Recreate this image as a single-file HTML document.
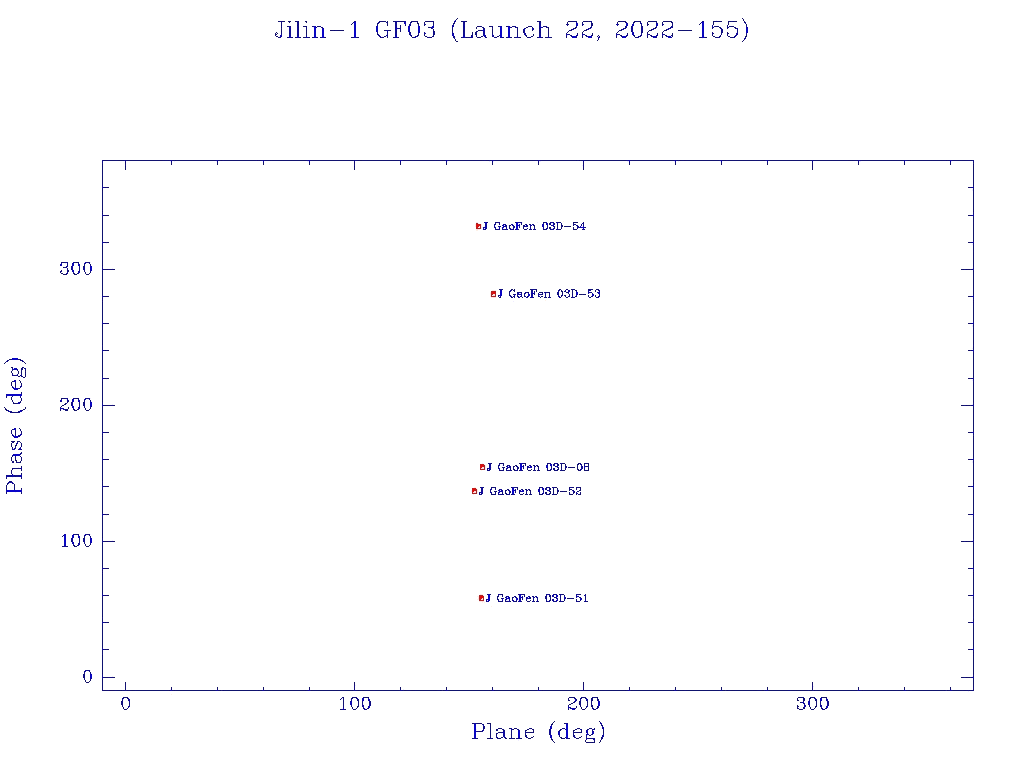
<!DOCTYPE html>
<html><head><meta charset="utf-8"><title>Jilin-1 GF03 (Launch 22, 2022-155)</title>
<style>html,body{margin:0;padding:0;background:#fff;}body{width:1024px;height:768px;overflow:hidden;}svg{display:block;}</style>
</head><body>
<svg width="1024" height="768" viewBox="0 0 1024 768" shape-rendering="crispEdges" role="img" aria-label="Jilin-1 GF03 (Launch 22, 2022-155): Phase (deg) versus Plane (deg) for J GaoFen 03D-54, 03D-53, 03D-08, 03D-52, 03D-51">
<desc>Jilin-1 GF03 (Launch 22, 2022-155). X axis: Plane (deg), ticks 0, 100, 200, 300. Y axis: Phase (deg), ticks 0, 100, 200, 300. Points: J GaoFen 03D-54, J GaoFen 03D-53, J GaoFen 03D-08, J GaoFen 03D-52, J GaoFen 03D-51.</desc>
<rect width="1024" height="768" fill="#fff"/>
<path fill="#eeebff" d="M454 20h1v1h-1zM716 20h1v1h-1zM541 22h1v1h-1zM577 22h1v1h-1zM657 22h1v1h-1zM675 22h1v1h-1zM353 23h1v1h-1zM701 23h1v1h-1zM408 25h1v1h-1zM508 25h1v1h-1zM428 26h1v1h-1zM431 26h1v1h-1zM510 26h1v1h-1zM541 26h1v1h-1zM547 26h1v1h-1zM713 26h1v1h-1zM313 27h1v1h-1zM397 27h1v1h-1zM591 28h1v1h-1zM630 28h1v1h-1zM667 28h1v1h-1zM397 29h1v1h-1zM589 29h1v1h-1zM669 29h1v1h-1zM425 32h1v1h-1zM453 32h1v1h-1zM736 32h1v1h-1zM386 34h1v1h-1zM474 34h1v1h-1zM493 34h1v1h-1zM590 34h1v1h-1zM567 35h1v1h-1zM583 35h1v1h-1zM617 35h1v1h-1zM646 35h1v1h-1zM663 35h1v1h-1zM669 35h1v1h-1zM279 36h1v1h-1zM316 36h1v1h-1zM324 36h1v1h-1zM382 36h1v1h-1zM386 36h1v1h-1zM414 36h1v1h-1zM427 36h1v1h-1zM429 36h1v1h-1zM462 36h1v1h-1zM465 36h1v1h-1zM470 36h1v1h-1zM475 36h1v1h-1zM495 36h1v1h-1zM507 36h1v1h-1zM516 36h1v1h-1zM598 36h1v1h-1zM671 36h1v1h-1zM704 36h1v1h-1zM455 37h1v1h-1zM652 37h1v1h-1zM484 38h1v1h-1zM702 38h1v1h-1zM170 161h1v1h-1zM174 161h1v1h-1zM216 161h1v1h-1zM307 161h2v1h-2zM447 161h1v1h-1zM489 161h1v1h-1zM493 161h1v1h-1zM539 161h2v1h-2zM627 161h2v1h-2zM674 161h1v1h-1zM678 161h1v1h-1zM720 161h1v1h-1zM859 161h2v1h-2zM951 161h1v1h-1zM582 165h1v1h-1zM972 189h1v1h-1zM972 190h1v1h-1zM477 222h1v1h-1zM522 222h1v1h-1zM537 222h1v1h-1zM498 223h1v1h-1zM518 223h1v1h-1zM520 223h1v1h-1zM551 223h2v1h-2zM556 223h1v1h-1zM514 224h1v1h-1zM518 224h1v1h-1zM552 224h1v1h-1zM504 225h1v1h-1zM508 225h1v1h-1zM525 225h1v1h-1zM484 226h1v1h-1zM495 226h1v1h-1zM518 226h1v1h-1zM555 226h1v1h-1zM581 226h2v1h-2zM482 227h1v1h-1zM498 227h1v1h-1zM501 227h1v1h-1zM505 227h1v1h-1zM526 227h1v1h-1zM481 228h1v1h-1zM484 228h1v1h-1zM498 228h1v1h-1zM503 228h1v1h-1zM511 228h2v1h-2zM526 228h1v1h-1zM531 228h1v1h-1zM542 228h1v1h-1zM551 228h2v1h-2zM582 228h1v1h-1zM482 229h1v1h-1zM106 243h1v1h-1zM972 244h1v1h-1zM84 262h1v1h-1zM90 262h1v1h-1zM65 263h1v1h-1zM88 263h1v1h-1zM112 268h1v1h-1zM972 268h1v1h-1zM559 291h1v1h-1zM589 291h1v1h-1zM598 291h1v1h-1zM519 293h2v1h-2zM530 293h1v1h-1zM543 293h2v1h-2zM546 293h1v1h-1zM589 293h1v1h-1zM515 295h1v1h-1zM539 295h2v1h-2zM519 296h1v1h-1zM573 296h1v1h-1zM513 301h1v1h-1zM972 325h1v1h-1zM972 326h1v1h-1zM972 348h1v1h-1zM13 368h1v1h-1zM20 372h1v1h-1zM13 374h1v1h-1zM16 374h1v1h-1zM106 379h1v1h-1zM972 380h1v1h-1zM14 387h1v1h-1zM7 396h1v1h-1zM11 396h1v1h-1zM90 398h1v1h-1zM66 399h1v1h-1zM88 399h1v1h-1zM91 401h1v1h-1zM78 403h1v1h-1zM112 404h1v1h-1zM972 404h1v1h-1zM61 407h1v1h-1zM61 409h2v1h-2zM27 410h1v1h-1zM20 431h1v1h-1zM20 433h1v1h-1zM14 435h1v1h-1zM18 437h1v1h-1zM13 448h1v1h-1zM14 457h1v1h-1zM13 460h1v1h-1zM972 461h1v1h-1zM972 462h1v1h-1zM482 463h1v1h-1zM498 464h1v1h-1zM552 464h1v1h-1zM502 465h1v1h-1zM508 466h1v1h-1zM529 466h1v1h-1zM550 466h1v1h-1zM580 466h1v1h-1zM18 467h1v1h-1zM491 467h1v1h-1zM522 467h1v1h-1zM535 467h1v1h-1zM556 467h1v1h-1zM583 467h1v1h-1zM585 467h1v1h-1zM485 468h1v1h-1zM537 468h1v1h-1zM564 468h1v1h-1zM485 469h1v1h-1zM488 469h1v1h-1zM546 469h1v1h-1zM13 474h1v1h-1zM12 477h1v1h-1zM9 483h1v1h-1zM490 488h1v1h-1zM544 488h1v1h-1zM514 489h1v1h-1zM558 489h1v1h-1zM471 490h1v1h-1zM500 490h1v1h-1zM521 490h1v1h-1zM542 490h1v1h-1zM471 491h1v1h-1zM498 491h1v1h-1zM514 491h1v1h-1zM548 491h1v1h-1zM571 491h2v1h-2zM15 492h1v1h-1zM477 492h1v1h-1zM514 492h1v1h-1zM477 493h1v1h-1zM570 493h1v1h-1zM106 515h1v1h-1zM972 516h1v1h-1zM84 534h1v1h-1zM90 534h1v1h-1zM88 535h1v1h-1zM112 540h1v1h-1zM972 540h1v1h-1zM500 595h1v1h-1zM518 595h1v1h-1zM521 595h1v1h-1zM547 595h1v1h-1zM561 595h1v1h-1zM577 595h2v1h-2zM490 596h1v1h-1zM505 596h1v1h-1zM521 596h1v1h-1zM507 597h1v1h-1zM523 597h1v1h-1zM528 597h1v1h-1zM532 597h1v1h-1zM557 597h1v1h-1zM577 597h1v1h-1zM972 597h1v1h-1zM505 598h1v1h-1zM553 598h1v1h-1zM972 598h1v1h-1zM507 599h2v1h-2zM518 599h1v1h-1zM527 599h1v1h-1zM556 599h1v1h-1zM565 599h1v1h-1zM487 600h1v1h-1zM499 600h1v1h-1zM503 600h1v1h-1zM506 600h3v1h-3zM517 600h2v1h-2zM972 620h1v1h-1zM90 670h1v1h-1zM88 671h1v1h-1zM91 673h1v1h-1zM112 676h1v1h-1zM972 676h1v1h-1zM355 685h1v1h-1zM813 686h1v1h-1zM170 689h1v1h-1zM403 689h1v1h-1zM493 689h1v1h-1zM674 689h1v1h-1zM951 689h1v1h-1zM968 691h1v1h-1zM342 698h1v1h-1zM827 698h1v1h-1zM123 699h1v1h-1zM341 699h1v1h-1zM350 699h1v1h-1zM574 699h1v1h-1zM581 700h1v1h-1zM808 700h1v1h-1zM128 701h1v1h-1zM363 701h1v1h-1zM826 701h1v1h-1zM578 703h1v1h-1zM363 704h1v1h-1zM826 705h1v1h-1zM126 708h1v1h-1zM342 708h1v1h-1zM355 708h1v1h-1zM365 708h1v1h-1zM569 708h1v1h-1zM482 725h1v1h-1zM476 729h1v1h-1zM504 729h1v1h-1zM530 729h1v1h-1zM563 729h1v1h-1zM578 729h1v1h-1zM501 733h1v1h-1zM586 733h1v1h-1zM588 733h1v1h-1zM510 734h1v1h-1zM580 734h1v1h-1zM558 735h1v1h-1zM587 735h1v1h-1zM575 736h1v1h-1zM518 740h1v1h-1zM593 740h1v1h-1z"/>
<path fill="#222376" d="M588 21h1v1h-1zM281 28h1v1h-1zM492 28h1v1h-1zM586 30h1v1h-1zM418 35h1v1h-1zM480 37h1v1h-1zM973 163h1v1h-1zM549 228h1v1h-1zM518 229h1v1h-1zM106 242h1v1h-1zM75 262h1v1h-1zM64 267h1v1h-1zM970 269h1v1h-1zM85 273h1v1h-1zM582 294h1v1h-1zM970 350h1v1h-1zM12 370h1v1h-1zM25 371h1v1h-1zM106 378h1v1h-1zM970 378h1v1h-1zM970 405h1v1h-1zM973 435h1v1h-1zM20 442h1v1h-1zM577 469h1v1h-1zM970 486h1v1h-1zM106 514h1v1h-1zM970 541h1v1h-1zM85 545h1v1h-1zM970 622h1v1h-1zM970 649h1v1h-1zM970 677h1v1h-1zM221 690h1v1h-1zM442 690h1v1h-1zM725 690h1v1h-1zM946 690h1v1h-1zM585 697h1v1h-1zM587 703h1v1h-1zM126 709h1v1h-1zM355 709h1v1h-1zM802 709h1v1h-1zM498 732h1v1h-1zM560 737h1v1h-1z"/>
<path fill="#16167f" d="M279 21h1v1h-1zM411 21h1v1h-1zM622 21h1v1h-1zM637 21h1v1h-1zM731 21h1v1h-1zM281 26h1v1h-1zM320 26h1v1h-1zM481 26h1v1h-1zM491 26h1v1h-1zM730 26h1v1h-1zM483 27h1v1h-1zM517 27h1v1h-1zM672 27h1v1h-1zM484 28h1v1h-1zM590 28h1v1h-1zM306 29h1v1h-1zM722 29h1v1h-1zM385 30h1v1h-1zM648 34h1v1h-1zM385 36h1v1h-1zM586 36h1v1h-1zM666 36h1v1h-1zM279 37h1v1h-1zM494 37h1v1h-1zM530 37h1v1h-1zM550 37h1v1h-1zM636 37h1v1h-1zM174 160h1v1h-1zM489 160h1v1h-1zM678 160h1v1h-1zM102 163h1v1h-1zM125 165h1v1h-1zM354 165h1v1h-1zM102 210h1v1h-1zM102 212h1v1h-1zM973 212h1v1h-1zM561 224h1v1h-1zM573 224h1v1h-1zM554 226h1v1h-1zM509 228h1v1h-1zM495 229h1v1h-1zM504 229h1v1h-1zM526 229h1v1h-1zM970 242h1v1h-1zM973 244h1v1h-1zM973 267h1v1h-1zM964 269h1v1h-1zM598 289h1v1h-1zM526 292h1v1h-1zM510 295h1v1h-1zM102 299h1v1h-1zM973 299h1v1h-1zM102 301h1v1h-1zM102 345h1v1h-1zM106 350h1v1h-1zM23 361h1v1h-1zM23 367h1v1h-1zM25 368h1v1h-1zM25 373h1v1h-1zM21 398h1v1h-1zM75 398h1v1h-1zM12 401h1v1h-1zM66 403h1v1h-1zM973 403h1v1h-1zM964 405h1v1h-1zM11 411h1v1h-1zM18 411h1v1h-1zM21 431h1v1h-1zM21 433h1v1h-1zM102 435h1v1h-1zM21 459h1v1h-1zM13 461h1v1h-1zM553 464h1v1h-1zM565 465h1v1h-1zM566 466h1v1h-1zM561 468h1v1h-1zM503 469h1v1h-1zM102 481h1v1h-1zM106 486h1v1h-1zM6 487h1v1h-1zM541 487h1v1h-1zM545 488h1v1h-1zM495 489h1v1h-1zM508 489h1v1h-1zM557 489h1v1h-1zM578 491h1v1h-1zM495 493h1v1h-1zM542 494h1v1h-1zM970 514h1v1h-1zM973 516h1v1h-1zM75 534h1v1h-1zM973 539h1v1h-1zM964 541h1v1h-1zM63 546h1v1h-1zM102 571h1v1h-1zM973 571h1v1h-1zM102 573h1v1h-1zM500 594h1v1h-1zM522 594h1v1h-1zM578 594h1v1h-1zM535 596h1v1h-1zM533 598h1v1h-1zM537 598h1v1h-1zM570 598h1v1h-1zM498 601h1v1h-1zM554 601h1v1h-1zM584 601h1v1h-1zM102 617h1v1h-1zM106 622h1v1h-1zM106 649h1v1h-1zM102 654h1v1h-1zM973 675h1v1h-1zM964 677h1v1h-1zM126 690h1v1h-1zM310 690h1v1h-1zM353 690h1v1h-1zM403 690h1v1h-1zM537 690h1v1h-1zM580 690h1v1h-1zM630 690h1v1h-1zM764 690h1v1h-1zM808 690h1v1h-1zM857 690h1v1h-1zM968 690h1v1h-1zM354 697h1v1h-1zM358 700h1v1h-1zM828 701h1v1h-1zM129 702h1v1h-1zM129 705h1v1h-1zM587 705h1v1h-1zM828 705h1v1h-1zM352 708h1v1h-1zM476 723h1v1h-1zM484 728h1v1h-1zM529 728h1v1h-1zM561 729h1v1h-1zM588 729h1v1h-1zM594 729h1v1h-1zM497 730h1v1h-1zM586 736h1v1h-1zM497 738h1v1h-1zM591 738h1v1h-1zM593 742h1v1h-1z"/>
<path fill="#161665" d="M457 18h1v1h-1zM742 18h1v1h-1zM456 19h1v1h-1zM278 21h1v1h-1zM305 21h1v1h-1zM387 21h1v1h-1zM618 21h1v1h-1zM721 21h1v1h-1zM735 21h1v1h-1zM744 21h1v1h-1zM306 22h1v1h-1zM567 22h1v1h-1zM617 22h1v1h-1zM647 22h1v1h-1zM352 23h1v1h-1zM417 23h1v1h-1zM713 23h1v1h-1zM618 24h1v1h-1zM400 26h1v1h-1zM428 27h1v1h-1zM476 28h1v1h-1zM281 30h1v1h-1zM384 30h1v1h-1zM389 30h1v1h-1zM480 30h1v1h-1zM306 31h1v1h-1zM400 31h1v1h-1zM583 31h1v1h-1zM648 31h1v1h-1zM472 32h1v1h-1zM567 32h1v1h-1zM582 32h1v1h-1zM672 33h1v1h-1zM306 34h1v1h-1zM598 35h1v1h-1zM746 35h1v1h-1zM532 36h1v1h-1zM745 36h1v1h-1zM412 37h1v1h-1zM461 37h1v1h-1zM486 37h1v1h-1zM503 37h1v1h-1zM545 37h1v1h-1zM582 37h1v1h-1zM616 37h1v1h-1zM456 41h2v1h-2zM580 160h1v1h-1zM171 163h1v1h-1zM263 163h1v1h-1zM309 163h1v1h-1zM400 163h1v1h-1zM446 163h1v1h-1zM492 163h1v1h-1zM538 163h1v1h-1zM629 163h1v1h-1zM675 163h1v1h-1zM721 163h1v1h-1zM767 163h1v1h-1zM858 163h1v1h-1zM904 163h1v1h-1zM108 215h1v1h-1zM515 222h1v1h-1zM549 224h1v1h-1zM509 225h1v1h-1zM534 225h1v1h-1zM562 225h1v1h-1zM500 226h1v1h-1zM557 226h1v1h-1zM564 226h1v1h-1zM570 226h1v1h-1zM573 227h1v1h-1zM515 229h1v1h-1zM968 242h1v1h-1zM61 273h1v1h-1zM74 273h1v1h-1zM86 274h1v1h-1zM530 289h1v1h-1zM596 289h1v1h-1zM514 291h1v1h-1zM566 292h1v1h-1zM580 294h1v1h-1zM108 296h1v1h-1zM565 296h1v1h-1zM522 297h1v1h-1zM550 297h1v1h-1zM968 323h1v1h-1zM968 350h1v1h-1zM10 359h1v1h-1zM5 362h1v1h-1zM25 363h1v1h-1zM11 372h1v1h-1zM18 373h1v1h-1zM11 382h1v1h-1zM11 398h1v1h-1zM61 398h1v1h-1zM61 406h1v1h-1zM25 408h1v1h-1zM85 409h1v1h-1zM60 410h1v1h-1zM86 410h1v1h-1zM20 429h1v1h-1zM11 441h1v1h-1zM19 441h1v1h-1zM11 443h1v1h-1zM11 446h1v1h-1zM12 447h1v1h-1zM16 460h1v1h-1zM588 463h1v1h-1zM525 465h1v1h-1zM21 466h1v1h-1zM514 466h1v1h-1zM518 468h1v1h-1zM527 469h1v1h-1zM21 470h1v1h-1zM537 470h1v1h-1zM584 470h1v1h-1zM6 478h1v1h-1zM968 486h1v1h-1zM556 487h1v1h-1zM517 489h1v1h-1zM506 490h1v1h-1zM565 491h1v1h-1zM519 493h1v1h-1zM522 494h1v1h-1zM571 494h1v1h-1zM968 514h1v1h-1zM62 546h1v1h-1zM86 546h1v1h-1zM108 568h1v1h-1zM563 594h1v1h-1zM968 595h1v1h-1zM502 596h1v1h-1zM501 598h1v1h-1zM505 599h1v1h-1zM530 600h1v1h-1zM529 601h1v1h-1zM538 601h1v1h-1zM559 601h1v1h-1zM968 622h1v1h-1zM968 649h1v1h-1zM85 681h1v1h-1zM86 682h1v1h-1zM168 690h1v1h-1zM798 697h1v1h-1zM824 697h1v1h-1zM826 697h1v1h-1zM810 698h1v1h-1zM804 700h1v1h-1zM571 703h1v1h-1zM121 704h1v1h-1zM569 704h1v1h-1zM798 706h1v1h-1zM576 707h1v1h-1zM810 708h1v1h-1zM814 708h1v1h-1zM340 709h1v1h-1zM472 723h1v1h-1zM488 723h1v1h-1zM552 723h1v1h-1zM509 728h1v1h-1zM560 730h1v1h-1zM573 730h1v1h-1zM530 732h1v1h-1zM533 736h1v1h-1zM581 736h1v1h-1zM477 738h1v1h-1zM492 738h1v1h-1zM516 738h1v1h-1zM521 738h1v1h-1zM528 738h1v1h-1zM530 738h1v1h-1zM569 738h1v1h-1zM578 738h1v1h-1zM553 741h1v1h-1z"/>
<path fill="#13147d" d="M403 21h1v1h-1zM636 21h1v1h-1zM387 22h1v1h-1zM410 22h1v1h-1zM656 22h1v1h-1zM591 24h1v1h-1zM672 24h1v1h-1zM718 26h1v1h-1zM399 28h1v1h-1zM737 30h1v1h-1zM387 33h1v1h-1zM721 33h1v1h-1zM409 34h1v1h-1zM306 35h1v1h-1zM472 35h1v1h-1zM476 35h1v1h-1zM499 35h1v1h-1zM548 35h1v1h-1zM570 35h2v1h-2zM305 37h1v1h-1zM453 37h1v1h-1zM733 37h1v1h-1zM126 160h1v1h-1zM353 160h1v1h-1zM356 160h1v1h-1zM399 160h1v1h-1zM448 160h1v1h-1zM719 160h1v1h-1zM768 160h1v1h-1zM973 188h1v1h-1zM561 223h1v1h-1zM525 224h1v1h-1zM583 224h1v1h-1zM102 244h1v1h-1zM67 262h1v1h-1zM102 266h1v1h-1zM102 270h1v1h-1zM546 292h2v1h-2zM569 295h1v1h-1zM517 296h1v1h-1zM544 297h1v1h-1zM973 324h1v1h-1zM973 327h1v1h-1zM973 345h1v1h-1zM21 370h1v1h-1zM102 380h1v1h-1zM973 381h1v1h-1zM12 396h1v1h-1zM89 398h1v1h-1zM84 401h1v1h-1zM102 402h1v1h-1zM84 406h1v1h-1zM102 406h1v1h-1zM18 435h1v1h-1zM102 437h1v1h-1zM18 449h1v1h-1zM15 457h1v1h-1zM973 460h1v1h-1zM503 465h1v1h-1zM577 465h1v1h-1zM588 465h1v1h-1zM585 470h1v1h-1zM14 486h1v1h-1zM522 489h1v1h-1zM570 489h1v1h-1zM481 494h1v1h-1zM578 494h1v1h-1zM102 516h1v1h-1zM102 538h1v1h-1zM102 542h1v1h-1zM973 596h1v1h-1zM497 597h1v1h-1zM550 597h1v1h-1zM973 599h1v1h-1zM973 617h1v1h-1zM89 670h1v1h-1zM84 673h1v1h-1zM102 674h1v1h-1zM84 678h1v1h-1zM102 678h1v1h-1zM122 690h1v1h-1zM594 697h1v1h-1zM803 697h1v1h-1zM351 698h1v1h-1zM597 700h1v1h-1zM370 701h1v1h-1zM121 703h1v1h-1zM570 707h1v1h-1zM483 724h1v1h-1zM517 729h1v1h-1zM504 730h1v1h-1zM580 732h1v1h-1zM603 733h1v1h-1zM496 735h1v1h-1zM525 735h1v1h-1z"/>
<path fill="#0e146c" d="M715 26h1v1h-1zM634 35h1v1h-1zM586 160h2v1h-2zM973 168h1v1h-1zM973 170h1v1h-1zM973 171h1v1h-1zM973 172h1v1h-1zM973 173h1v1h-1zM973 174h1v1h-1zM973 175h1v1h-1zM102 178h1v1h-1zM973 184h1v1h-1zM973 193h1v1h-1zM973 194h1v1h-1zM973 195h1v1h-1zM973 196h1v1h-1zM973 197h1v1h-1zM973 198h1v1h-1zM973 199h1v1h-1zM973 200h1v1h-1zM973 201h1v1h-1zM973 202h1v1h-1zM973 203h1v1h-1zM973 204h1v1h-1zM973 205h1v1h-1zM973 206h1v1h-1zM973 207h1v1h-1zM973 217h1v1h-1zM973 218h1v1h-1zM973 219h1v1h-1zM549 223h1v1h-1zM973 225h1v1h-1zM973 226h1v1h-1zM973 227h1v1h-1zM973 228h1v1h-1zM973 229h1v1h-1zM973 230h1v1h-1zM973 231h1v1h-1zM973 232h1v1h-1zM973 233h1v1h-1zM973 234h1v1h-1zM973 235h1v1h-1zM973 236h1v1h-1zM973 237h1v1h-1zM973 238h1v1h-1zM973 239h1v1h-1zM973 248h1v1h-1zM973 249h1v1h-1zM102 250h1v1h-1zM102 251h1v1h-1zM973 253h1v1h-1zM973 258h1v1h-1zM973 259h1v1h-1zM973 261h1v1h-1zM973 273h1v1h-1zM973 274h1v1h-1zM973 275h1v1h-1zM973 276h1v1h-1zM973 277h1v1h-1zM973 278h1v1h-1zM973 279h1v1h-1zM973 280h1v1h-1zM973 281h1v1h-1zM973 282h1v1h-1zM973 283h1v1h-1zM973 284h1v1h-1zM973 285h1v1h-1zM973 286h1v1h-1zM973 292h1v1h-1zM973 293h1v1h-1zM973 294h1v1h-1zM500 297h1v1h-1zM973 304h1v1h-1zM973 305h1v1h-1zM973 306h1v1h-1zM973 307h1v1h-1zM973 308h1v1h-1zM973 309h1v1h-1zM973 310h1v1h-1zM973 311h1v1h-1zM973 312h1v1h-1zM973 313h1v1h-1zM973 314h1v1h-1zM973 315h1v1h-1zM973 316h1v1h-1zM973 317h1v1h-1zM973 318h1v1h-1zM973 319h1v1h-1zM973 320h1v1h-1zM102 325h1v1h-1zM973 325h1v1h-1zM973 328h1v1h-1zM973 329h1v1h-1zM102 330h1v1h-1zM102 331h1v1h-1zM973 333h1v1h-1zM973 341h1v1h-1zM102 343h1v1h-1zM973 348h1v1h-1zM973 353h1v1h-1zM973 354h1v1h-1zM973 355h1v1h-1zM973 356h1v1h-1zM973 357h1v1h-1zM973 358h1v1h-1zM973 359h1v1h-1zM973 360h1v1h-1zM973 361h1v1h-1zM973 362h1v1h-1zM973 363h1v1h-1zM973 364h1v1h-1zM973 365h1v1h-1zM973 366h1v1h-1zM102 370h1v1h-1zM15 385h1v1h-1zM973 385h1v1h-1zM973 386h1v1h-1zM973 387h1v1h-1zM973 388h1v1h-1zM973 389h1v1h-1zM973 390h1v1h-1zM973 391h1v1h-1zM973 392h1v1h-1zM973 393h1v1h-1zM973 394h1v1h-1zM973 395h1v1h-1zM973 396h1v1h-1zM973 397h1v1h-1zM973 398h1v1h-1zM90 400h1v1h-1zM79 403h1v1h-1zM79 404h1v1h-1zM73 409h1v1h-1zM973 409h1v1h-1zM973 410h1v1h-1zM973 411h1v1h-1zM973 417h1v1h-1zM973 418h1v1h-1zM973 419h1v1h-1zM973 420h1v1h-1zM973 421h1v1h-1zM973 422h1v1h-1zM973 423h1v1h-1zM973 424h1v1h-1zM973 425h1v1h-1zM973 426h1v1h-1zM973 427h1v1h-1zM973 428h1v1h-1zM973 429h1v1h-1zM973 430h1v1h-1zM102 440h1v1h-1zM973 442h1v1h-1zM102 450h1v1h-1zM973 456h1v1h-1zM973 465h1v1h-1zM561 466h1v1h-1zM973 466h1v1h-1zM973 467h1v1h-1zM973 468h1v1h-1zM973 469h1v1h-1zM547 470h1v1h-1zM973 470h1v1h-1zM973 471h1v1h-1zM973 472h1v1h-1zM973 473h1v1h-1zM973 474h1v1h-1zM973 475h1v1h-1zM973 476h1v1h-1zM973 477h1v1h-1zM973 478h1v1h-1zM973 479h1v1h-1zM7 483h1v1h-1zM553 489h1v1h-1zM973 489h1v1h-1zM973 490h1v1h-1zM973 491h1v1h-1zM973 497h1v1h-1zM973 498h1v1h-1zM973 499h1v1h-1zM973 500h1v1h-1zM973 501h1v1h-1zM973 502h1v1h-1zM973 503h1v1h-1zM973 504h1v1h-1zM973 505h1v1h-1zM973 506h1v1h-1zM973 507h1v1h-1zM973 508h1v1h-1zM973 509h1v1h-1zM973 510h1v1h-1zM973 511h1v1h-1zM973 520h1v1h-1zM973 521h1v1h-1zM102 522h1v1h-1zM102 523h1v1h-1zM973 525h1v1h-1zM973 530h1v1h-1zM973 531h1v1h-1zM973 533h1v1h-1zM77 545h1v1h-1zM973 545h1v1h-1zM973 546h1v1h-1zM973 547h1v1h-1zM973 548h1v1h-1zM973 549h1v1h-1zM973 550h1v1h-1zM973 551h1v1h-1zM973 552h1v1h-1zM973 553h1v1h-1zM973 554h1v1h-1zM973 555h1v1h-1zM973 556h1v1h-1zM973 557h1v1h-1zM973 558h1v1h-1zM973 564h1v1h-1zM973 565h1v1h-1zM973 566h1v1h-1zM973 576h1v1h-1zM973 577h1v1h-1zM973 578h1v1h-1zM973 579h1v1h-1zM973 580h1v1h-1zM973 581h1v1h-1zM973 582h1v1h-1zM973 583h1v1h-1zM973 584h1v1h-1zM973 585h1v1h-1zM973 586h1v1h-1zM973 587h1v1h-1zM973 588h1v1h-1zM973 589h1v1h-1zM973 590h1v1h-1zM973 591h1v1h-1zM973 592h1v1h-1zM550 595h1v1h-1zM102 597h1v1h-1zM505 597h1v1h-1zM512 597h1v1h-1zM579 597h1v1h-1zM973 597h1v1h-1zM550 600h1v1h-1zM973 600h1v1h-1zM973 601h1v1h-1zM102 602h1v1h-1zM102 603h1v1h-1zM973 605h1v1h-1zM973 613h1v1h-1zM102 615h1v1h-1zM973 620h1v1h-1zM973 625h1v1h-1zM973 626h1v1h-1zM973 627h1v1h-1zM973 628h1v1h-1zM973 629h1v1h-1zM973 630h1v1h-1zM973 631h1v1h-1zM973 632h1v1h-1zM973 633h1v1h-1zM973 634h1v1h-1zM973 635h1v1h-1zM973 636h1v1h-1zM973 637h1v1h-1zM973 638h1v1h-1zM973 644h1v1h-1zM973 645h1v1h-1zM973 646h1v1h-1zM973 656h1v1h-1zM973 657h1v1h-1zM973 658h1v1h-1zM973 659h1v1h-1zM973 660h1v1h-1zM973 661h1v1h-1zM973 662h1v1h-1zM973 663h1v1h-1zM973 664h1v1h-1zM973 665h1v1h-1zM973 666h1v1h-1zM973 667h1v1h-1zM973 668h1v1h-1zM973 669h1v1h-1zM973 670h1v1h-1zM90 672h1v1h-1zM973 681h1v1h-1zM973 682h1v1h-1zM973 683h1v1h-1zM133 690h1v1h-1zM141 690h1v1h-1zM145 690h1v1h-1zM147 690h1v1h-1zM149 690h1v1h-1zM151 690h1v1h-1zM153 690h1v1h-1zM155 690h1v1h-1zM157 690h1v1h-1zM159 690h5v1h-5zM167 690h1v1h-1zM177 690h1v1h-1zM179 690h1v1h-1zM181 690h1v1h-1zM183 690h1v1h-1zM185 690h1v1h-1zM187 690h1v1h-1zM189 690h1v1h-1zM191 690h1v1h-1zM193 690h1v1h-1zM195 690h1v1h-1zM197 690h1v1h-1zM199 690h1v1h-1zM201 690h1v1h-1zM203 690h1v1h-1zM205 690h1v1h-1zM211 690h4v1h-4zM225 690h1v1h-1zM227 690h1v1h-1zM229 690h1v1h-1zM231 690h1v1h-1zM233 690h1v1h-1zM235 690h1v1h-1zM237 690h1v1h-1zM239 690h1v1h-1zM241 690h1v1h-1zM243 690h1v1h-1zM245 690h1v1h-1zM247 690h1v1h-1zM249 690h1v1h-1zM251 690h1v1h-1zM253 690h1v1h-1zM259 690h1v1h-1zM265 690h5v1h-5zM273 690h1v1h-1zM275 690h1v1h-1zM277 690h1v1h-1zM279 690h1v1h-1zM281 690h1v1h-1zM283 690h1v1h-1zM285 690h1v1h-1zM287 690h1v1h-1zM289 690h1v1h-1zM291 690h1v1h-1zM293 690h1v1h-1zM295 690h1v1h-1zM297 690h1v1h-1zM299 690h1v1h-1zM301 690h1v1h-1zM312 690h1v1h-1zM316 690h6v1h-6zM323 690h1v1h-1zM325 690h1v1h-1zM327 690h1v1h-1zM329 690h1v1h-1zM331 690h1v1h-1zM333 690h1v1h-1zM335 690h1v1h-1zM359 690h1v1h-1zM377 690h2v1h-2zM385 690h1v1h-1zM387 690h1v1h-1zM389 690h1v1h-1zM391 690h1v1h-1zM393 690h1v1h-1zM395 690h1v1h-1zM397 690h1v1h-1zM404 690h1v1h-1zM417 690h1v1h-1zM419 690h1v1h-1zM421 690h1v1h-1zM423 690h1v1h-1zM425 690h1v1h-1zM427 690h1v1h-1zM429 690h1v1h-1zM449 690h1v1h-1zM451 690h1v1h-1zM453 690h1v1h-1zM455 690h1v1h-1zM457 690h1v1h-1zM459 690h1v1h-1zM461 690h1v1h-1zM463 690h1v1h-1zM465 690h1v1h-1zM467 690h1v1h-1zM469 690h1v1h-1zM471 690h1v1h-1zM473 690h1v1h-1zM475 690h1v1h-1zM477 690h1v1h-1zM479 690h1v1h-1zM484 690h2v1h-2zM496 690h2v1h-2zM499 690h1v1h-1zM501 690h1v1h-1zM503 690h1v1h-1zM505 690h1v1h-1zM507 690h1v1h-1zM509 690h1v1h-1zM511 690h1v1h-1zM513 690h1v1h-1zM515 690h1v1h-1zM517 690h1v1h-1zM519 690h1v1h-1zM521 690h1v1h-1zM523 690h1v1h-1zM525 690h1v1h-1zM527 690h5v1h-5zM535 690h1v1h-1zM545 690h1v1h-1zM547 690h1v1h-1zM549 690h1v1h-1zM551 690h1v1h-1zM553 690h1v1h-1zM555 690h1v1h-1zM557 690h1v1h-1zM569 690h2v1h-2zM585 690h1v1h-1zM597 690h1v1h-1zM600 690h1v1h-1zM609 690h1v1h-1zM611 690h1v1h-1zM613 690h1v1h-1zM615 690h1v1h-1zM617 690h1v1h-1zM619 690h1v1h-1zM621 690h1v1h-1zM632 690h1v1h-1zM636 690h6v1h-6zM643 690h1v1h-1zM645 690h1v1h-1zM647 690h1v1h-1zM649 690h1v1h-1zM651 690h1v1h-1zM653 690h1v1h-1zM655 690h1v1h-1zM657 690h1v1h-1zM659 690h1v1h-1zM661 690h1v1h-1zM663 690h1v1h-1zM665 690h1v1h-1zM667 690h1v1h-1zM669 690h1v1h-1zM671 690h1v1h-1zM688 690h2v1h-2zM691 690h1v1h-1zM693 690h1v1h-1zM695 690h1v1h-1zM697 690h1v1h-1zM699 690h1v1h-1zM701 690h1v1h-1zM703 690h1v1h-1zM705 690h1v1h-1zM707 690h1v1h-1zM709 690h1v1h-1zM711 690h1v1h-1zM713 690h1v1h-1zM715 690h1v1h-1zM717 690h1v1h-1zM737 690h1v1h-1zM739 690h1v1h-1zM741 690h1v1h-1zM743 690h1v1h-1zM745 690h1v1h-1zM747 690h1v1h-1zM749 690h1v1h-1zM769 690h1v1h-1zM771 690h1v1h-1zM773 690h1v1h-1zM775 690h1v1h-1zM777 690h1v1h-1zM779 690h1v1h-1zM781 690h1v1h-1zM786 690h1v1h-1zM795 690h1v1h-1zM798 690h1v1h-1zM833 690h1v1h-1zM835 690h1v1h-1zM837 690h1v1h-1zM839 690h1v1h-1zM841 690h1v1h-1zM843 690h1v1h-1zM845 690h1v1h-1zM847 690h5v1h-5zM855 690h1v1h-1zM865 690h1v1h-1zM867 690h1v1h-1zM869 690h1v1h-1zM871 690h1v1h-1zM873 690h1v1h-1zM875 690h1v1h-1zM877 690h1v1h-1zM879 690h1v1h-1zM881 690h1v1h-1zM883 690h1v1h-1zM885 690h1v1h-1zM887 690h1v1h-1zM889 690h1v1h-1zM891 690h1v1h-1zM893 690h1v1h-1zM899 690h4v1h-4zM908 690h1v1h-1zM913 690h1v1h-1zM915 690h1v1h-1zM917 690h1v1h-1zM919 690h1v1h-1zM921 690h1v1h-1zM923 690h1v1h-1zM925 690h1v1h-1zM927 690h1v1h-1zM929 690h1v1h-1zM931 690h1v1h-1zM933 690h1v1h-1zM935 690h1v1h-1zM937 690h1v1h-1zM939 690h1v1h-1zM941 690h1v1h-1zM953 690h5v1h-5zM810 697h1v1h-1zM814 697h1v1h-1zM581 731h1v1h-1z"/>
<path fill="#131463" d="M743 20h1v1h-1zM284 21h1v1h-1zM290 21h1v1h-1zM295 21h1v1h-1zM306 21h1v1h-1zM393 21h1v1h-1zM461 21h1v1h-1zM466 21h1v1h-1zM537 21h1v1h-1zM648 21h1v1h-1zM736 21h1v1h-1zM289 22h1v1h-1zM713 22h1v1h-1zM418 23h1v1h-1zM700 23h1v1h-1zM351 24h1v1h-1zM568 24h1v1h-1zM648 24h1v1h-1zM699 24h1v1h-1zM728 24h1v1h-1zM746 24h1v1h-1zM387 25h1v1h-1zM400 25h1v1h-1zM405 25h1v1h-1zM287 26h1v1h-1zM303 26h1v1h-1zM489 26h1v1h-1zM498 26h1v1h-1zM506 26h1v1h-1zM727 28h1v1h-1zM330 30h1v1h-1zM343 30h1v1h-1zM390 30h1v1h-1zM678 30h1v1h-1zM691 30h1v1h-1zM647 32h1v1h-1zM577 33h1v1h-1zM592 33h1v1h-1zM627 33h1v1h-1zM657 33h1v1h-1zM728 33h1v1h-1zM533 34h1v1h-1zM424 35h1v1h-1zM533 35h1v1h-1zM712 35h1v1h-1zM425 36h1v1h-1zM498 36h1v1h-1zM292 37h1v1h-1zM295 37h1v1h-1zM303 37h1v1h-1zM309 37h1v1h-1zM312 37h1v1h-1zM325 37h1v1h-1zM351 37h1v1h-1zM358 37h1v1h-1zM387 37h1v1h-1zM393 37h1v1h-1zM506 37h1v1h-1zM511 37h1v1h-1zM520 37h1v1h-1zM537 37h1v1h-1zM542 37h1v1h-1zM551 37h1v1h-1zM662 37h1v1h-1zM699 37h2v1h-2zM706 37h1v1h-1zM455 40h1v1h-1zM597 40h1v1h-1zM217 163h1v1h-1zM950 163h1v1h-1zM171 164h1v1h-1zM217 164h1v1h-1zM263 164h1v1h-1zM309 164h1v1h-1zM400 164h1v1h-1zM446 164h1v1h-1zM492 164h1v1h-1zM538 164h1v1h-1zM629 164h1v1h-1zM675 164h1v1h-1zM721 164h1v1h-1zM767 164h1v1h-1zM858 164h1v1h-1zM904 164h1v1h-1zM950 164h1v1h-1zM125 168h1v1h-1zM354 168h1v1h-1zM812 168h1v1h-1zM125 169h1v1h-1zM354 169h1v1h-1zM583 169h1v1h-1zM812 169h1v1h-1zM108 187h1v1h-1zM968 215h1v1h-1zM577 222h1v1h-1zM499 224h1v1h-1zM529 224h1v1h-1zM585 227h1v1h-1zM529 229h1v1h-1zM533 229h1v1h-1zM108 242h1v1h-1zM63 267h1v1h-1zM105 269h1v1h-1zM114 269h1v1h-1zM961 269h1v1h-1zM90 272h1v1h-1zM62 273h1v1h-1zM89 273h1v1h-1zM63 274h1v1h-1zM76 274h1v1h-1zM88 274h1v1h-1zM499 289h1v1h-1zM502 289h1v1h-1zM511 289h2v1h-2zM514 289h1v1h-1zM560 289h1v1h-1zM571 289h1v1h-1zM574 289h1v1h-1zM592 289h1v1h-1zM575 290h1v1h-1zM595 291h1v1h-1zM513 294h1v1h-1zM579 294h1v1h-1zM585 294h1v1h-1zM588 295h1v1h-1zM595 295h1v1h-1zM542 296h1v1h-1zM595 296h1v1h-1zM968 296h1v1h-1zM546 297h1v1h-1zM571 297h1v1h-1zM108 323h1v1h-1zM108 350h1v1h-1zM9 359h1v1h-1zM4 363h1v1h-1zM11 367h1v1h-1zM11 371h1v1h-1zM18 371h1v1h-1zM108 378h1v1h-1zM19 380h1v1h-1zM12 381h1v1h-1zM20 381h1v1h-1zM20 382h1v1h-1zM11 385h1v1h-1zM21 392h1v1h-1zM6 397h1v1h-1zM11 397h1v1h-1zM62 405h2v1h-2zM105 405h2v1h-2zM114 405h1v1h-1zM961 405h1v1h-1zM4 407h1v1h-1zM25 407h1v1h-1zM68 407h1v1h-1zM90 408h1v1h-1zM23 409h1v1h-1zM74 409h1v1h-1zM89 409h1v1h-1zM76 410h1v1h-1zM88 410h1v1h-1zM19 428h1v1h-1zM12 429h1v1h-1zM108 432h1v1h-1zM968 432h1v1h-1zM14 441h1v1h-1zM11 457h1v1h-1zM108 459h1v1h-1zM15 460h1v1h-1zM519 463h1v1h-1zM525 463h1v1h-1zM515 465h1v1h-1zM533 465h1v1h-1zM504 467h1v1h-1zM574 467h1v1h-1zM523 468h1v1h-1zM531 469h1v1h-1zM578 469h1v1h-1zM528 470h1v1h-1zM530 470h1v1h-1zM533 470h1v1h-1zM21 473h1v1h-1zM21 478h1v1h-1zM108 486h1v1h-1zM511 487h1v1h-1zM573 487h1v1h-1zM507 489h1v1h-1zM525 489h1v1h-1zM569 490h1v1h-1zM496 491h1v1h-1zM566 491h1v1h-1zM515 492h1v1h-1zM6 493h1v1h-1zM21 493h1v1h-1zM523 493h1v1h-1zM549 493h1v1h-1zM520 494h1v1h-1zM525 494h1v1h-1zM529 494h1v1h-1zM572 494h1v1h-1zM576 494h1v1h-1zM108 514h1v1h-1zM62 536h1v1h-1zM105 541h1v1h-1zM114 541h1v1h-1zM961 541h1v1h-1zM90 544h1v1h-1zM89 545h1v1h-1zM67 546h1v1h-1zM76 546h1v1h-1zM88 546h1v1h-1zM968 568h1v1h-1zM487 594h1v1h-1zM559 594h1v1h-1zM580 594h1v1h-1zM108 595h1v1h-1zM567 598h1v1h-1zM573 598h1v1h-1zM576 599h1v1h-1zM510 601h1v1h-1zM534 601h1v1h-1zM587 601h1v1h-1zM108 622h1v1h-1zM108 649h1v1h-1zM105 677h2v1h-2zM114 677h1v1h-1zM961 677h1v1h-1zM90 680h1v1h-1zM89 681h1v1h-1zM88 682h1v1h-1zM125 682h1v1h-1zM354 682h1v1h-1zM583 682h1v1h-1zM812 682h1v1h-1zM171 687h1v1h-1zM217 687h1v1h-1zM263 687h1v1h-1zM309 687h1v1h-1zM400 687h1v1h-1zM446 687h1v1h-1zM492 687h1v1h-1zM538 687h1v1h-1zM629 687h1v1h-1zM675 687h1v1h-1zM721 687h1v1h-1zM767 687h1v1h-1zM858 687h1v1h-1zM904 687h1v1h-1zM950 687h1v1h-1zM217 688h1v1h-1zM263 688h1v1h-1zM400 688h1v1h-1zM446 688h1v1h-1zM492 688h1v1h-1zM675 688h1v1h-1zM721 688h1v1h-1zM767 688h1v1h-1zM904 688h1v1h-1zM950 688h1v1h-1zM797 700h2v1h-2zM800 702h1v1h-1zM570 704h1v1h-1zM797 705h1v1h-1zM351 706h1v1h-1zM576 706h1v1h-1zM810 707h1v1h-1zM356 708h1v1h-1zM585 708h1v1h-1zM345 709h1v1h-1zM568 709h1v1h-1zM554 721h1v1h-1zM599 721h1v1h-1zM553 722h1v1h-1zM487 723h1v1h-1zM490 723h1v1h-1zM527 729h1v1h-1zM575 729h1v1h-1zM526 730h1v1h-1zM574 730h1v1h-1zM501 737h1v1h-1zM472 738h1v1h-1zM487 738h2v1h-2zM506 738h1v1h-1zM509 738h1v1h-1zM514 738h1v1h-1zM561 738h1v1h-1zM564 738h1v1h-1zM576 738h1v1h-1zM600 741h1v1h-1zM554 742h1v1h-1zM599 742h1v1h-1z"/>
<path fill="#141383" d="M280 21h1v1h-1zM355 21h1v1h-1zM394 21h1v1h-1zM353 22h1v1h-1zM386 22h1v1h-1zM540 22h1v1h-1zM591 22h1v1h-1zM745 22h1v1h-1zM297 23h1v1h-1zM387 23h1v1h-1zM582 23h1v1h-1zM745 23h1v1h-1zM297 24h1v1h-1zM424 24h1v1h-1zM641 24h1v1h-1zM298 25h1v1h-1zM288 26h1v1h-1zM714 26h1v1h-1zM306 27h1v1h-1zM430 27h1v1h-1zM482 27h1v1h-1zM547 27h1v1h-1zM737 28h1v1h-1zM433 30h1v1h-1zM620 30h1v1h-1zM424 32h1v1h-1zM434 32h1v1h-1zM476 32h1v1h-1zM475 33h1v1h-1zM616 33h1v1h-1zM618 34h1v1h-1zM657 34h1v1h-1zM735 35h1v1h-1zM387 36h1v1h-1zM492 36h1v1h-1zM356 37h1v1h-1zM427 37h1v1h-1zM472 37h1v1h-1zM576 37h1v1h-1zM656 37h1v1h-1zM719 37h1v1h-1zM454 38h1v1h-1zM102 160h1v1h-1zM172 160h1v1h-1zM261 160h1v1h-1zM402 160h1v1h-1zM491 160h1v1h-1zM494 160h1v1h-1zM540 160h1v1h-1zM676 160h1v1h-1zM765 160h1v1h-1zM860 160h1v1h-1zM906 160h1v1h-1zM545 222h1v1h-1zM550 222h1v1h-1zM556 222h1v1h-1zM521 223h1v1h-1zM573 223h1v1h-1zM530 224h1v1h-1zM533 224h1v1h-1zM577 225h1v1h-1zM523 226h1v1h-1zM527 226h1v1h-1zM530 226h1v1h-1zM561 226h1v1h-1zM514 227h1v1h-1zM486 228h1v1h-1zM527 228h1v1h-1zM483 229h1v1h-1zM485 229h1v1h-1zM556 229h1v1h-1zM102 241h1v1h-1zM65 262h1v1h-1zM86 262h1v1h-1zM89 263h1v1h-1zM102 267h1v1h-1zM67 269h1v1h-1zM83 269h1v1h-1zM572 289h1v1h-1zM558 290h1v1h-1zM590 290h1v1h-1zM599 290h1v1h-1zM568 293h1v1h-1zM592 293h1v1h-1zM514 294h1v1h-1zM558 295h1v1h-1zM564 295h1v1h-1zM572 295h1v1h-1zM538 296h1v1h-1zM592 296h1v1h-1zM530 297h1v1h-1zM545 297h1v1h-1zM572 297h1v1h-1zM574 297h1v1h-1zM104 350h1v1h-1zM22 368h1v1h-1zM15 375h1v1h-1zM102 377h1v1h-1zM973 380h1v1h-1zM21 393h1v1h-1zM65 398h1v1h-1zM67 398h1v1h-1zM86 398h2v1h-2zM89 399h1v1h-1zM68 400h1v1h-1zM79 402h1v1h-1zM17 403h1v1h-1zM71 403h1v1h-1zM83 403h1v1h-1zM102 403h1v1h-1zM83 404h1v1h-1zM71 405h1v1h-1zM66 409h1v1h-1zM19 412h1v1h-1zM15 430h1v1h-1zM16 444h1v1h-1zM21 453h1v1h-1zM20 454h1v1h-1zM18 462h1v1h-1zM523 463h1v1h-1zM557 463h1v1h-1zM581 464h1v1h-1zM509 465h1v1h-1zM558 465h1v1h-1zM582 466h1v1h-1zM588 466h1v1h-1zM503 467h1v1h-1zM523 467h1v1h-1zM588 467h1v1h-1zM15 468h1v1h-1zM19 468h1v1h-1zM487 468h1v1h-1zM558 468h1v1h-1zM565 468h1v1h-1zM582 468h1v1h-1zM490 469h1v1h-1zM534 469h1v1h-1zM538 469h1v1h-1zM580 470h1v1h-1zM16 475h2v1h-2zM9 481h1v1h-1zM104 486h1v1h-1zM494 487h1v1h-1zM514 487h2v1h-2zM549 487h1v1h-1zM6 489h1v1h-1zM546 489h1v1h-1zM550 489h1v1h-1zM558 490h1v1h-1zM490 491h1v1h-1zM495 491h1v1h-1zM515 491h1v1h-1zM543 491h1v1h-1zM557 491h1v1h-1zM21 492h1v1h-1zM479 492h1v1h-1zM482 493h1v1h-1zM546 493h1v1h-1zM509 494h1v1h-1zM526 494h1v1h-1zM102 513h1v1h-1zM86 534h1v1h-1zM89 535h1v1h-1zM79 538h1v1h-1zM102 539h1v1h-1zM83 541h1v1h-1zM75 546h1v1h-1zM576 594h1v1h-1zM524 595h1v1h-1zM560 596h1v1h-1zM534 597h1v1h-1zM537 599h1v1h-1zM505 600h1v1h-1zM526 600h1v1h-1zM104 622h1v1h-1zM104 649h1v1h-1zM86 670h2v1h-2zM89 671h1v1h-1zM83 675h1v1h-1zM102 675h1v1h-1zM83 676h1v1h-1zM125 690h1v1h-1zM812 690h2v1h-2zM353 697h1v1h-1zM593 697h1v1h-1zM595 697h1v1h-1zM341 698h1v1h-1zM592 699h1v1h-1zM580 700h1v1h-1zM803 700h1v1h-1zM587 701h1v1h-1zM591 701h1v1h-1zM121 702h1v1h-1zM579 702h1v1h-1zM801 702h1v1h-1zM122 703h1v1h-1zM362 703h1v1h-1zM369 703h1v1h-1zM580 703h1v1h-1zM591 704h1v1h-1zM370 705h1v1h-1zM592 707h1v1h-1zM568 708h1v1h-1zM510 728h1v1h-1zM502 729h1v1h-1zM503 730h1v1h-1zM559 730h1v1h-1zM501 732h1v1h-1zM532 732h1v1h-1zM525 733h1v1h-1zM573 733h1v1h-1zM573 735h1v1h-1zM496 737h1v1h-1zM527 737h1v1h-1zM565 737h1v1h-1zM476 738h1v1h-1zM511 738h1v1h-1zM594 738h1v1h-1zM601 738h1v1h-1z"/>
<path fill="#0e1371" d="M656 21h1v1h-1zM715 21h1v1h-1zM718 21h1v1h-1zM730 21h1v1h-1zM633 22h1v1h-1zM377 24h1v1h-1zM746 25h1v1h-1zM290 26h1v1h-1zM532 27h1v1h-1zM720 27h1v1h-1zM452 29h1v1h-1zM400 30h1v1h-1zM481 30h1v1h-1zM621 30h1v1h-1zM682 30h1v1h-1zM684 30h1v1h-1zM475 32h1v1h-1zM475 34h1v1h-1zM526 35h1v1h-1zM621 36h1v1h-1zM122 160h1v1h-1zM490 160h1v1h-1zM585 160h1v1h-1zM677 160h1v1h-1zM815 160h1v1h-1zM971 160h1v1h-1zM973 162h1v1h-1zM102 170h1v1h-1zM102 171h1v1h-1zM102 172h1v1h-1zM102 173h1v1h-1zM102 176h1v1h-1zM973 177h1v1h-1zM102 182h1v1h-1zM973 182h1v1h-1zM102 183h1v1h-1zM973 185h1v1h-1zM102 189h1v1h-1zM973 189h1v1h-1zM973 190h1v1h-1zM102 193h1v1h-1zM102 194h1v1h-1zM102 195h1v1h-1zM102 196h1v1h-1zM102 197h1v1h-1zM102 198h1v1h-1zM102 199h1v1h-1zM102 200h1v1h-1zM102 201h1v1h-1zM102 202h1v1h-1zM102 203h1v1h-1zM102 204h1v1h-1zM102 205h1v1h-1zM102 206h1v1h-1zM102 217h1v1h-1zM102 218h1v1h-1zM973 221h1v1h-1zM554 223h1v1h-1zM102 225h1v1h-1zM557 225h1v1h-1zM102 226h1v1h-1zM102 227h1v1h-1zM102 228h1v1h-1zM102 229h1v1h-1zM102 230h1v1h-1zM102 231h1v1h-1zM102 232h1v1h-1zM102 233h1v1h-1zM102 234h1v1h-1zM102 235h1v1h-1zM102 236h1v1h-1zM102 237h1v1h-1zM102 238h1v1h-1zM102 239h1v1h-1zM973 246h1v1h-1zM973 247h1v1h-1zM973 250h1v1h-1zM102 254h1v1h-1zM102 256h1v1h-1zM973 256h1v1h-1zM102 257h1v1h-1zM973 257h1v1h-1zM102 261h1v1h-1zM64 262h1v1h-1zM973 262h1v1h-1zM973 263h1v1h-1zM973 264h1v1h-1zM84 265h1v1h-1zM102 272h1v1h-1zM102 273h1v1h-1zM102 274h1v1h-1zM102 275h1v1h-1zM102 276h1v1h-1zM102 277h1v1h-1zM102 278h1v1h-1zM102 279h1v1h-1zM102 280h1v1h-1zM102 281h1v1h-1zM102 282h1v1h-1zM102 283h1v1h-1zM102 284h1v1h-1zM102 285h1v1h-1zM102 286h1v1h-1zM588 289h1v1h-1zM973 290h1v1h-1zM534 291h1v1h-1zM539 292h1v1h-1zM102 293h1v1h-1zM102 294h1v1h-1zM589 297h1v1h-1zM102 305h1v1h-1zM102 306h1v1h-1zM102 307h1v1h-1zM102 308h1v1h-1zM102 309h1v1h-1zM102 310h1v1h-1zM102 311h1v1h-1zM102 312h1v1h-1zM102 313h1v1h-1zM102 314h1v1h-1zM102 315h1v1h-1zM102 316h1v1h-1zM102 317h1v1h-1zM102 318h1v1h-1zM102 319h1v1h-1zM102 320h1v1h-1zM973 321h1v1h-1zM973 330h1v1h-1zM102 334h1v1h-1zM102 336h1v1h-1zM102 337h1v1h-1zM102 338h1v1h-1zM973 338h1v1h-1zM102 339h1v1h-1zM973 339h1v1h-1zM102 340h1v1h-1zM102 341h1v1h-1zM973 344h1v1h-1zM973 346h1v1h-1zM102 347h1v1h-1zM973 349h1v1h-1zM102 353h1v1h-1zM102 354h1v1h-1zM102 355h1v1h-1zM102 356h1v1h-1zM102 357h1v1h-1zM102 358h1v1h-1zM102 359h1v1h-1zM102 360h1v1h-1zM102 361h1v1h-1zM102 362h1v1h-1zM102 363h1v1h-1zM102 364h1v1h-1zM102 365h1v1h-1zM102 366h1v1h-1zM102 367h1v1h-1zM102 368h1v1h-1zM973 369h1v1h-1zM21 371h1v1h-1zM21 373h1v1h-1zM102 374h1v1h-1zM973 374h1v1h-1zM102 375h1v1h-1zM21 376h1v1h-1zM102 376h1v1h-1zM973 377h1v1h-1zM973 382h1v1h-1zM102 383h1v1h-1zM102 385h1v1h-1zM102 386h1v1h-1zM102 387h1v1h-1zM102 388h1v1h-1zM102 389h1v1h-1zM102 390h1v1h-1zM102 391h1v1h-1zM102 392h1v1h-1zM102 393h1v1h-1zM102 394h1v1h-1zM102 395h1v1h-1zM102 396h1v1h-1zM102 397h1v1h-1zM102 398h1v1h-1zM102 399h1v1h-1zM973 400h1v1h-1zM79 405h1v1h-1zM963 405h1v1h-1zM973 407h1v1h-1zM102 408h1v1h-1zM102 409h1v1h-1zM102 410h1v1h-1zM102 411h1v1h-1zM102 412h1v1h-1zM973 414h1v1h-1zM973 415h1v1h-1zM102 417h1v1h-1zM102 418h1v1h-1zM102 419h1v1h-1zM102 420h1v1h-1zM102 421h1v1h-1zM102 422h1v1h-1zM102 423h1v1h-1zM102 424h1v1h-1zM102 425h1v1h-1zM102 426h1v1h-1zM102 427h1v1h-1zM102 428h1v1h-1zM102 429h1v1h-1zM102 430h1v1h-1zM15 432h1v1h-1zM973 434h1v1h-1zM973 438h1v1h-1zM973 439h1v1h-1zM102 442h1v1h-1zM102 443h1v1h-1zM102 444h1v1h-1zM973 444h1v1h-1zM102 445h1v1h-1zM973 445h1v1h-1zM102 446h1v1h-1zM102 447h1v1h-1zM102 448h1v1h-1zM973 449h1v1h-1zM102 454h1v1h-1zM973 454h1v1h-1zM102 455h1v1h-1zM973 457h1v1h-1zM102 461h1v1h-1zM973 461h1v1h-1zM973 462h1v1h-1zM558 464h1v1h-1zM561 464h1v1h-1zM584 464h1v1h-1zM102 465h1v1h-1zM102 466h1v1h-1zM102 467h1v1h-1zM551 467h1v1h-1zM102 468h1v1h-1zM553 468h1v1h-1zM102 469h1v1h-1zM102 470h1v1h-1zM506 470h1v1h-1zM102 471h1v1h-1zM102 472h1v1h-1zM102 473h1v1h-1zM102 474h1v1h-1zM102 475h1v1h-1zM102 476h1v1h-1zM102 477h1v1h-1zM102 478h1v1h-1zM102 484h1v1h-1zM14 487h1v1h-1zM553 488h1v1h-1zM102 489h1v1h-1zM515 489h1v1h-1zM102 490h1v1h-1zM553 490h1v1h-1zM577 491h1v1h-1zM526 492h1v1h-1zM553 493h1v1h-1zM973 493h1v1h-1zM503 494h1v1h-1zM102 497h1v1h-1zM102 498h1v1h-1zM102 499h1v1h-1zM102 500h1v1h-1zM102 501h1v1h-1zM102 502h1v1h-1zM102 503h1v1h-1zM102 504h1v1h-1zM102 505h1v1h-1zM102 506h1v1h-1zM102 507h1v1h-1zM102 508h1v1h-1zM102 509h1v1h-1zM102 510h1v1h-1zM102 511h1v1h-1zM973 518h1v1h-1zM973 519h1v1h-1zM973 522h1v1h-1zM102 526h1v1h-1zM102 528h1v1h-1zM973 528h1v1h-1zM102 529h1v1h-1zM973 529h1v1h-1zM102 533h1v1h-1zM973 534h1v1h-1zM973 535h1v1h-1zM973 536h1v1h-1zM84 537h1v1h-1zM102 544h1v1h-1zM102 545h1v1h-1zM102 546h1v1h-1zM102 547h1v1h-1zM102 548h1v1h-1zM102 549h1v1h-1zM102 550h1v1h-1zM102 551h1v1h-1zM102 552h1v1h-1zM102 553h1v1h-1zM102 554h1v1h-1zM102 555h1v1h-1zM102 556h1v1h-1zM102 557h1v1h-1zM102 558h1v1h-1zM973 562h1v1h-1zM102 565h1v1h-1zM102 566h1v1h-1zM102 577h1v1h-1zM102 578h1v1h-1zM102 579h1v1h-1zM102 580h1v1h-1zM102 581h1v1h-1zM102 582h1v1h-1zM102 583h1v1h-1zM102 584h1v1h-1zM102 585h1v1h-1zM102 586h1v1h-1zM102 587h1v1h-1zM102 588h1v1h-1zM102 589h1v1h-1zM102 590h1v1h-1zM102 591h1v1h-1zM102 592h1v1h-1zM973 593h1v1h-1zM512 598h1v1h-1zM973 602h1v1h-1zM102 606h1v1h-1zM102 608h1v1h-1zM102 609h1v1h-1zM102 610h1v1h-1zM973 610h1v1h-1zM102 611h1v1h-1zM973 611h1v1h-1zM102 612h1v1h-1zM102 613h1v1h-1zM973 616h1v1h-1zM973 618h1v1h-1zM102 619h1v1h-1zM973 621h1v1h-1zM102 625h1v1h-1zM102 626h1v1h-1zM102 627h1v1h-1zM102 628h1v1h-1zM102 629h1v1h-1zM102 630h1v1h-1zM102 631h1v1h-1zM102 632h1v1h-1zM102 633h1v1h-1zM102 634h1v1h-1zM102 635h1v1h-1zM102 636h1v1h-1zM102 637h1v1h-1zM102 638h1v1h-1zM973 642h1v1h-1zM102 645h1v1h-1zM102 646h1v1h-1zM102 651h1v1h-1zM102 657h1v1h-1zM102 658h1v1h-1zM102 659h1v1h-1zM102 660h1v1h-1zM102 661h1v1h-1zM102 662h1v1h-1zM102 663h1v1h-1zM102 664h1v1h-1zM102 665h1v1h-1zM102 666h1v1h-1zM102 667h1v1h-1zM102 668h1v1h-1zM102 669h1v1h-1zM102 670h1v1h-1zM102 671h1v1h-1zM973 672h1v1h-1zM963 677h1v1h-1zM973 679h1v1h-1zM102 680h1v1h-1zM102 681h1v1h-1zM102 682h1v1h-1zM102 683h1v1h-1zM102 684h1v1h-1zM973 686h1v1h-1zM118 690h1v1h-1zM127 690h1v1h-1zM134 690h1v1h-1zM136 690h1v1h-1zM138 690h2v1h-2zM164 690h3v1h-3zM261 690h1v1h-1zM271 690h1v1h-1zM313 690h3v1h-3zM339 690h3v1h-3zM346 690h4v1h-4zM360 690h2v1h-2zM364 690h2v1h-2zM370 690h1v1h-1zM375 690h1v1h-1zM380 690h2v1h-2zM482 690h2v1h-2zM486 690h2v1h-2zM532 690h3v1h-3zM584 690h1v1h-1zM587 690h1v1h-1zM595 690h1v1h-1zM606 690h1v1h-1zM633 690h3v1h-3zM680 690h2v1h-2zM723 690h1v1h-1zM817 690h1v1h-1zM822 690h3v1h-3zM852 690h3v1h-3zM906 690h1v1h-1zM959 690h1v1h-1zM971 690h1v1h-1zM125 697h1v1h-1zM821 697h1v1h-1zM357 700h1v1h-1zM816 701h1v1h-1zM573 702h2v1h-2zM503 729h1v1h-1zM587 729h1v1h-1zM581 730h1v1h-1zM511 732h1v1h-1zM549 734h1v1h-1z"/>
<path fill="#121370" d="M383 21h1v1h-1zM385 21h1v1h-1zM402 21h1v1h-1zM426 21h1v1h-1zM572 21h1v1h-1zM584 21h2v1h-2zM620 21h1v1h-1zM638 21h1v1h-1zM649 21h3v1h-3zM654 21h1v1h-1zM671 21h1v1h-1zM714 21h1v1h-1zM728 21h1v1h-1zM734 21h1v1h-1zM728 22h1v1h-1zM433 23h1v1h-1zM304 26h1v1h-1zM318 26h1v1h-1zM477 26h1v1h-1zM531 26h1v1h-1zM733 26h1v1h-1zM575 28h1v1h-1zM655 28h1v1h-1zM621 29h1v1h-1zM666 29h1v1h-1zM332 30h1v1h-1zM340 30h2v1h-2zM492 30h1v1h-1zM690 30h1v1h-1zM568 31h1v1h-1zM722 32h1v1h-1zM377 33h1v1h-1zM434 34h1v1h-1zM548 34h1v1h-1zM569 34h1v1h-1zM592 34h1v1h-1zM620 35h1v1h-1zM672 35h1v1h-1zM727 35h1v1h-1zM433 36h1v1h-1zM482 36h1v1h-1zM526 36h1v1h-1zM582 36h1v1h-1zM634 36h1v1h-1zM662 36h1v1h-1zM714 36h1v1h-1zM468 37h1v1h-1zM477 37h1v1h-1zM455 39h1v1h-1zM104 160h1v1h-1zM107 160h1v1h-1zM111 160h1v1h-1zM114 160h2v1h-2zM117 160h1v1h-1zM120 160h1v1h-1zM130 160h1v1h-1zM132 160h1v1h-1zM134 160h1v1h-1zM136 160h1v1h-1zM138 160h1v1h-1zM140 160h1v1h-1zM142 160h1v1h-1zM144 160h1v1h-1zM146 160h1v1h-1zM148 160h1v1h-1zM150 160h1v1h-1zM152 160h1v1h-1zM154 160h1v1h-1zM156 160h1v1h-1zM158 160h2v1h-2zM162 160h1v1h-1zM164 160h1v1h-1zM168 160h1v1h-1zM176 160h1v1h-1zM178 160h1v1h-1zM180 160h1v1h-1zM182 160h1v1h-1zM184 160h1v1h-1zM186 160h1v1h-1zM188 160h1v1h-1zM190 160h1v1h-1zM192 160h1v1h-1zM194 160h1v1h-1zM196 160h1v1h-1zM198 160h1v1h-1zM200 160h1v1h-1zM202 160h1v1h-1zM204 160h1v1h-1zM206 160h8v1h-8zM220 160h1v1h-1zM224 160h1v1h-1zM226 160h1v1h-1zM228 160h1v1h-1zM230 160h1v1h-1zM232 160h1v1h-1zM234 160h1v1h-1zM236 160h1v1h-1zM238 160h1v1h-1zM240 160h1v1h-1zM242 160h1v1h-1zM244 160h1v1h-1zM246 160h1v1h-1zM248 160h1v1h-1zM250 160h1v1h-1zM252 160h1v1h-1zM254 160h2v1h-2zM265 160h1v1h-1zM268 160h3v1h-3zM272 160h1v1h-1zM274 160h1v1h-1zM276 160h1v1h-1zM278 160h1v1h-1zM280 160h1v1h-1zM282 160h1v1h-1zM284 160h1v1h-1zM286 160h1v1h-1zM288 160h1v1h-1zM290 160h1v1h-1zM292 160h1v1h-1zM294 160h1v1h-1zM296 160h1v1h-1zM298 160h1v1h-1zM300 160h1v1h-1zM302 160h1v1h-1zM313 160h2v1h-2zM316 160h5v1h-5zM322 160h1v1h-1zM324 160h1v1h-1zM326 160h1v1h-1zM328 160h1v1h-1zM330 160h1v1h-1zM332 160h1v1h-1zM334 160h1v1h-1zM336 160h1v1h-1zM338 160h1v1h-1zM340 160h1v1h-1zM342 160h1v1h-1zM344 160h1v1h-1zM346 160h1v1h-1zM348 160h1v1h-1zM350 160h1v1h-1zM362 160h3v1h-3zM370 160h1v1h-1zM372 160h1v1h-1zM374 160h1v1h-1zM376 160h1v1h-1zM378 160h1v1h-1zM380 160h1v1h-1zM382 160h1v1h-1zM384 160h1v1h-1zM386 160h1v1h-1zM388 160h1v1h-1zM390 160h1v1h-1zM392 160h1v1h-1zM394 160h1v1h-1zM396 160h1v1h-1zM398 160h1v1h-1zM405 160h1v1h-1zM409 160h3v1h-3zM414 160h2v1h-2zM418 160h1v1h-1zM420 160h1v1h-1zM422 160h1v1h-1zM424 160h1v1h-1zM426 160h1v1h-1zM428 160h1v1h-1zM430 160h1v1h-1zM432 160h2v1h-2zM436 160h3v1h-3zM443 160h2v1h-2zM450 160h1v1h-1zM452 160h1v1h-1zM454 160h1v1h-1zM456 160h1v1h-1zM458 160h1v1h-1zM460 160h1v1h-1zM462 160h1v1h-1zM464 160h1v1h-1zM466 160h1v1h-1zM468 160h1v1h-1zM470 160h1v1h-1zM472 160h1v1h-1zM474 160h1v1h-1zM476 160h1v1h-1zM478 160h2v1h-2zM482 160h2v1h-2zM496 160h1v1h-1zM498 160h1v1h-1zM500 160h1v1h-1zM502 160h1v1h-1zM504 160h1v1h-1zM506 160h1v1h-1zM508 160h1v1h-1zM510 160h1v1h-1zM512 160h1v1h-1zM514 160h1v1h-1zM516 160h1v1h-1zM518 160h1v1h-1zM520 160h1v1h-1zM522 160h1v1h-1zM524 160h1v1h-1zM526 160h2v1h-2zM530 160h1v1h-1zM532 160h1v1h-1zM542 160h3v1h-3zM546 160h1v1h-1zM548 160h1v1h-1zM550 160h1v1h-1zM552 160h1v1h-1zM554 160h1v1h-1zM556 160h1v1h-1zM558 160h1v1h-1zM560 160h1v1h-1zM562 160h1v1h-1zM564 160h1v1h-1zM566 160h1v1h-1zM568 160h1v1h-1zM570 160h1v1h-1zM572 160h1v1h-1zM574 160h1v1h-1zM581 160h1v1h-1zM589 160h4v1h-4zM594 160h1v1h-1zM596 160h1v1h-1zM598 160h1v1h-1zM600 160h1v1h-1zM602 160h1v1h-1zM604 160h1v1h-1zM606 160h1v1h-1zM608 160h1v1h-1zM610 160h1v1h-1zM612 160h1v1h-1zM614 160h1v1h-1zM616 160h1v1h-1zM618 160h1v1h-1zM620 160h1v1h-1zM622 160h1v1h-1zM633 160h2v1h-2zM636 160h5v1h-5zM642 160h1v1h-1zM644 160h1v1h-1zM646 160h1v1h-1zM648 160h1v1h-1zM650 160h1v1h-1zM652 160h1v1h-1zM654 160h1v1h-1zM656 160h1v1h-1zM658 160h1v1h-1zM660 160h1v1h-1zM662 160h1v1h-1zM664 160h1v1h-1zM666 160h1v1h-1zM668 160h1v1h-1zM670 160h2v1h-2zM681 160h1v1h-1zM686 160h3v1h-3zM690 160h1v1h-1zM692 160h1v1h-1zM694 160h1v1h-1zM696 160h1v1h-1zM698 160h1v1h-1zM700 160h1v1h-1zM702 160h1v1h-1zM704 160h1v1h-1zM706 160h1v1h-1zM708 160h1v1h-1zM710 160h1v1h-1zM712 160h1v1h-1zM714 160h1v1h-1zM716 160h1v1h-1zM718 160h1v1h-1zM723 160h2v1h-2zM729 160h3v1h-3zM734 160h2v1h-2zM738 160h1v1h-1zM740 160h1v1h-1zM742 160h1v1h-1zM744 160h1v1h-1zM746 160h1v1h-1zM748 160h1v1h-1zM750 160h1v1h-1zM752 160h2v1h-2zM756 160h3v1h-3zM762 160h1v1h-1zM770 160h1v1h-1zM772 160h1v1h-1zM774 160h1v1h-1zM776 160h1v1h-1zM778 160h1v1h-1zM780 160h1v1h-1zM782 160h1v1h-1zM784 160h1v1h-1zM786 160h1v1h-1zM788 160h1v1h-1zM790 160h1v1h-1zM792 160h1v1h-1zM794 160h1v1h-1zM796 160h1v1h-1zM798 160h1v1h-1zM802 160h2v1h-2zM805 160h1v1h-1zM809 160h1v1h-1zM818 160h1v1h-1zM820 160h1v1h-1zM822 160h1v1h-1zM824 160h1v1h-1zM826 160h1v1h-1zM828 160h1v1h-1zM830 160h1v1h-1zM832 160h1v1h-1zM834 160h1v1h-1zM836 160h1v1h-1zM838 160h1v1h-1zM840 160h1v1h-1zM842 160h1v1h-1zM844 160h1v1h-1zM846 160h2v1h-2zM850 160h1v1h-1zM852 160h1v1h-1zM862 160h3v1h-3zM866 160h1v1h-1zM868 160h1v1h-1zM870 160h1v1h-1zM872 160h1v1h-1zM874 160h1v1h-1zM876 160h1v1h-1zM878 160h1v1h-1zM880 160h1v1h-1zM882 160h1v1h-1zM884 160h1v1h-1zM886 160h1v1h-1zM888 160h1v1h-1zM890 160h1v1h-1zM892 160h1v1h-1zM894 160h8v1h-8zM907 160h1v1h-1zM909 160h1v1h-1zM912 160h1v1h-1zM914 160h1v1h-1zM916 160h1v1h-1zM918 160h1v1h-1zM920 160h1v1h-1zM922 160h1v1h-1zM924 160h1v1h-1zM926 160h1v1h-1zM928 160h1v1h-1zM930 160h1v1h-1zM932 160h1v1h-1zM934 160h1v1h-1zM936 160h1v1h-1zM938 160h1v1h-1zM940 160h1v1h-1zM942 160h2v1h-2zM947 160h2v1h-2zM953 160h1v1h-1zM956 160h3v1h-3zM962 160h4v1h-4zM970 160h1v1h-1zM217 162h1v1h-1zM263 162h1v1h-1zM583 163h1v1h-1zM102 165h1v1h-1zM973 165h1v1h-1zM125 167h1v1h-1zM812 167h1v1h-1zM102 180h1v1h-1zM973 180h1v1h-1zM973 181h1v1h-1zM102 191h1v1h-1zM973 191h1v1h-1zM973 210h1v1h-1zM495 222h1v1h-1zM543 222h1v1h-1zM560 222h1v1h-1zM576 222h1v1h-1zM973 223h1v1h-1zM523 225h1v1h-1zM566 226h1v1h-1zM496 229h1v1h-1zM543 229h1v1h-1zM559 229h1v1h-1zM573 229h1v1h-1zM576 229h1v1h-1zM102 245h1v1h-1zM973 245h1v1h-1zM102 247h1v1h-1zM63 262h1v1h-1zM102 264h1v1h-1zM83 266h1v1h-1zM973 266h1v1h-1zM104 269h1v1h-1zM110 269h2v1h-2zM68 270h1v1h-1zM75 274h1v1h-1zM973 288h1v1h-1zM559 289h1v1h-1zM514 290h1v1h-1zM536 290h1v1h-1zM561 290h1v1h-1zM561 291h1v1h-1zM540 292h1v1h-1zM572 292h1v1h-1zM498 295h1v1h-1zM565 295h1v1h-1zM588 296h1v1h-1zM540 297h1v1h-1zM566 297h1v1h-1zM973 301h1v1h-1zM102 327h1v1h-1zM20 360h1v1h-1zM21 372h1v1h-1zM102 372h1v1h-1zM973 372h1v1h-1zM973 373h1v1h-1zM25 375h1v1h-1zM19 388h1v1h-1zM102 400h1v1h-1zM20 401h1v1h-1zM83 402h1v1h-1zM973 402h1v1h-1zM16 403h1v1h-1zM65 403h1v1h-1zM104 405h1v1h-1zM85 408h1v1h-1zM65 410h1v1h-1zM75 410h1v1h-1zM973 413h1v1h-1zM11 430h1v1h-1zM105 432h2v1h-2zM970 432h1v1h-1zM11 433h1v1h-1zM21 443h1v1h-1zM21 444h1v1h-1zM11 445h1v1h-1zM21 445h1v1h-1zM15 446h1v1h-1zM21 452h1v1h-1zM102 452h1v1h-1zM973 452h1v1h-1zM973 453h1v1h-1zM11 458h1v1h-1zM20 461h1v1h-1zM102 463h1v1h-1zM503 463h1v1h-1zM547 463h1v1h-1zM562 463h1v1h-1zM578 463h1v1h-1zM973 463h1v1h-1zM578 464h1v1h-1zM516 465h1v1h-1zM587 466h1v1h-1zM571 467h1v1h-1zM573 467h1v1h-1zM18 468h1v1h-1zM547 469h1v1h-1zM557 469h1v1h-1zM522 470h1v1h-1zM539 470h1v1h-1zM550 470h1v1h-1zM563 470h1v1h-1zM588 470h1v1h-1zM973 481h1v1h-1zM483 487h1v1h-1zM491 487h1v1h-1zM493 487h1v1h-1zM517 487h1v1h-1zM579 487h1v1h-1zM14 488h1v1h-1zM576 488h1v1h-1zM580 489h1v1h-1zM561 491h1v1h-1zM510 492h1v1h-1zM526 493h1v1h-1zM530 493h1v1h-1zM539 493h1v1h-1zM569 493h1v1h-1zM573 493h1v1h-1zM493 494h1v1h-1zM531 494h1v1h-1zM540 494h1v1h-1zM569 494h1v1h-1zM579 494h1v1h-1zM973 495h1v1h-1zM102 517h1v1h-1zM973 517h1v1h-1zM102 519h1v1h-1zM76 534h1v1h-1zM102 536h1v1h-1zM83 538h1v1h-1zM973 538h1v1h-1zM79 539h1v1h-1zM79 540h1v1h-1zM104 541h1v1h-1zM110 541h2v1h-2zM74 545h1v1h-1zM973 560h1v1h-1zM973 573h1v1h-1zM562 594h1v1h-1zM497 596h1v1h-1zM545 598h1v1h-1zM585 598h1v1h-1zM102 599h1v1h-1zM515 601h1v1h-1zM528 601h1v1h-1zM973 640h1v1h-1zM973 654h1v1h-1zM102 672h1v1h-1zM83 674h1v1h-1zM973 674h1v1h-1zM104 677h1v1h-1zM85 680h1v1h-1zM973 685h1v1h-1zM125 688h1v1h-1zM102 689h1v1h-1zM125 689h1v1h-1zM102 690h1v1h-1zM106 690h1v1h-1zM114 690h1v1h-1zM116 690h1v1h-1zM120 690h1v1h-1zM173 690h1v1h-1zM208 690h1v1h-1zM260 690h1v1h-1zM304 690h1v1h-1zM306 690h1v1h-1zM350 690h2v1h-2zM357 690h1v1h-1zM373 690h1v1h-1zM382 690h1v1h-1zM406 690h1v1h-1zM410 690h1v1h-1zM437 690h1v1h-1zM444 690h1v1h-1zM488 690h1v1h-1zM541 690h1v1h-1zM543 690h1v1h-1zM574 690h1v1h-1zM577 690h1v1h-1zM592 690h1v1h-1zM594 690h1v1h-1zM624 690h1v1h-1zM626 690h1v1h-1zM679 690h1v1h-1zM730 690h1v1h-1zM757 690h1v1h-1zM761 690h1v1h-1zM801 690h3v1h-3zM806 690h1v1h-1zM809 690h1v1h-1zM819 690h1v1h-1zM827 690h2v1h-2zM861 690h1v1h-1zM863 690h1v1h-1zM896 690h1v1h-1zM907 690h1v1h-1zM961 690h1v1h-1zM963 690h1v1h-1zM970 690h1v1h-1zM127 697h1v1h-1zM574 697h1v1h-1zM592 697h1v1h-1zM813 697h1v1h-1zM822 697h1v1h-1zM598 699h1v1h-1zM816 699h1v1h-1zM568 700h1v1h-1zM343 702h1v1h-1zM358 702h1v1h-1zM343 703h1v1h-1zM129 704h1v1h-1zM357 706h1v1h-1zM591 706h1v1h-1zM797 706h1v1h-1zM815 707h1v1h-1zM798 708h1v1h-1zM825 708h1v1h-1zM354 709h1v1h-1zM595 709h1v1h-1zM490 724h1v1h-1zM490 725h1v1h-1zM601 725h1v1h-1zM490 726h1v1h-1zM500 728h2v1h-2zM578 728h1v1h-1zM591 728h1v1h-1zM490 732h1v1h-1zM577 732h1v1h-1zM490 733h1v1h-1zM490 734h1v1h-1zM490 735h1v1h-1zM490 736h1v1h-1zM573 736h1v1h-1zM502 737h1v1h-1zM563 738h1v1h-1zM589 738h2v1h-2zM594 741h1v1h-1zM588 742h2v1h-2zM591 742h1v1h-1z"/>
<path fill="#11136f" d="M634 22h1v1h-1zM337 30h1v1h-1zM685 30h3v1h-3zM492 31h1v1h-1zM281 32h1v1h-1zM471 35h1v1h-1zM112 160h2v1h-2zM128 160h2v1h-2zM131 160h1v1h-1zM133 160h1v1h-1zM135 160h1v1h-1zM137 160h1v1h-1zM139 160h1v1h-1zM141 160h1v1h-1zM143 160h1v1h-1zM145 160h1v1h-1zM147 160h1v1h-1zM149 160h1v1h-1zM151 160h1v1h-1zM153 160h1v1h-1zM155 160h1v1h-1zM157 160h1v1h-1zM177 160h1v1h-1zM179 160h1v1h-1zM181 160h1v1h-1zM183 160h1v1h-1zM185 160h1v1h-1zM187 160h1v1h-1zM189 160h1v1h-1zM191 160h1v1h-1zM193 160h1v1h-1zM195 160h1v1h-1zM197 160h1v1h-1zM199 160h1v1h-1zM201 160h1v1h-1zM203 160h1v1h-1zM205 160h1v1h-1zM225 160h1v1h-1zM227 160h1v1h-1zM229 160h1v1h-1zM231 160h1v1h-1zM233 160h1v1h-1zM235 160h1v1h-1zM237 160h1v1h-1zM239 160h1v1h-1zM241 160h1v1h-1zM243 160h1v1h-1zM245 160h1v1h-1zM247 160h1v1h-1zM249 160h1v1h-1zM251 160h1v1h-1zM253 160h1v1h-1zM273 160h1v1h-1zM275 160h1v1h-1zM277 160h1v1h-1zM279 160h1v1h-1zM281 160h1v1h-1zM283 160h1v1h-1zM285 160h1v1h-1zM287 160h1v1h-1zM289 160h1v1h-1zM291 160h1v1h-1zM293 160h1v1h-1zM295 160h1v1h-1zM297 160h1v1h-1zM299 160h1v1h-1zM301 160h1v1h-1zM303 160h1v1h-1zM321 160h1v1h-1zM323 160h1v1h-1zM325 160h1v1h-1zM327 160h1v1h-1zM329 160h1v1h-1zM331 160h1v1h-1zM333 160h1v1h-1zM335 160h1v1h-1zM337 160h1v1h-1zM339 160h1v1h-1zM341 160h1v1h-1zM343 160h1v1h-1zM345 160h1v1h-1zM347 160h1v1h-1zM349 160h1v1h-1zM351 160h1v1h-1zM359 160h1v1h-1zM365 160h2v1h-2zM368 160h2v1h-2zM371 160h1v1h-1zM373 160h1v1h-1zM375 160h1v1h-1zM377 160h1v1h-1zM379 160h1v1h-1zM381 160h1v1h-1zM383 160h1v1h-1zM385 160h1v1h-1zM387 160h1v1h-1zM389 160h1v1h-1zM391 160h1v1h-1zM393 160h1v1h-1zM395 160h1v1h-1zM397 160h1v1h-1zM416 160h2v1h-2zM419 160h1v1h-1zM421 160h1v1h-1zM423 160h1v1h-1zM425 160h1v1h-1zM427 160h1v1h-1zM429 160h1v1h-1zM431 160h1v1h-1zM449 160h1v1h-1zM451 160h1v1h-1zM453 160h1v1h-1zM455 160h1v1h-1zM457 160h1v1h-1zM459 160h1v1h-1zM461 160h1v1h-1zM463 160h1v1h-1zM465 160h1v1h-1zM467 160h1v1h-1zM469 160h1v1h-1zM471 160h1v1h-1zM473 160h1v1h-1zM475 160h1v1h-1zM477 160h1v1h-1zM497 160h1v1h-1zM499 160h1v1h-1zM501 160h1v1h-1zM503 160h1v1h-1zM505 160h1v1h-1zM507 160h1v1h-1zM509 160h1v1h-1zM511 160h1v1h-1zM513 160h1v1h-1zM515 160h1v1h-1zM517 160h1v1h-1zM519 160h1v1h-1zM521 160h1v1h-1zM523 160h1v1h-1zM525 160h1v1h-1zM545 160h1v1h-1zM547 160h1v1h-1zM549 160h1v1h-1zM551 160h1v1h-1zM553 160h1v1h-1zM555 160h1v1h-1zM557 160h1v1h-1zM559 160h1v1h-1zM561 160h1v1h-1zM563 160h1v1h-1zM565 160h1v1h-1zM567 160h1v1h-1zM569 160h1v1h-1zM571 160h1v1h-1zM573 160h1v1h-1zM575 160h1v1h-1zM593 160h1v1h-1zM595 160h1v1h-1zM597 160h1v1h-1zM599 160h1v1h-1zM601 160h1v1h-1zM603 160h1v1h-1zM605 160h1v1h-1zM607 160h1v1h-1zM609 160h1v1h-1zM611 160h1v1h-1zM613 160h1v1h-1zM615 160h1v1h-1zM617 160h1v1h-1zM619 160h1v1h-1zM621 160h1v1h-1zM623 160h1v1h-1zM641 160h1v1h-1zM643 160h1v1h-1zM645 160h1v1h-1zM647 160h1v1h-1zM649 160h1v1h-1zM651 160h1v1h-1zM653 160h1v1h-1zM655 160h1v1h-1zM657 160h1v1h-1zM659 160h1v1h-1zM661 160h1v1h-1zM663 160h1v1h-1zM665 160h1v1h-1zM667 160h1v1h-1zM669 160h1v1h-1zM689 160h1v1h-1zM691 160h1v1h-1zM693 160h1v1h-1zM695 160h1v1h-1zM697 160h1v1h-1zM699 160h1v1h-1zM701 160h1v1h-1zM703 160h1v1h-1zM705 160h1v1h-1zM707 160h1v1h-1zM709 160h1v1h-1zM711 160h1v1h-1zM713 160h1v1h-1zM715 160h1v1h-1zM717 160h1v1h-1zM736 160h2v1h-2zM739 160h1v1h-1zM741 160h1v1h-1zM743 160h1v1h-1zM745 160h1v1h-1zM747 160h1v1h-1zM749 160h1v1h-1zM751 160h1v1h-1zM769 160h1v1h-1zM771 160h1v1h-1zM773 160h1v1h-1zM775 160h1v1h-1zM777 160h1v1h-1zM779 160h1v1h-1zM781 160h1v1h-1zM783 160h1v1h-1zM785 160h1v1h-1zM787 160h1v1h-1zM789 160h1v1h-1zM791 160h1v1h-1zM793 160h1v1h-1zM795 160h1v1h-1zM797 160h1v1h-1zM799 160h1v1h-1zM801 160h1v1h-1zM816 160h2v1h-2zM819 160h1v1h-1zM821 160h1v1h-1zM823 160h1v1h-1zM825 160h1v1h-1zM827 160h1v1h-1zM829 160h1v1h-1zM831 160h1v1h-1zM833 160h1v1h-1zM835 160h1v1h-1zM837 160h1v1h-1zM839 160h1v1h-1zM841 160h1v1h-1zM843 160h1v1h-1zM845 160h1v1h-1zM865 160h1v1h-1zM867 160h1v1h-1zM869 160h1v1h-1zM871 160h1v1h-1zM873 160h1v1h-1zM875 160h1v1h-1zM877 160h1v1h-1zM879 160h1v1h-1zM881 160h1v1h-1zM883 160h1v1h-1zM885 160h1v1h-1zM887 160h1v1h-1zM889 160h1v1h-1zM891 160h1v1h-1zM893 160h1v1h-1zM913 160h1v1h-1zM915 160h1v1h-1zM917 160h1v1h-1zM919 160h1v1h-1zM921 160h1v1h-1zM923 160h1v1h-1zM925 160h1v1h-1zM927 160h1v1h-1zM929 160h1v1h-1zM931 160h1v1h-1zM933 160h1v1h-1zM935 160h1v1h-1zM937 160h1v1h-1zM939 160h1v1h-1zM941 160h1v1h-1zM904 162h1v1h-1zM573 225h1v1h-1zM68 271h1v1h-1zM597 289h1v1h-1zM596 297h1v1h-1zM15 433h1v1h-1zM503 464h1v1h-1zM973 482h1v1h-1zM7 484h1v1h-1zM6 488h1v1h-1zM494 491h1v1h-1zM530 598h1v1h-1zM497 599h1v1h-1zM550 599h1v1h-1zM973 653h1v1h-1zM812 689h1v1h-1zM209 690h1v1h-1zM219 690h1v1h-1zM344 690h1v1h-1zM372 690h1v1h-1zM383 690h1v1h-1zM415 690h1v1h-1zM432 690h1v1h-1zM441 690h1v1h-1zM490 690h1v1h-1zM495 690h1v1h-1zM575 690h2v1h-2zM593 690h1v1h-1zM604 690h2v1h-2zM672 690h1v1h-1zM677 690h1v1h-1zM726 690h1v1h-1zM735 690h1v1h-1zM752 690h1v1h-1zM791 690h1v1h-1zM897 690h1v1h-1zM948 690h1v1h-1zM960 690h1v1h-1zM490 728h1v1h-1zM490 729h1v1h-1zM490 730h1v1h-1zM490 731h1v1h-1z"/>
<path fill="#0f136e" d="M576 21h1v1h-1zM716 26h1v1h-1zM731 26h1v1h-1zM683 30h1v1h-1zM476 36h1v1h-1zM127 160h1v1h-1zM352 160h1v1h-1zM102 167h1v1h-1zM102 168h1v1h-1zM102 169h1v1h-1zM973 169h1v1h-1zM973 176h1v1h-1zM102 177h1v1h-1zM973 178h1v1h-1zM973 179h1v1h-1zM973 183h1v1h-1zM102 192h1v1h-1zM973 192h1v1h-1zM102 207h1v1h-1zM102 208h1v1h-1zM102 219h1v1h-1zM102 220h1v1h-1zM973 220h1v1h-1zM102 221h1v1h-1zM102 222h1v1h-1zM102 223h1v1h-1zM102 224h1v1h-1zM973 224h1v1h-1zM509 226h1v1h-1zM102 248h1v1h-1zM102 249h1v1h-1zM102 252h1v1h-1zM973 252h1v1h-1zM102 253h1v1h-1zM973 254h1v1h-1zM973 255h1v1h-1zM102 262h1v1h-1zM102 263h1v1h-1zM967 269h1v1h-1zM973 272h1v1h-1zM102 287h1v1h-1zM973 287h1v1h-1zM102 288h1v1h-1zM102 289h1v1h-1zM102 290h1v1h-1zM102 291h1v1h-1zM973 291h1v1h-1zM102 292h1v1h-1zM591 292h1v1h-1zM597 292h1v1h-1zM102 303h1v1h-1zM102 304h1v1h-1zM102 328h1v1h-1zM102 329h1v1h-1zM102 332h1v1h-1zM973 332h1v1h-1zM102 333h1v1h-1zM973 334h1v1h-1zM973 335h1v1h-1zM973 336h1v1h-1zM973 337h1v1h-1zM973 340h1v1h-1zM102 342h1v1h-1zM102 348h1v1h-1zM973 367h1v1h-1zM973 368h1v1h-1zM102 369h1v1h-1zM973 370h1v1h-1zM973 371h1v1h-1zM973 375h1v1h-1zM973 383h1v1h-1zM15 384h1v1h-1zM102 384h1v1h-1zM973 384h1v1h-1zM973 399h1v1h-1zM973 408h1v1h-1zM102 413h1v1h-1zM102 414h1v1h-1zM102 415h1v1h-1zM102 416h1v1h-1zM973 416h1v1h-1zM15 434h1v1h-1zM102 439h1v1h-1zM102 441h1v1h-1zM973 443h1v1h-1zM973 446h1v1h-1zM973 447h1v1h-1zM973 448h1v1h-1zM102 449h1v1h-1zM973 450h1v1h-1zM973 451h1v1h-1zM973 455h1v1h-1zM102 464h1v1h-1zM973 464h1v1h-1zM102 479h1v1h-1zM102 491h1v1h-1zM102 492h1v1h-1zM973 492h1v1h-1zM102 493h1v1h-1zM102 494h1v1h-1zM102 495h1v1h-1zM102 496h1v1h-1zM973 496h1v1h-1zM102 520h1v1h-1zM102 521h1v1h-1zM102 524h1v1h-1zM973 524h1v1h-1zM102 525h1v1h-1zM973 526h1v1h-1zM973 527h1v1h-1zM102 534h1v1h-1zM102 535h1v1h-1zM967 541h1v1h-1zM973 544h1v1h-1zM102 559h1v1h-1zM973 559h1v1h-1zM102 560h1v1h-1zM102 561h1v1h-1zM102 562h1v1h-1zM102 563h1v1h-1zM973 563h1v1h-1zM102 564h1v1h-1zM102 575h1v1h-1zM102 576h1v1h-1zM550 598h1v1h-1zM102 600h1v1h-1zM102 601h1v1h-1zM102 604h1v1h-1zM973 604h1v1h-1zM102 605h1v1h-1zM973 606h1v1h-1zM973 607h1v1h-1zM973 608h1v1h-1zM973 609h1v1h-1zM973 612h1v1h-1zM102 614h1v1h-1zM102 620h1v1h-1zM102 639h1v1h-1zM973 639h1v1h-1zM102 640h1v1h-1zM102 641h1v1h-1zM102 642h1v1h-1zM102 643h1v1h-1zM973 643h1v1h-1zM102 644h1v1h-1zM102 656h1v1h-1zM973 671h1v1h-1zM973 680h1v1h-1zM102 685h1v1h-1zM102 686h1v1h-1zM102 687h1v1h-1zM117 690h1v1h-1zM119 690h1v1h-1zM131 690h1v1h-1zM137 690h1v1h-1zM142 690h3v1h-3zM146 690h1v1h-1zM148 690h1v1h-1zM150 690h1v1h-1zM152 690h1v1h-1zM154 690h1v1h-1zM156 690h1v1h-1zM158 690h1v1h-1zM176 690h1v1h-1zM178 690h1v1h-1zM180 690h1v1h-1zM182 690h1v1h-1zM184 690h1v1h-1zM186 690h1v1h-1zM188 690h1v1h-1zM190 690h1v1h-1zM192 690h1v1h-1zM194 690h1v1h-1zM196 690h1v1h-1zM198 690h1v1h-1zM200 690h1v1h-1zM202 690h1v1h-1zM204 690h1v1h-1zM206 690h2v1h-2zM224 690h1v1h-1zM226 690h1v1h-1zM228 690h1v1h-1zM230 690h1v1h-1zM232 690h1v1h-1zM234 690h1v1h-1zM236 690h1v1h-1zM238 690h1v1h-1zM240 690h1v1h-1zM242 690h1v1h-1zM244 690h1v1h-1zM246 690h1v1h-1zM248 690h1v1h-1zM250 690h1v1h-1zM252 690h1v1h-1zM254 690h2v1h-2zM270 690h1v1h-1zM272 690h1v1h-1zM274 690h1v1h-1zM276 690h1v1h-1zM278 690h1v1h-1zM280 690h1v1h-1zM282 690h1v1h-1zM284 690h1v1h-1zM286 690h1v1h-1zM288 690h1v1h-1zM290 690h1v1h-1zM292 690h1v1h-1zM294 690h1v1h-1zM296 690h1v1h-1zM298 690h1v1h-1zM300 690h1v1h-1zM302 690h2v1h-2zM322 690h1v1h-1zM324 690h1v1h-1zM326 690h1v1h-1zM328 690h1v1h-1zM330 690h1v1h-1zM332 690h1v1h-1zM334 690h1v1h-1zM338 690h1v1h-1zM345 690h1v1h-1zM376 690h1v1h-1zM379 690h1v1h-1zM384 690h1v1h-1zM386 690h1v1h-1zM388 690h1v1h-1zM390 690h1v1h-1zM392 690h1v1h-1zM394 690h1v1h-1zM396 690h1v1h-1zM398 690h1v1h-1zM416 690h1v1h-1zM418 690h1v1h-1zM420 690h1v1h-1zM422 690h1v1h-1zM424 690h1v1h-1zM426 690h1v1h-1zM428 690h1v1h-1zM430 690h2v1h-2zM450 690h1v1h-1zM452 690h1v1h-1zM454 690h1v1h-1zM456 690h1v1h-1zM458 690h1v1h-1zM460 690h1v1h-1zM462 690h1v1h-1zM464 690h1v1h-1zM466 690h1v1h-1zM468 690h1v1h-1zM470 690h1v1h-1zM472 690h1v1h-1zM474 690h1v1h-1zM476 690h1v1h-1zM478 690h1v1h-1zM498 690h1v1h-1zM500 690h1v1h-1zM502 690h1v1h-1zM504 690h1v1h-1zM506 690h1v1h-1zM508 690h1v1h-1zM510 690h1v1h-1zM512 690h1v1h-1zM514 690h1v1h-1zM516 690h1v1h-1zM518 690h1v1h-1zM520 690h1v1h-1zM522 690h1v1h-1zM524 690h1v1h-1zM526 690h1v1h-1zM544 690h1v1h-1zM546 690h1v1h-1zM548 690h1v1h-1zM550 690h1v1h-1zM552 690h1v1h-1zM554 690h1v1h-1zM556 690h1v1h-1zM558 690h11v1h-11zM586 690h1v1h-1zM596 690h1v1h-1zM601 690h1v1h-1zM607 690h2v1h-2zM610 690h1v1h-1zM612 690h1v1h-1zM614 690h1v1h-1zM616 690h1v1h-1zM618 690h1v1h-1zM620 690h1v1h-1zM622 690h2v1h-2zM642 690h1v1h-1zM644 690h1v1h-1zM646 690h1v1h-1zM648 690h1v1h-1zM650 690h1v1h-1zM652 690h1v1h-1zM654 690h1v1h-1zM656 690h1v1h-1zM658 690h1v1h-1zM660 690h1v1h-1zM662 690h1v1h-1zM664 690h1v1h-1zM666 690h1v1h-1zM668 690h1v1h-1zM670 690h1v1h-1zM690 690h1v1h-1zM692 690h1v1h-1zM694 690h1v1h-1zM696 690h1v1h-1zM698 690h1v1h-1zM700 690h1v1h-1zM702 690h1v1h-1zM704 690h1v1h-1zM706 690h1v1h-1zM708 690h1v1h-1zM710 690h1v1h-1zM712 690h1v1h-1zM714 690h1v1h-1zM716 690h1v1h-1zM718 690h1v1h-1zM736 690h1v1h-1zM738 690h1v1h-1zM740 690h1v1h-1zM742 690h1v1h-1zM744 690h1v1h-1zM746 690h1v1h-1zM748 690h1v1h-1zM750 690h2v1h-2zM770 690h1v1h-1zM772 690h1v1h-1zM774 690h1v1h-1zM776 690h1v1h-1zM778 690h1v1h-1zM780 690h1v1h-1zM782 690h4v1h-4zM787 690h1v1h-1zM825 690h1v1h-1zM830 690h3v1h-3zM834 690h1v1h-1zM836 690h1v1h-1zM838 690h1v1h-1zM840 690h1v1h-1zM842 690h1v1h-1zM844 690h1v1h-1zM846 690h1v1h-1zM864 690h1v1h-1zM866 690h1v1h-1zM868 690h1v1h-1zM870 690h1v1h-1zM872 690h1v1h-1zM874 690h1v1h-1zM876 690h1v1h-1zM878 690h1v1h-1zM880 690h1v1h-1zM882 690h1v1h-1zM884 690h1v1h-1zM886 690h1v1h-1zM888 690h1v1h-1zM890 690h1v1h-1zM892 690h1v1h-1zM894 690h2v1h-2zM912 690h1v1h-1zM914 690h1v1h-1zM916 690h1v1h-1zM918 690h1v1h-1zM920 690h1v1h-1zM922 690h1v1h-1zM924 690h1v1h-1zM926 690h1v1h-1zM928 690h1v1h-1zM930 690h1v1h-1zM932 690h1v1h-1zM934 690h1v1h-1zM936 690h1v1h-1zM938 690h1v1h-1zM940 690h1v1h-1zM942 690h2v1h-2zM958 690h1v1h-1z"/>
<path fill="#121364" d="M583 21h1v1h-1zM713 21h1v1h-1zM662 22h1v1h-1zM312 26h1v1h-1zM712 28h1v1h-1zM532 30h1v1h-1zM306 32h1v1h-1zM492 32h1v1h-1zM277 33h1v1h-1zM306 33h1v1h-1zM276 34h1v1h-1zM672 34h1v1h-1zM417 35h1v1h-1zM746 36h1v1h-1zM300 37h1v1h-1zM317 37h1v1h-1zM320 37h1v1h-1zM352 37h1v1h-1zM566 37h1v1h-1zM647 37h1v1h-1zM705 37h1v1h-1zM119 160h1v1h-1zM360 160h2v1h-2zM807 160h1v1h-1zM973 166h1v1h-1zM973 167h1v1h-1zM521 224h1v1h-1zM534 226h1v1h-1zM569 226h1v1h-1zM574 229h1v1h-1zM584 229h1v1h-1zM962 269h1v1h-1zM969 269h1v1h-1zM77 273h1v1h-1zM74 274h1v1h-1zM536 291h1v1h-1zM562 291h1v1h-1zM581 294h1v1h-1zM973 342h1v1h-1zM107 350h1v1h-1zM19 359h1v1h-1zM8 360h1v1h-1zM15 386h1v1h-1zM11 399h1v1h-1zM65 404h1v1h-1zM962 405h1v1h-1zM969 405h1v1h-1zM68 408h1v1h-1zM6 410h1v1h-1zM74 410h1v1h-1zM973 441h1v1h-1zM15 445h2v1h-2zM12 456h1v1h-1zM20 462h1v1h-1zM563 463h1v1h-1zM525 464h1v1h-1zM534 465h1v1h-1zM537 466h1v1h-1zM514 469h1v1h-1zM564 470h1v1h-1zM587 470h1v1h-1zM492 487h1v1h-1zM557 488h1v1h-1zM571 489h1v1h-1zM580 490h1v1h-1zM569 492h1v1h-1zM557 493h1v1h-1zM492 494h1v1h-1zM521 494h1v1h-1zM962 541h1v1h-1zM969 541h1v1h-1zM490 594h1v1h-1zM524 596h1v1h-1zM973 614h1v1h-1zM107 622h1v1h-1zM962 677h1v1h-1zM969 677h1v1h-1zM132 690h1v1h-1zM311 690h1v1h-1zM336 690h2v1h-2zM363 690h1v1h-1zM405 690h1v1h-1zM412 690h1v1h-1zM435 690h1v1h-1zM443 690h1v1h-1zM489 690h1v1h-1zM536 690h1v1h-1zM571 690h1v1h-1zM598 690h2v1h-2zM631 690h1v1h-1zM678 690h1v1h-1zM724 690h1v1h-1zM732 690h1v1h-1zM755 690h1v1h-1zM762 690h2v1h-2zM796 690h2v1h-2zM856 690h1v1h-1zM365 697h1v1h-1zM825 697h1v1h-1zM340 699h1v1h-1zM572 703h1v1h-1zM816 706h1v1h-1zM352 707h1v1h-1zM552 724h1v1h-1zM603 731h1v1h-1zM561 737h1v1h-1zM529 738h1v1h-1zM577 738h1v1h-1zM551 739h1v1h-1zM594 742h1v1h-1z"/>
<path fill="#13118f" d="M455 20h1v1h-1zM297 21h1v1h-1zM397 21h1v1h-1zM405 21h1v1h-1zM463 21h2v1h-2zM298 22h1v1h-1zM379 22h1v1h-1zM463 22h1v1h-1zM539 22h1v1h-1zM378 23h1v1h-1zM396 23h1v1h-1zM463 23h1v1h-1zM540 23h1v1h-1zM640 23h1v1h-1zM396 24h1v1h-1zM405 24h1v1h-1zM410 24h1v1h-1zM425 24h1v1h-1zM453 24h1v1h-1zM464 24h1v1h-1zM583 24h1v1h-1zM663 24h1v1h-1zM418 25h1v1h-1zM433 25h1v1h-1zM712 25h1v1h-1zM289 26h1v1h-1zM396 26h1v1h-1zM499 26h1v1h-1zM514 26h1v1h-1zM641 26h1v1h-1zM672 26h1v1h-1zM727 26h1v1h-1zM542 27h1v1h-1zM591 27h1v1h-1zM625 27h1v1h-1zM632 27h1v1h-1zM641 27h1v1h-1zM670 27h1v1h-1zM712 27h1v1h-1zM463 28h2v1h-2zM524 28h1v1h-1zM624 28h1v1h-1zM641 28h1v1h-1zM721 28h1v1h-1zM400 29h1v1h-1zM463 29h2v1h-2zM539 29h1v1h-1zM573 29h1v1h-1zM587 29h1v1h-1zM622 29h1v1h-1zM641 29h1v1h-1zM653 29h1v1h-1zM667 29h1v1h-1zM289 30h2v1h-2zM464 30h1v1h-1zM523 30h1v1h-1zM632 30h1v1h-1zM641 30h2v1h-2zM289 31h2v1h-2zM395 31h1v1h-1zM464 31h1v1h-1zM477 31h1v1h-1zM641 31h1v1h-1zM721 31h2v1h-2zM289 32h2v1h-2zM452 32h1v1h-1zM464 32h1v1h-1zM737 32h1v1h-1zM290 33h1v1h-1zM298 33h1v1h-1zM396 33h1v1h-1zM409 33h2v1h-2zM464 33h1v1h-1zM539 33h2v1h-2zM641 33h1v1h-1zM289 34h2v1h-2zM297 34h1v1h-1zM378 34h1v1h-1zM387 34h1v1h-1zM464 34h1v1h-1zM539 34h2v1h-2zM577 34h1v1h-1zM627 34h1v1h-1zM641 34h1v1h-1zM664 34h1v1h-1zM410 35h1v1h-1zM640 35h1v1h-1zM647 35h1v1h-1zM662 35h1v1h-1zM736 35h1v1h-1zM416 36h1v1h-1zM639 36h1v1h-1zM719 36h1v1h-1zM280 37h1v1h-1zM397 37h1v1h-1zM454 37h1v1h-1zM462 37h1v1h-1zM465 37h1v1h-1zM517 37h1v1h-1zM548 37h2v1h-2zM671 37h1v1h-1zM704 37h1v1h-1zM718 37h1v1h-1zM744 38h1v1h-1zM124 160h1v1h-1zM307 160h1v1h-1zM355 160h1v1h-1zM583 160h1v1h-1zM627 160h1v1h-1zM812 160h1v1h-1zM972 160h1v1h-1zM973 186h1v1h-1zM102 187h1v1h-1zM102 214h1v1h-1zM102 215h1v1h-1zM519 222h2v1h-2zM495 223h1v1h-1zM543 223h1v1h-1zM583 223h1v1h-1zM505 224h1v1h-1zM511 224h1v1h-1zM575 224h1v1h-1zM486 225h1v1h-1zM551 225h1v1h-1zM498 226h2v1h-2zM506 226h1v1h-1zM513 226h1v1h-1zM519 226h1v1h-1zM486 227h1v1h-1zM494 227h1v1h-1zM547 227h1v1h-1zM578 227h1v1h-1zM510 228h1v1h-1zM484 229h1v1h-1zM503 229h1v1h-1zM530 229h1v1h-1zM534 229h1v1h-1zM546 229h1v1h-1zM553 229h1v1h-1zM557 229h1v1h-1zM90 265h1v1h-1zM67 266h1v1h-1zM79 266h1v1h-1zM83 267h1v1h-1zM102 269h1v1h-1zM973 269h1v1h-1zM61 271h1v1h-1zM67 271h1v1h-1zM90 271h1v1h-1zM73 272h1v1h-1zM500 289h2v1h-2zM534 289h1v1h-1zM590 289h1v1h-1zM510 290h2v1h-2zM531 290h1v1h-1zM588 290h1v1h-1zM510 291h1v1h-1zM564 291h1v1h-1zM518 292h1v1h-1zM544 292h1v1h-1zM534 293h1v1h-1zM542 293h1v1h-1zM557 293h1v1h-1zM588 293h1v1h-1zM562 294h1v1h-1zM599 294h1v1h-1zM576 295h1v1h-1zM102 296h1v1h-1zM510 296h1v1h-1zM568 296h1v1h-1zM599 296h1v1h-1zM102 297h1v1h-1zM519 297h1v1h-1zM527 297h1v1h-1zM549 297h1v1h-1zM102 351h1v1h-1zM22 360h1v1h-1zM6 361h1v1h-1zM12 368h1v1h-1zM12 369h1v1h-1zM17 369h1v1h-1zM12 374h1v1h-1zM17 374h1v1h-1zM21 375h1v1h-1zM973 378h1v1h-1zM13 381h1v1h-1zM15 382h1v1h-1zM12 386h1v1h-1zM21 386h1v1h-1zM15 387h1v1h-1zM18 388h1v1h-1zM85 398h1v1h-1zM61 399h1v1h-1zM84 399h1v1h-1zM67 401h1v1h-1zM72 404h1v1h-1zM60 408h1v1h-1zM64 409h1v1h-1zM78 409h1v1h-1zM8 411h1v1h-1zM13 429h1v1h-1zM102 432h1v1h-1zM102 433h1v1h-1zM12 434h1v1h-1zM15 435h1v1h-1zM13 436h1v1h-1zM20 447h1v1h-1zM15 448h1v1h-1zM12 455h1v1h-1zM973 458h1v1h-1zM102 459h1v1h-1zM17 462h1v1h-1zM490 463h1v1h-1zM555 463h1v1h-1zM561 463h1v1h-1zM585 463h1v1h-1zM547 464h1v1h-1zM554 464h1v1h-1zM498 465h2v1h-2zM508 465h1v1h-1zM554 465h1v1h-1zM557 465h1v1h-1zM489 466h1v1h-1zM506 466h1v1h-1zM510 466h1v1h-1zM517 466h1v1h-1zM534 466h1v1h-1zM565 467h1v1h-1zM582 467h1v1h-1zM517 468h1v1h-1zM506 469h1v1h-1zM550 469h1v1h-1zM554 469h1v1h-1zM489 470h1v1h-1zM507 470h1v1h-1zM510 470h1v1h-1zM516 470h2v1h-2zM534 470h1v1h-1zM561 470h1v1h-1zM21 474h1v1h-1zM15 475h1v1h-1zM14 476h1v1h-1zM16 476h2v1h-2zM6 477h1v1h-1zM21 477h1v1h-1zM8 483h1v1h-1zM13 483h1v1h-1zM102 486h1v1h-1zM102 487h1v1h-1zM482 487h1v1h-1zM512 487h1v1h-1zM516 487h1v1h-1zM547 487h2v1h-2zM553 487h1v1h-1zM570 487h2v1h-2zM577 487h1v1h-1zM481 488h1v1h-1zM539 488h1v1h-1zM546 488h1v1h-1zM21 489h1v1h-1zM501 489h1v1h-1zM502 490h1v1h-1zM526 490h1v1h-1zM572 490h1v1h-1zM509 492h1v1h-1zM542 493h1v1h-1zM502 494h1v1h-1zM508 494h1v1h-1zM547 494h1v1h-1zM553 494h1v1h-1zM90 537h1v1h-1zM71 539h1v1h-1zM83 539h1v1h-1zM71 540h2v1h-2zM102 541h1v1h-1zM973 541h1v1h-1zM90 543h1v1h-1zM73 544h1v1h-1zM78 545h1v1h-1zM102 568h1v1h-1zM102 569h1v1h-1zM561 594h1v1h-1zM506 596h1v1h-1zM533 596h1v1h-1zM513 597h1v1h-1zM515 597h1v1h-1zM537 597h1v1h-1zM545 597h2v1h-2zM576 597h1v1h-1zM503 598h1v1h-1zM522 598h1v1h-1zM546 599h1v1h-1zM553 599h1v1h-1zM564 599h1v1h-1zM509 601h1v1h-1zM532 601h2v1h-2zM536 601h1v1h-1zM102 623h1v1h-1zM102 648h1v1h-1zM102 649h1v1h-1zM85 670h1v1h-1zM84 671h1v1h-1zM354 690h1v1h-1zM400 690h1v1h-1zM447 690h1v1h-1zM767 690h1v1h-1zM123 698h1v1h-1zM128 698h1v1h-1zM574 698h1v1h-1zM580 698h1v1h-1zM814 698h1v1h-1zM351 699h1v1h-1zM591 699h1v1h-1zM809 699h1v1h-1zM122 701h1v1h-1zM574 701h1v1h-1zM827 703h1v1h-1zM369 704h1v1h-1zM827 704h2v1h-2zM351 705h1v1h-1zM586 706h2v1h-2zM128 707h1v1h-1zM597 707h1v1h-1zM821 707h1v1h-1zM570 708h1v1h-1zM596 708h1v1h-1zM593 709h1v1h-1zM822 709h1v1h-1zM565 723h1v1h-1zM482 724h1v1h-1zM601 724h1v1h-1zM483 726h1v1h-1zM484 727h1v1h-1zM511 728h1v1h-1zM518 729h1v1h-1zM549 730h1v1h-1zM482 731h1v1h-1zM504 731h1v1h-1zM525 731h1v1h-1zM497 733h1v1h-1zM549 733h1v1h-1zM588 734h1v1h-1zM559 735h1v1h-1zM496 736h1v1h-1zM505 737h1v1h-1zM574 737h2v1h-2zM491 738h1v1h-1zM592 738h2v1h-2z"/>
<path fill="#121276" d="M282 21h1v1h-1zM289 21h1v1h-1zM296 21h1v1h-1zM379 21h1v1h-1zM381 21h1v1h-1zM384 21h1v1h-1zM399 21h1v1h-1zM412 21h2v1h-2zM462 21h1v1h-1zM573 21h1v1h-1zM575 21h1v1h-1zM621 21h1v1h-1zM640 21h1v1h-1zM652 21h2v1h-2zM664 21h2v1h-2zM670 21h1v1h-1zM720 21h1v1h-1zM732 21h1v1h-1zM672 22h1v1h-1zM454 23h1v1h-1zM567 23h1v1h-1zM592 23h1v1h-1zM281 24h1v1h-1zM387 24h1v1h-1zM409 24h1v1h-1zM433 24h1v1h-1zM592 24h1v1h-1zM582 25h1v1h-1zM672 25h1v1h-1zM319 26h1v1h-1zM513 26h1v1h-1zM529 26h2v1h-2zM544 26h1v1h-1zM642 26h1v1h-1zM400 27h1v1h-1zM626 27h1v1h-1zM719 27h1v1h-1zM735 27h1v1h-1zM517 28h1v1h-1zM625 28h1v1h-1zM333 30h1v1h-1zM335 30h2v1h-2zM388 30h1v1h-1zM517 30h1v1h-1zM585 30h1v1h-1zM619 30h1v1h-1zM651 30h1v1h-1zM665 30h1v1h-1zM680 30h2v1h-2zM689 30h1v1h-1zM452 31h1v1h-1zM476 31h1v1h-1zM517 31h1v1h-1zM737 31h1v1h-1zM410 32h1v1h-1zM517 32h1v1h-1zM523 32h1v1h-1zM642 32h1v1h-1zM472 33h1v1h-1zM492 33h1v1h-1zM517 33h1v1h-1zM582 33h1v1h-1zM472 34h1v1h-1zM517 34h1v1h-1zM746 34h1v1h-1zM585 35h1v1h-1zM591 35h1v1h-1zM720 35h1v1h-1zM672 36h1v1h-1zM729 36h1v1h-1zM467 37h1v1h-1zM547 37h1v1h-1zM715 37h2v1h-2zM730 37h1v1h-1zM109 160h2v1h-2zM116 160h1v1h-1zM163 160h1v1h-1zM165 160h3v1h-3zM173 160h1v1h-1zM214 160h1v1h-1zM219 160h1v1h-1zM222 160h1v1h-1zM258 160h1v1h-1zM266 160h2v1h-2zM271 160h1v1h-1zM311 160h2v1h-2zM357 160h1v1h-1zM406 160h1v1h-1zM408 160h1v1h-1zM412 160h2v1h-2zM434 160h2v1h-2zM439 160h1v1h-1zM485 160h1v1h-1zM495 160h1v1h-1zM531 160h1v1h-1zM533 160h5v1h-5zM577 160h2v1h-2zM631 160h2v1h-2zM672 160h1v1h-1zM682 160h2v1h-2zM728 160h1v1h-1zM732 160h2v1h-2zM754 160h2v1h-2zM759 160h1v1h-1zM761 160h1v1h-1zM804 160h1v1h-1zM810 160h1v1h-1zM814 160h1v1h-1zM851 160h1v1h-1zM853 160h5v1h-5zM902 160h1v1h-1zM944 160h2v1h-2zM954 160h2v1h-2zM959 160h3v1h-3zM966 160h2v1h-2zM973 160h1v1h-1zM171 162h1v1h-1zM400 162h1v1h-1zM446 162h1v1h-1zM492 162h1v1h-1zM675 162h1v1h-1zM721 162h1v1h-1zM767 162h1v1h-1zM812 162h1v1h-1zM950 162h1v1h-1zM354 167h1v1h-1zM583 167h1v1h-1zM102 174h1v1h-1zM102 175h1v1h-1zM102 181h1v1h-1zM102 184h1v1h-1zM102 216h1v1h-1zM487 222h1v1h-1zM521 222h1v1h-1zM544 222h1v1h-1zM559 222h1v1h-1zM973 222h1v1h-1zM554 224h1v1h-1zM581 224h1v1h-1zM506 225h1v1h-1zM514 226h1v1h-1zM567 226h2v1h-2zM519 227h1v1h-1zM534 227h1v1h-1zM557 227h1v1h-1zM554 228h1v1h-1zM497 229h1v1h-1zM544 229h1v1h-1zM973 241h1v1h-1zM973 251h1v1h-1zM102 255h1v1h-1zM102 258h1v1h-1zM102 259h1v1h-1zM102 260h1v1h-1zM74 262h1v1h-1zM67 264h1v1h-1zM84 264h1v1h-1zM79 267h1v1h-1zM79 268h1v1h-1zM965 269h1v1h-1zM971 269h1v1h-1zM973 270h1v1h-1zM84 271h1v1h-1zM535 289h1v1h-1zM591 289h1v1h-1zM973 289h1v1h-1zM572 290h1v1h-1zM509 291h1v1h-1zM572 291h1v1h-1zM509 293h1v1h-1zM572 293h1v1h-1zM509 294h1v1h-1zM524 294h1v1h-1zM557 294h1v1h-1zM569 294h1v1h-1zM584 294h1v1h-1zM102 295h1v1h-1zM524 295h1v1h-1zM498 296h1v1h-1zM524 296h1v1h-1zM541 296h1v1h-1zM575 296h1v1h-1zM591 296h1v1h-1zM499 297h1v1h-1zM514 297h1v1h-1zM533 297h1v1h-1zM567 297h1v1h-1zM970 323h1v1h-1zM102 324h1v1h-1zM973 326h1v1h-1zM973 331h1v1h-1zM102 335h1v1h-1zM102 346h1v1h-1zM102 349h1v1h-1zM102 352h1v1h-1zM973 352h1v1h-1zM21 368h1v1h-1zM22 369h1v1h-1zM102 373h1v1h-1zM102 381h1v1h-1zM15 383h1v1h-1zM21 383h1v1h-1zM20 397h1v1h-1zM68 401h1v1h-1zM71 402h1v1h-1zM64 404h1v1h-1zM111 405h1v1h-1zM84 407h1v1h-1zM13 412h1v1h-1zM15 412h3v1h-3zM15 431h1v1h-1zM102 431h1v1h-1zM973 431h1v1h-1zM973 437h1v1h-1zM17 441h2v1h-2zM13 442h1v1h-1zM102 453h1v1h-1zM20 456h1v1h-1zM102 456h1v1h-1zM16 462h1v1h-1zM488 463h1v1h-1zM499 463h1v1h-1zM501 463h1v1h-1zM580 463h1v1h-1zM587 463h1v1h-1zM577 464h1v1h-1zM537 465h1v1h-1zM21 467h1v1h-1zM498 467h1v1h-1zM502 467h1v1h-1zM558 467h1v1h-1zM568 467h2v1h-2zM16 468h2v1h-2zM510 468h1v1h-1zM577 468h1v1h-1zM584 469h1v1h-1zM487 470h1v1h-1zM503 470h1v1h-1zM511 470h1v1h-1zM557 470h1v1h-1zM560 470h1v1h-1zM562 470h1v1h-1zM102 482h1v1h-1zM102 483h1v1h-1zM973 484h1v1h-1zM6 485h1v1h-1zM102 485h1v1h-1zM6 486h1v1h-1zM480 487h1v1h-1zM495 487h1v1h-1zM540 487h1v1h-1zM576 487h1v1h-1zM102 488h1v1h-1zM550 488h1v1h-1zM521 489h1v1h-1zM545 489h1v1h-1zM547 490h1v1h-1zM510 491h1v1h-1zM530 491h1v1h-1zM550 491h1v1h-1zM574 491h1v1h-1zM502 492h1v1h-1zM505 492h1v1h-1zM550 492h1v1h-1zM553 492h1v1h-1zM557 492h1v1h-1zM580 492h1v1h-1zM545 493h1v1h-1zM479 494h1v1h-1zM495 494h1v1h-1zM530 494h1v1h-1zM549 494h1v1h-1zM554 494h1v1h-1zM973 494h1v1h-1zM973 513h1v1h-1zM973 523h1v1h-1zM102 527h1v1h-1zM102 530h1v1h-1zM102 531h1v1h-1zM102 532h1v1h-1zM63 535h1v1h-1zM84 536h1v1h-1zM965 541h1v1h-1zM971 541h1v1h-1zM973 542h1v1h-1zM84 543h1v1h-1zM973 561h1v1h-1zM102 567h1v1h-1zM523 594h1v1h-1zM585 594h1v1h-1zM564 595h1v1h-1zM970 595h1v1h-1zM102 596h1v1h-1zM550 596h1v1h-1zM530 597h1v1h-1zM555 597h1v1h-1zM560 597h1v1h-1zM569 598h1v1h-1zM572 598h1v1h-1zM973 598h1v1h-1zM498 599h1v1h-1zM560 599h1v1h-1zM500 601h3v1h-3zM514 601h1v1h-1zM516 601h1v1h-1zM521 601h1v1h-1zM546 601h1v1h-1zM973 603h1v1h-1zM102 607h1v1h-1zM102 618h1v1h-1zM102 621h1v1h-1zM102 624h1v1h-1zM973 624h1v1h-1zM973 641h1v1h-1zM102 647h1v1h-1zM102 650h1v1h-1zM973 651h1v1h-1zM102 652h1v1h-1zM102 653h1v1h-1zM111 677h1v1h-1zM84 679h1v1h-1zM125 684h1v1h-1zM125 686h1v1h-1zM125 687h1v1h-1zM973 687h1v1h-1zM102 688h1v1h-1zM400 689h1v1h-1zM721 689h1v1h-1zM767 689h1v1h-1zM107 690h1v1h-1zM115 690h1v1h-1zM123 690h1v1h-1zM128 690h3v1h-3zM135 690h1v1h-1zM175 690h1v1h-1zM215 690h1v1h-1zM218 690h1v1h-1zM222 690h1v1h-1zM256 690h2v1h-2zM264 690h1v1h-1zM342 690h2v1h-2zM356 690h1v1h-1zM366 690h4v1h-4zM374 690h1v1h-1zM399 690h1v1h-1zM407 690h3v1h-3zM438 690h2v1h-2zM448 690h1v1h-1zM579 690h1v1h-1zM588 690h4v1h-4zM684 690h2v1h-2zM719 690h1v1h-1zM728 690h2v1h-2zM758 690h3v1h-3zM768 690h1v1h-1zM790 690h1v1h-1zM807 690h1v1h-1zM815 690h2v1h-2zM820 690h2v1h-2zM903 690h1v1h-1zM910 690h2v1h-2zM945 690h1v1h-1zM949 690h1v1h-1zM952 690h1v1h-1zM962 690h1v1h-1zM966 690h2v1h-2zM973 690h1v1h-1zM123 697h2v1h-2zM126 697h1v1h-1zM342 697h1v1h-1zM352 697h1v1h-1zM367 697h1v1h-1zM570 697h3v1h-3zM581 697h2v1h-2zM584 697h1v1h-1zM811 697h1v1h-1zM343 698h1v1h-1zM591 698h1v1h-1zM597 698h1v1h-1zM343 699h1v1h-1zM358 699h1v1h-1zM597 699h1v1h-1zM343 700h1v1h-1zM576 700h1v1h-1zM815 700h2v1h-2zM358 701h1v1h-1zM820 702h1v1h-1zM591 703h1v1h-1zM816 703h1v1h-1zM820 703h1v1h-1zM343 704h1v1h-1zM358 704h1v1h-1zM343 705h1v1h-1zM358 705h1v1h-1zM568 705h1v1h-1zM580 706h1v1h-1zM592 706h1v1h-1zM803 707h1v1h-1zM803 708h1v1h-1zM341 709h1v1h-1zM811 709h2v1h-2zM824 709h1v1h-1zM498 728h1v1h-1zM564 728h1v1h-1zM496 729h1v1h-1zM549 729h1v1h-1zM496 730h1v1h-1zM525 730h1v1h-1zM603 730h1v1h-1zM477 731h1v1h-1zM511 731h1v1h-1zM573 731h1v1h-1zM528 732h1v1h-1zM575 732h2v1h-2zM496 733h1v1h-1zM511 733h1v1h-1zM511 734h1v1h-1zM591 734h1v1h-1zM526 735h1v1h-1zM589 735h2v1h-2zM490 737h1v1h-1zM511 737h1v1h-1zM586 737h1v1h-1zM601 737h1v1h-1zM473 738h1v1h-1zM520 738h1v1h-1z"/>
<path fill="#161167" d="M283 21h1v1h-1zM288 21h1v1h-1zM425 21h1v1h-1zM428 21h2v1h-2zM668 21h1v1h-1zM728 23h1v1h-1zM647 25h1v1h-1zM727 25h1v1h-1zM476 27h1v1h-1zM526 27h1v1h-1zM548 27h1v1h-1zM548 28h1v1h-1zM281 29h1v1h-1zM492 29h1v1h-1zM618 31h1v1h-1zM617 32h1v1h-1zM597 36h1v1h-1zM287 37h1v1h-1zM304 37h1v1h-1zM357 37h1v1h-1zM398 37h1v1h-1zM519 37h1v1h-1zM598 39h1v1h-1zM742 41h1v1h-1zM105 160h1v1h-1zM118 160h1v1h-1zM806 160h1v1h-1zM583 168h1v1h-1zM968 187h1v1h-1zM107 215h1v1h-1zM106 269h1v1h-1zM87 274h1v1h-1zM513 290h1v1h-1zM576 290h1v1h-1zM595 290h1v1h-1zM107 296h1v1h-1zM12 373h1v1h-1zM18 376h1v1h-1zM107 378h1v1h-1zM968 378h1v1h-1zM13 403h1v1h-1zM968 405h1v1h-1zM6 409h1v1h-1zM107 432h1v1h-1zM968 459h1v1h-1zM564 463h1v1h-1zM565 464h1v1h-1zM518 467h1v1h-1zM529 470h1v1h-1zM14 484h1v1h-1zM580 487h1v1h-1zM576 489h1v1h-1zM530 490h1v1h-1zM514 494h1v1h-1zM539 494h1v1h-1zM580 494h1v1h-1zM106 541h1v1h-1zM87 546h1v1h-1zM107 568h1v1h-1zM560 598h1v1h-1zM568 598h1v1h-1zM579 601h1v1h-1zM113 677h1v1h-1zM968 677h1v1h-1zM354 683h1v1h-1zM583 683h1v1h-1zM812 683h1v1h-1zM171 688h1v1h-1zM309 688h1v1h-1zM538 688h1v1h-1zM629 688h1v1h-1zM858 688h1v1h-1zM105 690h1v1h-1zM112 690h1v1h-1zM362 690h1v1h-1zM804 690h2v1h-2zM800 697h1v1h-1zM352 698h1v1h-1zM358 706h1v1h-1zM127 708h1v1h-1zM799 709h1v1h-1zM813 709h1v1h-1zM489 723h1v1h-1zM533 730h1v1h-1zM499 732h1v1h-1zM531 737h1v1h-1zM579 737h1v1h-1zM500 738h1v1h-1zM513 738h1v1h-1zM552 739h1v1h-1zM585 741h1v1h-1zM586 742h1v1h-1z"/>
<path fill="#10126d" d="M655 21h1v1h-1zM719 21h1v1h-1zM453 23h1v1h-1zM424 25h1v1h-1zM735 28h1v1h-1zM339 30h1v1h-1zM478 30h2v1h-2zM548 32h1v1h-1zM548 33h1v1h-1zM671 35h1v1h-1zM531 36h1v1h-1zM731 37h2v1h-2zM121 160h1v1h-1zM260 160h1v1h-1zM304 160h2v1h-2zM358 160h1v1h-1zM367 160h1v1h-1zM403 160h1v1h-1zM488 160h1v1h-1zM588 160h1v1h-1zM624 160h2v1h-2zM764 160h1v1h-1zM800 160h1v1h-1zM808 160h1v1h-1zM102 179h1v1h-1zM973 208h1v1h-1zM575 222h1v1h-1zM550 227h1v1h-1zM561 228h1v1h-1zM973 260h1v1h-1zM77 262h1v1h-1zM973 265h1v1h-1zM509 292h1v1h-1zM541 292h1v1h-1zM534 294h1v1h-1zM583 294h1v1h-1zM509 295h1v1h-1zM590 297h1v1h-1zM973 303h1v1h-1zM973 343h1v1h-1zM17 370h1v1h-1zM102 371h1v1h-1zM64 398h1v1h-1zM76 398h1v1h-1zM15 403h1v1h-1zM967 405h1v1h-1zM67 410h1v1h-1zM973 440h1v1h-1zM102 451h1v1h-1zM15 458h1v1h-1zM16 461h1v1h-1zM584 463h1v1h-1zM561 465h1v1h-1zM577 466h1v1h-1zM554 470h1v1h-1zM579 490h1v1h-1zM491 494h1v1h-1zM506 494h1v1h-1zM973 532h1v1h-1zM77 534h1v1h-1zM973 537h1v1h-1zM973 575h1v1h-1zM549 596h1v1h-1zM973 615h1v1h-1zM967 677h1v1h-1zM140 690h1v1h-1zM210 690h1v1h-1zM371 690h1v1h-1zM411 690h1v1h-1zM413 690h2v1h-2zM433 690h2v1h-2zM436 690h1v1h-1zM480 690h2v1h-2zM572 690h2v1h-2zM602 690h2v1h-2zM682 690h2v1h-2zM686 690h2v1h-2zM731 690h1v1h-1zM733 690h2v1h-2zM753 690h2v1h-2zM756 690h1v1h-1zM792 690h3v1h-3zM799 690h1v1h-1zM811 690h1v1h-1zM818 690h1v1h-1zM826 690h1v1h-1zM829 690h1v1h-1zM898 690h1v1h-1zM964 690h2v1h-2zM969 690h1v1h-1zM356 697h1v1h-1zM366 697h1v1h-1zM597 697h1v1h-1zM801 697h1v1h-1zM585 698h1v1h-1zM804 698h1v1h-1zM592 700h1v1h-1zM343 701h1v1h-1zM816 704h1v1h-1zM809 706h1v1h-1zM490 727h1v1h-1zM511 735h1v1h-1zM511 736h1v1h-1zM525 736h1v1h-1zM559 736h1v1h-1z"/>
<path fill="#120bb3" d="M355 22h1v1h-1zM404 22h2v1h-2zM405 23h1v1h-1zM577 23h1v1h-1zM626 23h1v1h-1zM617 24h1v1h-1zM632 24h1v1h-1zM409 25h1v1h-1zM577 25h1v1h-1zM633 25h1v1h-1zM657 25h1v1h-1zM314 26h1v1h-1zM377 26h1v1h-1zM408 26h1v1h-1zM540 26h1v1h-1zM541 27h1v1h-1zM322 28h1v1h-1zM396 28h2v1h-2zM532 28h1v1h-1zM482 30h2v1h-2zM376 31h1v1h-1zM632 32h2v1h-2zM746 32h1v1h-1zM452 34h1v1h-1zM484 34h1v1h-1zM567 34h1v1h-1zM632 34h1v1h-1zM703 34h1v1h-1zM280 35h1v1h-1zM453 35h1v1h-1zM280 36h1v1h-1zM290 36h1v1h-1zM298 36h1v1h-1zM395 36h1v1h-1zM464 36h1v1h-1zM539 36h2v1h-2zM575 36h1v1h-1zM588 36h1v1h-1zM622 36h1v1h-1zM625 36h1v1h-1zM655 36h1v1h-1zM670 36h1v1h-1zM322 37h2v1h-2zM354 37h2v1h-2zM572 37h1v1h-1zM575 37h1v1h-1zM588 37h1v1h-1zM654 37h1v1h-1zM668 37h1v1h-1zM702 37h1v1h-1zM263 161h1v1h-1zM309 161h1v1h-1zM400 161h1v1h-1zM629 161h1v1h-1zM767 161h1v1h-1zM904 161h1v1h-1zM972 215h1v1h-1zM485 222h1v1h-1zM517 222h1v1h-1zM547 223h1v1h-1zM553 223h1v1h-1zM519 224h1v1h-1zM542 224h1v1h-1zM547 224h1v1h-1zM553 224h1v1h-1zM542 225h2v1h-2zM552 225h1v1h-1zM543 226h1v1h-1zM580 226h1v1h-1zM583 226h1v1h-1zM484 227h1v1h-1zM499 227h1v1h-1zM502 227h1v1h-1zM583 227h1v1h-1zM506 228h1v1h-1zM553 228h1v1h-1zM517 229h1v1h-1zM85 263h1v1h-1zM60 264h1v1h-1zM72 264h1v1h-1zM78 264h2v1h-2zM61 265h1v1h-1zM73 265h1v1h-1zM72 266h1v1h-1zM90 270h1v1h-1zM78 272h2v1h-2zM568 291h2v1h-2zM532 292h1v1h-1zM599 292h1v1h-1zM518 293h1v1h-1zM525 293h1v1h-1zM545 293h1v1h-1zM528 294h1v1h-1zM577 294h1v1h-1zM593 294h1v1h-1zM501 295h1v1h-1zM528 295h1v1h-1zM592 295h1v1h-1zM532 296h1v1h-1zM559 296h1v1h-1zM972 296h1v1h-1zM12 359h1v1h-1zM17 359h1v1h-1zM13 369h1v1h-1zM16 369h1v1h-1zM15 381h1v1h-1zM13 387h1v1h-1zM17 388h1v1h-1zM6 395h1v1h-1zM21 395h1v1h-1zM73 399h1v1h-1zM85 399h1v1h-1zM60 400h2v1h-2zM79 400h1v1h-1zM73 401h1v1h-1zM18 402h1v1h-1zM73 407h1v1h-1zM61 408h2v1h-2zM78 408h1v1h-1zM20 411h2v1h-2zM15 429h1v1h-1zM972 432h1v1h-1zM20 434h1v1h-1zM13 435h1v1h-1zM19 448h1v1h-1zM14 454h1v1h-1zM19 455h1v1h-1zM521 463h1v1h-1zM550 464h1v1h-1zM546 465h1v1h-1zM522 466h1v1h-1zM556 466h1v1h-1zM585 466h1v1h-1zM507 467h1v1h-1zM531 467h1v1h-1zM581 468h1v1h-1zM12 475h2v1h-2zM542 488h1v1h-1zM21 490h1v1h-1zM499 490h1v1h-1zM548 490h1v1h-1zM6 491h1v1h-1zM21 491h1v1h-1zM499 491h1v1h-1zM523 491h1v1h-1zM573 491h1v1h-1zM499 492h1v1h-1zM543 492h1v1h-1zM64 534h1v1h-1zM85 535h1v1h-1zM79 536h1v1h-1zM73 537h1v1h-1zM72 542h1v1h-1zM90 542h1v1h-1zM73 543h1v1h-1zM78 544h1v1h-1zM972 568h1v1h-1zM488 594h2v1h-2zM553 595h1v1h-1zM556 596h2v1h-2zM506 597h1v1h-1zM520 597h2v1h-2zM529 597h1v1h-1zM536 597h1v1h-1zM564 597h2v1h-2zM527 598h1v1h-1zM580 598h1v1h-1zM502 599h1v1h-1zM581 599h1v1h-1zM502 600h1v1h-1zM519 600h2v1h-2zM557 600h1v1h-1zM585 600h1v1h-1zM85 671h1v1h-1zM362 698h2v1h-2zM820 698h2v1h-2zM363 699h1v1h-1zM369 699h1v1h-1zM575 699h1v1h-1zM586 699h1v1h-1zM362 700h1v1h-1zM369 701h1v1h-1zM599 701h1v1h-1zM808 701h1v1h-1zM351 702h1v1h-1zM598 702h1v1h-1zM350 703h1v1h-1zM350 704h1v1h-1zM809 704h1v1h-1zM599 705h1v1h-1zM368 706h1v1h-1zM598 706h1v1h-1zM826 706h1v1h-1zM369 707h1v1h-1zM826 707h2v1h-2zM343 708h1v1h-1zM572 708h1v1h-1zM573 709h1v1h-1zM566 724h1v1h-1zM551 726h1v1h-1zM551 727h1v1h-1zM603 727h1v1h-1zM511 729h1v1h-1zM519 730h1v1h-1zM593 732h1v1h-1zM503 733h1v1h-1zM593 733h1v1h-1zM558 734h1v1h-1zM551 735h1v1h-1zM504 736h1v1h-1zM550 736h2v1h-2zM474 737h2v1h-2zM518 737h1v1h-1zM551 737h1v1h-1zM587 738h1v1h-1z"/>
<path fill="#080bbc" d="M354 24h2v1h-2zM576 24h2v1h-2zM626 24h2v1h-2zM656 24h1v1h-1zM354 25h2v1h-2zM626 25h1v1h-1zM702 25h2v1h-2zM355 26h1v1h-1zM418 26h1v1h-1zM702 26h2v1h-2zM355 27h1v1h-1zM376 27h2v1h-2zM432 27h1v1h-1zM501 27h1v1h-1zM702 27h2v1h-2zM354 28h2v1h-2zM376 28h2v1h-2zM501 28h1v1h-1zM746 28h1v1h-1zM354 29h2v1h-2zM376 29h2v1h-2zM408 29h2v1h-2zM509 29h1v1h-1zM703 29h1v1h-1zM746 29h1v1h-1zM354 30h2v1h-2zM376 30h2v1h-2zM408 30h2v1h-2zM418 30h1v1h-1zM508 30h2v1h-2zM746 30h2v1h-2zM314 31h1v1h-1zM355 31h1v1h-1zM418 31h2v1h-2zM509 31h1v1h-1zM702 31h2v1h-2zM746 31h2v1h-2zM315 32h1v1h-1zM501 32h1v1h-1zM703 32h1v1h-1zM314 33h2v1h-2zM509 33h1v1h-1zM702 33h2v1h-2zM314 34h2v1h-2zM323 34h1v1h-1zM501 34h1v1h-1zM508 34h1v1h-1zM702 34h1v1h-1zM289 36h1v1h-1zM297 36h1v1h-1zM396 36h1v1h-1zM669 36h1v1h-1zM315 37h1v1h-1zM485 223h1v1h-1zM516 224h1v1h-1zM503 225h1v1h-1zM503 226h1v1h-1zM73 263h1v1h-1zM73 264h1v1h-1zM90 268h1v1h-1zM91 269h1v1h-1zM72 270h1v1h-1zM73 271h1v1h-1zM576 292h1v1h-1zM576 293h1v1h-1zM501 294h1v1h-1zM15 358h1v1h-1zM14 359h1v1h-1zM14 368h2v1h-2zM14 369h2v1h-2zM16 389h1v1h-1zM7 394h3v1h-3zM11 394h1v1h-1zM14 394h1v1h-1zM15 395h3v1h-3zM72 400h2v1h-2zM78 400h1v1h-1zM90 403h1v1h-1zM91 405h1v1h-1zM72 406h1v1h-1zM13 455h1v1h-1zM18 455h1v1h-1zM551 464h1v1h-1zM551 465h1v1h-1zM546 466h2v1h-2zM521 469h1v1h-1zM20 476h1v1h-1zM514 490h1v1h-1zM16 491h1v1h-1zM512 493h2v1h-2zM65 536h1v1h-1zM72 536h2v1h-2zM78 536h1v1h-1zM65 537h1v1h-1zM65 538h1v1h-1zM90 540h1v1h-1zM64 541h1v1h-1zM91 541h1v1h-1zM64 542h2v1h-2zM64 543h2v1h-2zM64 544h1v1h-1zM519 595h1v1h-1zM556 595h1v1h-1zM488 596h1v1h-1zM577 596h1v1h-1zM489 599h1v1h-1zM516 599h1v1h-1zM90 675h1v1h-1zM91 677h1v1h-1zM820 699h2v1h-2zM350 702h1v1h-1zM808 702h1v1h-1zM808 703h1v1h-1zM475 724h1v1h-1zM567 725h1v1h-1zM567 728h1v1h-1zM567 729h1v1h-1zM474 731h1v1h-1zM518 731h1v1h-1zM566 731h2v1h-2zM587 731h1v1h-1zM474 732h1v1h-1zM559 732h1v1h-1zM474 733h2v1h-2zM519 733h1v1h-1zM559 733h1v1h-1zM566 733h1v1h-1zM474 734h1v1h-1zM566 734h1v1h-1zM587 734h1v1h-1z"/>
<path fill="#0a04c9" d="M354 22h1v1h-1zM702 22h1v1h-1zM354 23h2v1h-2zM702 23h2v1h-2zM702 24h2v1h-2zM354 26h1v1h-1zM314 27h2v1h-2zM354 27h1v1h-1zM408 27h2v1h-2zM418 27h2v1h-2zM500 27h1v1h-1zM508 27h2v1h-2zM314 28h2v1h-2zM408 28h2v1h-2zM418 28h2v1h-2zM500 28h1v1h-1zM508 28h2v1h-2zM702 28h2v1h-2zM314 29h2v1h-2zM323 29h1v1h-1zM418 29h2v1h-2zM500 29h2v1h-2zM508 29h1v1h-1zM702 29h1v1h-1zM747 29h1v1h-1zM314 30h2v1h-2zM322 30h2v1h-2zM419 30h1v1h-1zM500 30h2v1h-2zM702 30h2v1h-2zM315 31h1v1h-1zM322 31h2v1h-2zM354 31h1v1h-1zM500 31h2v1h-2zM508 31h1v1h-1zM314 32h1v1h-1zM322 32h2v1h-2zM354 32h2v1h-2zM500 32h1v1h-1zM508 32h2v1h-2zM702 32h1v1h-1zM322 33h2v1h-2zM354 33h2v1h-2zM500 33h2v1h-2zM508 33h1v1h-1zM322 34h1v1h-1zM354 34h2v1h-2zM500 34h1v1h-1zM509 34h1v1h-1zM314 35h2v1h-2zM322 35h2v1h-2zM354 35h2v1h-2zM500 35h2v1h-2zM508 35h2v1h-2zM702 35h1v1h-1zM314 36h2v1h-2zM322 36h2v1h-2zM354 36h2v1h-2zM463 36h1v1h-1zM500 36h2v1h-2zM508 36h2v1h-2zM573 36h2v1h-2zM589 36h2v1h-2zM623 36h2v1h-2zM702 36h2v1h-2zM573 37h2v1h-2zM589 37h2v1h-2zM623 37h2v1h-2zM516 223h2v1h-2zM517 224h1v1h-1zM516 225h3v1h-3zM516 226h2v1h-2zM516 227h2v1h-2zM582 227h1v1h-1zM516 228h2v1h-2zM91 267h1v1h-1zM91 268h1v1h-1zM500 291h2v1h-2zM501 292h1v1h-1zM598 292h1v1h-1zM500 293h2v1h-2zM577 293h1v1h-1zM500 294h1v1h-1zM529 294h1v1h-1zM500 295h1v1h-1zM529 295h1v1h-1zM13 358h2v1h-2zM16 358h1v1h-1zM13 359h1v1h-1zM15 359h2v1h-2zM14 381h1v1h-1zM14 388h3v1h-3zM15 389h1v1h-1zM10 394h1v1h-1zM12 394h2v1h-2zM15 394h6v1h-6zM7 395h8v1h-8zM18 395h3v1h-3zM91 403h1v1h-1zM90 404h2v1h-2zM14 429h1v1h-1zM14 436h3v1h-3zM15 437h2v1h-2zM15 454h4v1h-4zM14 455h4v1h-4zM521 464h1v1h-1zM520 465h2v1h-2zM520 466h2v1h-2zM530 466h1v1h-1zM520 467h2v1h-2zM520 468h2v1h-2zM513 488h1v1h-1zM512 489h2v1h-2zM543 489h1v1h-1zM7 490h14v1h-14zM512 490h2v1h-2zM522 490h1v1h-1zM7 491h9v1h-9zM17 491h4v1h-4zM512 491h2v1h-2zM522 491h1v1h-1zM512 492h2v1h-2zM64 535h2v1h-2zM73 535h1v1h-1zM64 536h1v1h-1zM64 537h1v1h-1zM64 538h1v1h-1zM64 539h2v1h-2zM91 539h1v1h-1zM64 540h2v1h-2zM91 540h1v1h-1zM65 541h1v1h-1zM65 544h1v1h-1zM488 595h2v1h-2zM520 595h1v1h-1zM489 596h1v1h-1zM488 597h2v1h-2zM508 597h1v1h-1zM488 598h2v1h-2zM507 598h2v1h-2zM517 598h1v1h-1zM488 599h1v1h-1zM517 599h1v1h-1zM488 600h1v1h-1zM91 675h1v1h-1zM90 676h2v1h-2zM598 703h2v1h-2zM598 704h2v1h-2zM474 725h2v1h-2zM566 725h1v1h-1zM474 726h2v1h-2zM566 726h2v1h-2zM474 727h2v1h-2zM566 727h2v1h-2zM474 728h2v1h-2zM566 728h1v1h-1zM474 729h2v1h-2zM566 729h1v1h-1zM474 730h2v1h-2zM566 730h2v1h-2zM475 731h1v1h-1zM519 731h1v1h-1zM475 732h1v1h-1zM518 732h2v1h-2zM566 732h2v1h-2zM518 733h1v1h-1zM567 733h1v1h-1zM475 734h1v1h-1zM518 734h2v1h-2zM567 734h1v1h-1zM474 735h2v1h-2zM518 735h2v1h-2zM566 735h2v1h-2zM474 736h2v1h-2zM518 736h2v1h-2zM566 736h2v1h-2zM566 737h1v1h-1z"/>
<path fill="#0b04b1" d="M703 22h1v1h-1zM404 23h1v1h-1zM576 23h1v1h-1zM633 24h1v1h-1zM657 24h1v1h-1zM576 25h1v1h-1zM627 25h1v1h-1zM632 25h1v1h-1zM656 25h1v1h-1zM315 26h1v1h-1zM376 26h1v1h-1zM409 26h1v1h-1zM419 26h1v1h-1zM432 26h2v1h-2zM500 26h1v1h-1zM508 26h2v1h-2zM540 27h1v1h-1zM746 27h1v1h-1zM747 28h1v1h-1zM322 29h1v1h-1zM396 29h1v1h-1zM524 29h1v1h-1zM377 31h1v1h-1zM387 31h1v1h-1zM408 31h2v1h-2zM483 31h1v1h-1zM419 32h1v1h-1zM747 32h1v1h-1zM632 33h2v1h-2zM453 34h1v1h-1zM583 34h1v1h-1zM617 34h1v1h-1zM633 34h1v1h-1zM396 35h1v1h-1zM452 35h1v1h-1zM484 35h1v1h-1zM703 35h1v1h-1zM306 36h1v1h-1zM471 36h1v1h-1zM484 36h1v1h-1zM572 36h1v1h-1zM591 36h1v1h-1zM653 36h2v1h-2zM668 36h1v1h-1zM314 37h1v1h-1zM501 37h1v1h-1zM508 37h2v1h-2zM625 37h1v1h-1zM653 37h1v1h-1zM669 37h2v1h-2zM703 37h1v1h-1zM446 161h1v1h-1zM675 161h1v1h-1zM721 161h1v1h-1zM950 161h1v1h-1zM972 187h1v1h-1zM486 223h1v1h-1zM546 223h1v1h-1zM557 223h1v1h-1zM543 224h1v1h-1zM512 225h1v1h-1zM526 225h1v1h-1zM531 225h1v1h-1zM485 226h1v1h-1zM542 226h1v1h-1zM485 227h1v1h-1zM503 227h1v1h-1zM581 227h1v1h-1zM485 228h1v1h-1zM583 228h1v1h-1zM516 229h1v1h-1zM972 242h1v1h-1zM61 264h1v1h-1zM72 265h1v1h-1zM78 265h2v1h-2zM90 266h2v1h-2zM90 267h1v1h-1zM90 269h1v1h-1zM73 270h1v1h-1zM91 270h1v1h-1zM72 271h1v1h-1zM500 290h2v1h-2zM500 292h1v1h-1zM577 292h1v1h-1zM589 292h1v1h-1zM532 293h2v1h-2zM598 293h2v1h-2zM520 294h1v1h-1zM539 294h1v1h-1zM576 294h1v1h-1zM592 294h1v1h-1zM593 295h1v1h-1zM531 296h1v1h-1zM972 323h1v1h-1zM972 350h1v1h-1zM12 358h1v1h-1zM17 358h1v1h-1zM14 380h1v1h-1zM14 389h1v1h-1zM17 389h1v1h-1zM21 394h1v1h-1zM72 401h1v1h-1zM78 401h2v1h-2zM90 402h2v1h-2zM18 403h1v1h-1zM90 405h1v1h-1zM73 406h1v1h-1zM72 407h1v1h-1zM20 410h1v1h-1zM14 428h1v1h-1zM17 436h1v1h-1zM17 437h1v1h-1zM14 448h1v1h-1zM20 448h1v1h-1zM13 454h1v1h-1zM19 454h1v1h-1zM972 459h1v1h-1zM520 464h1v1h-1zM550 465h1v1h-1zM507 466h1v1h-1zM584 466h1v1h-1zM530 467h1v1h-1zM546 467h2v1h-2zM584 467h1v1h-1zM489 468h1v1h-1zM520 469h1v1h-1zM20 475h1v1h-1zM7 476h1v1h-1zM972 486h1v1h-1zM512 488h1v1h-1zM543 488h1v1h-1zM542 489h1v1h-1zM6 490h1v1h-1zM501 490h1v1h-1zM538 490h2v1h-2zM500 491h1v1h-1zM521 491h1v1h-1zM538 491h2v1h-2zM481 492h1v1h-1zM972 514h1v1h-1zM72 535h1v1h-1zM72 537h1v1h-1zM78 537h2v1h-2zM90 538h2v1h-2zM90 539h1v1h-1zM90 541h1v1h-1zM73 542h1v1h-1zM91 542h1v1h-1zM72 543h1v1h-1zM64 545h2v1h-2zM552 595h1v1h-1zM557 595h1v1h-1zM972 595h1v1h-1zM520 596h1v1h-1zM527 597h1v1h-1zM556 597h1v1h-1zM516 598h1v1h-1zM487 599h1v1h-1zM580 599h1v1h-1zM556 600h1v1h-1zM972 622h1v1h-1zM972 649h1v1h-1zM90 674h2v1h-2zM90 677h1v1h-1zM362 699h1v1h-1zM368 699h1v1h-1zM827 699h1v1h-1zM363 700h1v1h-1zM369 700h1v1h-1zM575 700h1v1h-1zM820 700h2v1h-2zM351 701h1v1h-1zM598 701h1v1h-1zM599 702h1v1h-1zM802 702h1v1h-1zM809 702h1v1h-1zM351 703h1v1h-1zM809 703h1v1h-1zM598 705h1v1h-1zM369 706h1v1h-1zM804 706h1v1h-1zM827 706h1v1h-1zM368 707h1v1h-1zM569 707h1v1h-1zM573 708h1v1h-1zM572 709h1v1h-1zM474 724h1v1h-1zM567 724h1v1h-1zM550 726h1v1h-1zM550 727h1v1h-1zM550 728h1v1h-1zM518 730h1v1h-1zM587 730h1v1h-1zM586 731h1v1h-1zM503 732h1v1h-1zM558 732h1v1h-1zM587 732h1v1h-1zM592 732h1v1h-1zM558 733h1v1h-1zM592 733h1v1h-1zM550 735h1v1h-1zM519 737h1v1h-1zM550 737h1v1h-1zM567 737h1v1h-1z"/>
<path fill="#150d96" d="M396 21h1v1h-1zM454 21h1v1h-1zM378 22h1v1h-1zM701 22h1v1h-1zM464 23h1v1h-1zM395 24h1v1h-1zM463 24h1v1h-1zM539 24h1v1h-1zM567 24h1v1h-1zM396 25h1v1h-1zM452 25h2v1h-2zM464 25h1v1h-1zM540 25h1v1h-1zM617 25h1v1h-1zM297 26h1v1h-1zM313 26h1v1h-1zM395 26h1v1h-1zM515 26h1v1h-1zM546 26h1v1h-1zM746 26h1v1h-1zM290 27h1v1h-1zM431 27h1v1h-1zM510 27h1v1h-1zM516 27h1v1h-1zM642 27h1v1h-1zM671 27h1v1h-1zM713 27h1v1h-1zM289 28h1v1h-1zM297 28h1v1h-1zM395 28h1v1h-1zM432 28h1v1h-1zM533 28h1v1h-1zM573 28h1v1h-1zM588 28h2v1h-2zM623 28h1v1h-1zM631 28h1v1h-1zM653 28h1v1h-1zM668 28h2v1h-2zM483 29h1v1h-1zM533 29h1v1h-1zM632 29h1v1h-1zM297 30h1v1h-1zM631 30h1v1h-1zM298 31h1v1h-1zM484 31h1v1h-1zM524 31h1v1h-1zM632 31h1v1h-1zM297 32h1v1h-1zM409 32h1v1h-1zM524 32h1v1h-1zM418 33h1v1h-1zM424 33h2v1h-2zM433 33h1v1h-1zM736 33h1v1h-1zM746 33h1v1h-1zM281 34h1v1h-1zM524 34h1v1h-1zM566 34h1v1h-1zM582 34h1v1h-1zM616 34h1v1h-1zM662 34h1v1h-1zM737 34h1v1h-1zM281 35h1v1h-1zM379 35h1v1h-1zM386 35h1v1h-1zM492 35h2v1h-2zM525 35h1v1h-1zM539 35h1v1h-1zM566 35h1v1h-1zM577 35h1v1h-1zM616 35h1v1h-1zM626 35h1v1h-1zM657 35h1v1h-1zM380 36h1v1h-1zM415 36h1v1h-1zM587 36h1v1h-1zM652 36h1v1h-1zM290 37h1v1h-1zM298 37h1v1h-1zM381 37h1v1h-1zM415 37h1v1h-1zM470 37h1v1h-1zM598 37h2v1h-2zM638 37h1v1h-1zM170 160h2v1h-2zM216 160h2v1h-2zM262 160h1v1h-1zM309 160h1v1h-1zM401 160h1v1h-1zM447 160h1v1h-1zM492 160h2v1h-2zM538 160h2v1h-2zM629 160h1v1h-1zM674 160h1v1h-1zM720 160h1v1h-1zM766 160h1v1h-1zM858 160h2v1h-2zM905 160h1v1h-1zM950 160h2v1h-2zM125 161h1v1h-1zM354 161h1v1h-1zM538 161h1v1h-1zM858 161h1v1h-1zM498 222h1v1h-1zM518 222h1v1h-1zM546 222h1v1h-1zM582 223h1v1h-1zM486 224h1v1h-1zM494 225h1v1h-1zM527 225h1v1h-1zM547 226h1v1h-1zM577 227h1v1h-1zM580 227h1v1h-1zM483 228h1v1h-1zM530 228h1v1h-1zM534 228h1v1h-1zM543 228h1v1h-1zM498 229h1v1h-1zM506 229h1v1h-1zM511 229h2v1h-2zM552 229h1v1h-1zM583 229h1v1h-1zM66 262h1v1h-1zM61 263h1v1h-1zM84 263h1v1h-1zM71 267h1v1h-1zM72 268h1v1h-1zM83 268h1v1h-1zM67 272h1v1h-1zM66 273h1v1h-1zM78 273h1v1h-1zM559 290h1v1h-1zM558 291h1v1h-1zM590 292h1v1h-1zM521 293h1v1h-1zM528 293h1v1h-1zM517 294h1v1h-1zM538 294h1v1h-1zM540 294h1v1h-1zM499 295h1v1h-1zM538 295h1v1h-1zM511 296h1v1h-1zM531 297h1v1h-1zM598 297h1v1h-1zM102 323h1v1h-1zM973 351h1v1h-1zM7 360h1v1h-1zM25 369h1v1h-1zM21 374h1v1h-1zM13 375h1v1h-1zM16 375h1v1h-1zM20 386h1v1h-1zM6 394h1v1h-1zM66 398h1v1h-1zM60 401h2v1h-2zM72 402h1v1h-1zM19 403h1v1h-1zM90 406h1v1h-1zM63 408h1v1h-1zM63 409h1v1h-1zM19 435h2v1h-2zM17 442h1v1h-1zM12 448h1v1h-1zM13 449h2v1h-2zM20 449h1v1h-1zM489 463h1v1h-1zM556 463h1v1h-1zM490 466h1v1h-1zM535 466h1v1h-1zM581 466h1v1h-1zM490 467h1v1h-1zM509 467h2v1h-2zM527 467h2v1h-2zM557 467h1v1h-1zM490 468h1v1h-1zM499 468h1v1h-1zM507 468h1v1h-1zM520 470h1v1h-1zM21 475h1v1h-1zM6 476h1v1h-1zM10 482h3v1h-3zM481 487h1v1h-1zM513 487h1v1h-1zM490 489h2v1h-2zM500 489h1v1h-1zM538 489h1v1h-1zM549 489h1v1h-1zM482 490h1v1h-1zM498 490h1v1h-1zM509 490h1v1h-1zM527 490h1v1h-1zM481 491h2v1h-2zM502 491h1v1h-1zM519 491h2v1h-2zM549 491h1v1h-1zM482 492h1v1h-1zM491 492h1v1h-1zM498 493h1v1h-1zM576 493h2v1h-2zM499 494h1v1h-1zM84 535h1v1h-1zM72 538h1v1h-1zM83 540h1v1h-1zM79 543h1v1h-1zM65 546h1v1h-1zM499 594h1v1h-1zM521 594h1v1h-1zM547 594h1v1h-1zM102 595h1v1h-1zM498 595h1v1h-1zM549 595h1v1h-1zM560 595h1v1h-1zM585 595h1v1h-1zM546 596h1v1h-1zM528 598h1v1h-1zM556 598h2v1h-2zM519 599h1v1h-1zM526 599h1v1h-1zM557 599h1v1h-1zM486 600h1v1h-1zM487 601h1v1h-1zM508 601h1v1h-1zM513 601h1v1h-1zM518 601h2v1h-2zM547 601h2v1h-2zM561 601h1v1h-1zM577 601h1v1h-1zM973 623h1v1h-1zM90 678h1v1h-1zM171 690h1v1h-1zM217 690h1v1h-1zM263 690h1v1h-1zM309 690h1v1h-1zM446 690h1v1h-1zM492 690h1v1h-1zM538 690h1v1h-1zM629 690h1v1h-1zM675 690h1v1h-1zM858 690h1v1h-1zM950 690h1v1h-1zM356 698h1v1h-1zM368 698h1v1h-1zM826 698h1v1h-1zM122 699h1v1h-1zM129 699h1v1h-1zM357 699h1v1h-1zM128 700h1v1h-1zM587 700h1v1h-1zM598 700h1v1h-1zM809 700h1v1h-1zM129 701h1v1h-1zM362 701h1v1h-1zM827 701h1v1h-1zM362 704h1v1h-1zM804 704h1v1h-1zM362 705h2v1h-2zM820 705h1v1h-1zM827 705h1v1h-1zM128 706h2v1h-2zM363 706h1v1h-1zM568 706h1v1h-1zM805 706h1v1h-1zM363 707h1v1h-1zM804 707h1v1h-1zM364 708h1v1h-1zM574 708h1v1h-1zM342 709h1v1h-1zM364 709h1v1h-1zM474 723h1v1h-1zM566 723h1v1h-1zM600 723h1v1h-1zM551 725h1v1h-1zM602 726h1v1h-1zM602 728h1v1h-1zM592 729h1v1h-1zM483 730h1v1h-1zM550 730h1v1h-1zM476 731h1v1h-1zM558 731h1v1h-1zM550 733h1v1h-1zM504 734h1v1h-1zM503 736h1v1h-1zM526 736h1v1h-1zM574 736h1v1h-1zM602 737h1v1h-1zM474 738h1v1h-1zM490 738h1v1h-1zM519 738h1v1h-1zM551 738h1v1h-1zM567 738h1v1h-1zM586 738h1v1h-1zM593 739h1v1h-1z"/>
<path fill="#0d0d94" d="M590 21h1v1h-1zM395 22h1v1h-1zM576 22h1v1h-1zM298 23h1v1h-1zM395 23h1v1h-1zM410 23h1v1h-1zM633 23h1v1h-1zM641 23h1v1h-1zM656 23h2v1h-2zM540 24h1v1h-1zM463 25h1v1h-1zM539 25h1v1h-1zM463 26h2v1h-2zM501 26h1v1h-1zM539 26h1v1h-1zM576 26h1v1h-1zM591 26h1v1h-1zM671 26h1v1h-1zM297 27h1v1h-1zM452 27h1v1h-1zM463 27h2v1h-2zM539 27h1v1h-1zM631 27h1v1h-1zM540 28h1v1h-1zM736 28h1v1h-1zM289 29h1v1h-1zM297 29h1v1h-1zM484 29h1v1h-1zM623 29h1v1h-1zM631 29h1v1h-1zM668 29h1v1h-1zM298 30h1v1h-1zM386 30h2v1h-2zM395 30h2v1h-2zM524 30h1v1h-1zM540 30h1v1h-1zM721 30h1v1h-1zM297 31h1v1h-1zM540 31h1v1h-1zM298 32h1v1h-1zM395 32h1v1h-1zM433 32h1v1h-1zM463 32h1v1h-1zM483 32h2v1h-2zM297 33h1v1h-1zM395 33h1v1h-1zM463 33h1v1h-1zM483 33h2v1h-2zM395 34h2v1h-2zM463 34h1v1h-1zM483 34h1v1h-1zM492 34h1v1h-1zM289 35h2v1h-2zM297 35h2v1h-2zM395 35h1v1h-1zM464 35h1v1h-1zM483 35h1v1h-1zM540 35h1v1h-1zM582 35h1v1h-1zM638 36h1v1h-1zM667 36h1v1h-1zM306 37h2v1h-2zM321 37h1v1h-1zM395 37h1v1h-1zM500 37h1v1h-1zM516 37h1v1h-1zM904 160h1v1h-1zM102 161h1v1h-1zM973 161h1v1h-1zM102 186h1v1h-1zM973 214h1v1h-1zM973 215h1v1h-1zM557 222h1v1h-1zM485 224h1v1h-1zM495 224h1v1h-1zM512 224h1v1h-1zM485 225h1v1h-1zM513 225h1v1h-1zM519 225h1v1h-1zM486 226h1v1h-1zM494 226h1v1h-1zM505 226h1v1h-1zM525 226h2v1h-2zM577 226h1v1h-1zM495 227h1v1h-1zM506 227h1v1h-1zM513 227h1v1h-1zM579 227h1v1h-1zM495 228h1v1h-1zM546 228h2v1h-2zM550 228h1v1h-1zM551 229h1v1h-1zM102 242h1v1h-1zM973 242h1v1h-1zM102 243h1v1h-1zM73 262h1v1h-1zM67 263h1v1h-1zM78 263h1v1h-1zM84 267h1v1h-1zM84 268h1v1h-1zM84 269h1v1h-1zM972 269h1v1h-1zM79 271h1v1h-1zM532 289h2v1h-2zM531 291h2v1h-2zM576 291h1v1h-1zM520 292h1v1h-1zM531 292h1v1h-1zM534 292h1v1h-1zM558 292h1v1h-1zM568 292h1v1h-1zM517 293h1v1h-1zM531 293h1v1h-1zM558 293h1v1h-1zM518 294h1v1h-1zM521 294h1v1h-1zM531 294h2v1h-2zM521 295h1v1h-1zM532 295h1v1h-1zM514 296h1v1h-1zM518 296h1v1h-1zM545 296h1v1h-1zM558 296h1v1h-1zM973 296h1v1h-1zM973 297h1v1h-1zM102 322h1v1h-1zM973 322h1v1h-1zM973 323h1v1h-1zM102 350h1v1h-1zM973 350h1v1h-1zM24 368h1v1h-1zM102 378h1v1h-1zM102 379h1v1h-1zM13 388h1v1h-1zM20 396h1v1h-1zM88 398h1v1h-1zM67 400h1v1h-1zM90 401h1v1h-1zM72 403h1v1h-1zM102 404h1v1h-1zM102 405h1v1h-1zM973 405h1v1h-1zM79 406h1v1h-1zM73 408h1v1h-1zM8 410h1v1h-1zM973 432h1v1h-1zM973 433h1v1h-1zM15 456h1v1h-1zM102 458h1v1h-1zM520 463h1v1h-1zM489 464h2v1h-2zM489 465h2v1h-2zM581 465h1v1h-1zM489 467h1v1h-1zM517 467h1v1h-1zM21 468h1v1h-1zM498 468h1v1h-1zM551 468h1v1h-1zM584 468h1v1h-1zM551 469h1v1h-1zM581 469h1v1h-1zM521 470h1v1h-1zM7 475h4v1h-4zM19 475h1v1h-1zM9 476h5v1h-5zM18 476h1v1h-1zM8 482h1v1h-1zM973 486h1v1h-1zM973 487h1v1h-1zM482 488h1v1h-1zM491 488h1v1h-1zM14 489h1v1h-1zM481 489h1v1h-1zM481 490h1v1h-1zM543 490h1v1h-1zM576 492h1v1h-1zM512 494h2v1h-2zM102 514h1v1h-1zM973 514h1v1h-1zM102 515h1v1h-1zM73 534h1v1h-1zM72 539h1v1h-1zM84 539h1v1h-1zM84 540h1v1h-1zM72 541h1v1h-1zM84 541h1v1h-1zM972 541h1v1h-1zM79 542h1v1h-1zM973 568h1v1h-1zM973 569h1v1h-1zM102 594h1v1h-1zM548 594h1v1h-1zM553 594h1v1h-1zM556 594h1v1h-1zM577 594h1v1h-1zM973 594h1v1h-1zM546 595h1v1h-1zM584 595h1v1h-1zM973 595h1v1h-1zM522 596h1v1h-1zM528 596h2v1h-2zM536 596h1v1h-1zM564 596h1v1h-1zM519 597h1v1h-1zM519 598h1v1h-1zM546 600h1v1h-1zM553 601h1v1h-1zM556 601h1v1h-1zM102 622h1v1h-1zM973 622h1v1h-1zM973 648h1v1h-1zM973 649h1v1h-1zM88 670h1v1h-1zM90 673h1v1h-1zM102 676h1v1h-1zM102 677h1v1h-1zM973 677h1v1h-1zM170 690h1v1h-1zM216 690h1v1h-1zM262 690h1v1h-1zM355 690h1v1h-1zM401 690h1v1h-1zM493 690h1v1h-1zM674 690h1v1h-1zM720 690h2v1h-2zM766 690h1v1h-1zM904 690h2v1h-2zM951 690h1v1h-1zM586 698h1v1h-1zM815 698h1v1h-1zM580 699h1v1h-1zM351 700h1v1h-1zM586 700h1v1h-1zM826 700h1v1h-1zM575 701h1v1h-1zM820 701h1v1h-1zM827 702h1v1h-1zM803 703h1v1h-1zM820 704h1v1h-1zM820 706h2v1h-2zM571 708h1v1h-1zM475 723h1v1h-1zM483 725h1v1h-1zM565 729h1v1h-1zM580 729h1v1h-1zM603 729h1v1h-1zM592 730h1v1h-1zM503 731h1v1h-1zM549 731h2v1h-2zM504 732h1v1h-1zM550 732h1v1h-1zM504 733h1v1h-1zM503 734h1v1h-1zM586 734h1v1h-1zM603 734h1v1h-1zM503 735h1v1h-1zM586 735h1v1h-1zM603 735h1v1h-1zM603 736h1v1h-1z"/>
<path fill="#0e0797" d="M404 21h1v1h-1zM455 21h1v1h-1zM627 23h1v1h-1zM616 24h1v1h-1zM395 25h1v1h-1zM452 26h2v1h-2zM626 26h1v1h-1zM632 26h1v1h-1zM656 26h1v1h-1zM712 26h1v1h-1zM289 27h1v1h-1zM395 27h2v1h-2zM433 27h1v1h-1zM747 27h1v1h-1zM290 28h1v1h-1zM323 28h1v1h-1zM642 28h1v1h-1zM290 29h1v1h-1zM395 29h1v1h-1zM532 29h1v1h-1zM588 29h1v1h-1zM642 29h1v1h-1zM721 29h1v1h-1zM737 29h1v1h-1zM484 30h1v1h-1zM418 32h1v1h-1zM452 33h2v1h-2zM524 33h2v1h-2zM737 33h1v1h-1zM410 34h1v1h-1zM525 34h1v1h-1zM663 34h1v1h-1zM736 34h1v1h-1zM463 35h1v1h-1zM485 35h1v1h-1zM576 35h1v1h-1zM656 35h1v1h-1zM281 36h1v1h-1zM453 36h1v1h-1zM472 36h1v1h-1zM485 36h1v1h-1zM493 36h1v1h-1zM517 36h1v1h-1zM548 36h1v1h-1zM576 36h1v1h-1zM656 36h1v1h-1zM734 36h2v1h-2zM289 37h1v1h-1zM297 37h1v1h-1zM396 37h1v1h-1zM414 37h1v1h-1zM463 37h2v1h-2zM471 37h1v1h-1zM539 37h2v1h-2zM591 37h1v1h-1zM622 37h1v1h-1zM655 37h1v1h-1zM734 37h1v1h-1zM745 38h1v1h-1zM263 160h1v1h-1zM308 160h1v1h-1zM400 160h1v1h-1zM446 160h1v1h-1zM628 160h1v1h-1zM675 160h1v1h-1zM721 160h1v1h-1zM767 160h1v1h-1zM171 161h1v1h-1zM217 161h1v1h-1zM492 161h1v1h-1zM583 161h1v1h-1zM812 161h1v1h-1zM103 187h1v1h-1zM103 215h1v1h-1zM486 222h1v1h-1zM516 222h1v1h-1zM551 222h2v1h-2zM550 223h1v1h-1zM503 224h2v1h-2zM532 224h1v1h-1zM546 224h1v1h-1zM502 225h1v1h-1zM505 225h1v1h-1zM530 225h1v1h-1zM547 225h1v1h-1zM553 225h1v1h-1zM581 225h1v1h-1zM504 226h1v1h-1zM543 227h1v1h-1zM584 227h1v1h-1zM499 228h1v1h-1zM502 228h1v1h-1zM513 228h1v1h-1zM557 228h1v1h-1zM103 242h1v1h-1zM85 262h1v1h-1zM72 263h1v1h-1zM60 265h1v1h-1zM66 266h1v1h-1zM66 267h1v1h-1zM72 267h1v1h-1zM71 268h1v1h-1zM72 269h1v1h-1zM103 269h1v1h-1zM78 271h1v1h-1zM568 290h2v1h-2zM589 290h1v1h-1zM588 291h1v1h-1zM599 291h1v1h-1zM519 292h1v1h-1zM588 292h1v1h-1zM515 294h1v1h-1zM519 294h1v1h-1zM514 295h1v1h-1zM531 295h1v1h-1zM103 296h1v1h-1zM500 296h1v1h-1zM520 296h1v1h-1zM527 296h1v1h-1zM539 296h1v1h-1zM549 296h1v1h-1zM572 296h1v1h-1zM598 296h1v1h-1zM526 297h1v1h-1zM532 297h1v1h-1zM573 297h1v1h-1zM103 323h1v1h-1zM103 350h1v1h-1zM16 368h1v1h-1zM103 378h1v1h-1zM972 378h1v1h-1zM15 380h1v1h-1zM67 399h1v1h-1zM72 399h1v1h-1zM78 399h1v1h-1zM19 402h1v1h-1zM72 405h1v1h-1zM103 405h1v1h-1zM972 405h1v1h-1zM91 406h1v1h-1zM78 407h2v1h-2zM79 408h1v1h-1zM21 410h1v1h-1zM9 411h2v1h-2zM19 411h1v1h-1zM15 428h1v1h-1zM103 432h1v1h-1zM21 434h1v1h-1zM18 436h1v1h-1zM14 437h1v1h-1zM16 443h2v1h-2zM19 449h1v1h-1zM103 459h1v1h-1zM522 463h1v1h-1zM580 464h1v1h-1zM547 465h1v1h-1zM509 466h1v1h-1zM528 466h1v1h-1zM531 466h1v1h-1zM557 466h1v1h-1zM508 467h1v1h-1zM529 467h1v1h-1zM534 467h1v1h-1zM581 467h1v1h-1zM20 468h1v1h-1zM488 468h1v1h-1zM506 468h1v1h-1zM489 469h1v1h-1zM499 469h1v1h-1zM580 469h1v1h-1zM12 474h1v1h-1zM11 475h1v1h-1zM8 476h1v1h-1zM19 476h1v1h-1zM21 476h1v1h-1zM9 482h1v1h-1zM12 483h1v1h-1zM103 486h1v1h-1zM482 489h1v1h-1zM539 489h1v1h-1zM508 490h1v1h-1zM520 490h1v1h-1zM523 490h1v1h-1zM549 490h1v1h-1zM501 491h1v1h-1zM509 491h1v1h-1zM480 492h1v1h-1zM490 492h1v1h-1zM498 492h1v1h-1zM481 493h1v1h-1zM543 493h1v1h-1zM103 514h1v1h-1zM65 534h1v1h-1zM85 534h1v1h-1zM78 535h1v1h-1zM103 541h1v1h-1zM78 543h1v1h-1zM79 544h1v1h-1zM64 546h1v1h-1zM103 568h1v1h-1zM519 594h2v1h-2zM103 595h1v1h-1zM576 595h1v1h-1zM507 596h2v1h-2zM519 596h1v1h-1zM552 596h2v1h-2zM576 596h1v1h-1zM578 596h1v1h-1zM509 597h1v1h-1zM533 597h1v1h-1zM502 598h1v1h-1zM506 598h1v1h-1zM509 598h1v1h-1zM520 598h1v1h-1zM526 598h1v1h-1zM564 598h2v1h-2zM581 598h1v1h-1zM506 599h1v1h-1zM509 599h1v1h-1zM520 599h1v1h-1zM552 599h1v1h-1zM489 600h1v1h-1zM509 600h1v1h-1zM512 600h2v1h-2zM516 600h1v1h-1zM533 600h1v1h-1zM537 600h1v1h-1zM552 600h2v1h-2zM560 600h1v1h-1zM488 601h1v1h-1zM520 601h1v1h-1zM103 622h1v1h-1zM103 649h1v1h-1zM103 677h1v1h-1zM972 677h1v1h-1zM91 678h1v1h-1zM308 690h1v1h-1zM539 690h1v1h-1zM628 690h1v1h-1zM859 690h1v1h-1zM357 698h1v1h-1zM128 699h1v1h-1zM587 699h1v1h-1zM815 699h1v1h-1zM826 699h1v1h-1zM129 700h1v1h-1zM368 700h1v1h-1zM827 700h1v1h-1zM350 701h1v1h-1zM809 701h1v1h-1zM803 702h1v1h-1zM351 704h1v1h-1zM808 704h1v1h-1zM369 705h1v1h-1zM804 705h2v1h-2zM821 705h1v1h-1zM362 706h1v1h-1zM568 707h1v1h-1zM593 708h1v1h-1zM343 709h1v1h-1zM365 709h1v1h-1zM574 709h1v1h-1zM601 723h1v1h-1zM602 727h1v1h-1zM551 728h1v1h-1zM603 728h1v1h-1zM550 729h1v1h-1zM482 730h1v1h-1zM586 730h1v1h-1zM559 731h1v1h-1zM592 731h2v1h-2zM502 732h1v1h-1zM549 732h1v1h-1zM586 732h1v1h-1zM587 733h1v1h-1zM550 734h1v1h-1zM559 734h1v1h-1zM504 735h1v1h-1zM602 735h1v1h-1zM602 736h1v1h-1zM504 737h1v1h-1zM475 738h1v1h-1zM518 738h1v1h-1zM566 738h1v1h-1zM594 739h1v1h-1z"/>
<path fill="#160f7c" d="M380 21h1v1h-1zM400 21h1v1h-1zM414 21h2v1h-2zM430 21h1v1h-1zM433 21h1v1h-1zM465 21h1v1h-1zM538 21h1v1h-1zM569 21h1v1h-1zM574 21h1v1h-1zM281 22h1v1h-1zM625 22h1v1h-1zM281 23h1v1h-1zM424 23h1v1h-1zM662 23h1v1h-1zM647 24h1v1h-1zM662 25h1v1h-1zM479 26h1v1h-1zM492 26h1v1h-1zM507 26h1v1h-1zM512 26h1v1h-1zM543 26h1v1h-1zM545 26h1v1h-1zM322 27h1v1h-1zM656 27h1v1h-1zM734 27h1v1h-1zM517 29h1v1h-1zM571 29h1v1h-1zM570 30h2v1h-2zM650 30h1v1h-1zM688 30h1v1h-1zM548 31h1v1h-1zM712 32h1v1h-1zM566 33h1v1h-1zM647 33h1v1h-1zM275 34h1v1h-1zM424 34h1v1h-1zM712 34h1v1h-1zM721 34h1v1h-1zM727 34h1v1h-1zM651 35h1v1h-1zM277 36h1v1h-1zM417 36h1v1h-1zM426 36h1v1h-1zM640 36h1v1h-1zM647 36h1v1h-1zM720 36h1v1h-1zM428 37h3v1h-3zM496 37h1v1h-1zM518 37h1v1h-1zM529 37h1v1h-1zM717 37h1v1h-1zM108 160h1v1h-1zM169 160h1v1h-1zM223 160h1v1h-1zM256 160h1v1h-1zM264 160h1v1h-1zM306 160h1v1h-1zM407 160h1v1h-1zM440 160h2v1h-2zM484 160h1v1h-1zM541 160h1v1h-1zM626 160h1v1h-1zM726 160h2v1h-2zM760 160h1v1h-1zM861 160h1v1h-1zM911 160h1v1h-1zM952 160h1v1h-1zM968 160h2v1h-2zM583 162h1v1h-1zM125 164h1v1h-1zM354 164h1v1h-1zM583 164h1v1h-1zM106 187h1v1h-1zM970 187h1v1h-1zM497 222h1v1h-1zM561 227h1v1h-1zM573 228h1v1h-1zM502 229h1v1h-1zM87 262h1v1h-1zM89 262h1v1h-1zM65 267h1v1h-1zM108 269h2v1h-2zM112 269h1v1h-1zM85 272h1v1h-1zM549 292h1v1h-1zM549 294h1v1h-1zM562 295h1v1h-1zM599 295h1v1h-1zM569 296h1v1h-1zM560 297h1v1h-1zM106 323h1v1h-1zM18 359h1v1h-1zM12 375h1v1h-1zM14 375h1v1h-1zM22 376h1v1h-1zM23 377h1v1h-1zM21 384h1v1h-1zM21 385h1v1h-1zM63 398h1v1h-1zM74 398h1v1h-1zM21 400h1v1h-1zM20 402h1v1h-1zM83 405h1v1h-1zM108 405h3v1h-3zM112 405h1v1h-1zM965 405h1v1h-1zM60 407h1v1h-1zM10 412h1v1h-1zM14 412h1v1h-1zM20 430h1v1h-1zM11 432h1v1h-1zM12 441h2v1h-2zM12 442h1v1h-1zM21 449h1v1h-1zM21 458h1v1h-1zM11 459h1v1h-1zM106 459h1v1h-1zM970 459h1v1h-1zM12 461h1v1h-1zM12 462h2v1h-2zM19 462h1v1h-1zM502 463h1v1h-1zM524 463h1v1h-1zM549 463h2v1h-2zM554 463h1v1h-1zM560 463h1v1h-1zM579 463h1v1h-1zM529 465h2v1h-2zM536 465h1v1h-1zM553 465h1v1h-1zM538 467h1v1h-1zM538 468h1v1h-1zM12 469h1v1h-1zM553 469h1v1h-1zM499 470h1v1h-1zM501 470h1v1h-1zM509 470h1v1h-1zM548 470h1v1h-1zM579 470h1v1h-1zM11 471h1v1h-1zM11 472h1v1h-1zM11 473h1v1h-1zM11 481h1v1h-1zM539 487h1v1h-1zM542 487h1v1h-1zM546 487h1v1h-1zM552 487h1v1h-1zM554 487h1v1h-1zM495 488h1v1h-1zM499 489h1v1h-1zM529 489h1v1h-1zM558 491h1v1h-1zM563 491h1v1h-1zM546 494h1v1h-1zM87 534h1v1h-1zM89 534h1v1h-1zM108 541h2v1h-2zM112 541h1v1h-1zM85 544h1v1h-1zM518 594h1v1h-1zM524 594h1v1h-1zM106 595h1v1h-1zM571 598h1v1h-1zM585 599h1v1h-1zM505 601h2v1h-2zM578 601h1v1h-1zM586 601h1v1h-1zM83 677h1v1h-1zM108 677h3v1h-3zM112 677h1v1h-1zM965 677h1v1h-1zM125 685h1v1h-1zM354 685h1v1h-1zM583 685h1v1h-1zM812 685h1v1h-1zM583 686h1v1h-1zM812 686h1v1h-1zM354 687h1v1h-1zM583 687h1v1h-1zM812 687h1v1h-1zM354 688h1v1h-1zM583 688h1v1h-1zM973 688h1v1h-1zM217 689h1v1h-1zM263 689h1v1h-1zM446 689h1v1h-1zM492 689h1v1h-1zM583 689h1v1h-1zM675 689h1v1h-1zM904 689h1v1h-1zM108 690h1v1h-1zM583 697h1v1h-1zM568 699h1v1h-1zM591 702h1v1h-1zM816 702h1v1h-1zM358 703h1v1h-1zM580 704h1v1h-1zM122 705h1v1h-1zM591 705h1v1h-1zM343 706h1v1h-1zM586 707h1v1h-1zM797 707h1v1h-1zM575 708h1v1h-1zM821 708h1v1h-1zM826 708h1v1h-1zM344 709h1v1h-1zM473 723h1v1h-1zM516 728h1v1h-1zM530 728h1v1h-1zM562 728h2v1h-2zM577 728h1v1h-1zM589 728h2v1h-2zM512 729h1v1h-1zM478 731h1v1h-1zM481 731h1v1h-1zM527 732h1v1h-1zM498 738h1v1h-1zM510 738h1v1h-1zM512 738h1v1h-1zM594 740h1v1h-1z"/>
<path fill="#150b7f" d="M281 21h1v1h-1zM416 21h1v1h-1zM431 21h1v1h-1zM539 21h1v1h-1zM454 22h1v1h-1zM617 23h1v1h-1zM672 23h1v1h-1zM566 24h1v1h-1zM567 25h1v1h-1zM321 27h1v1h-1zM546 27h1v1h-1zM574 28h1v1h-1zM654 28h1v1h-1zM572 29h1v1h-1zM662 33h1v1h-1zM713 33h1v1h-1zM727 33h1v1h-1zM647 34h1v1h-1zM627 35h1v1h-1zM641 35h1v1h-1zM650 35h1v1h-1zM379 36h1v1h-1zM432 36h1v1h-1zM599 36h1v1h-1zM616 36h1v1h-1zM291 37h1v1h-1zM324 37h1v1h-1zM380 37h1v1h-1zM382 37h1v1h-1zM413 37h1v1h-1zM469 37h1v1h-1zM495 37h1v1h-1zM515 37h1v1h-1zM541 37h1v1h-1zM598 38h1v1h-1zM744 39h1v1h-1zM310 160h1v1h-1zM630 160h1v1h-1zM673 160h1v1h-1zM583 165h1v1h-1zM583 166h1v1h-1zM104 187h1v1h-1zM104 215h1v1h-1zM499 222h1v1h-1zM499 223h1v1h-1zM483 227h1v1h-1zM530 227h1v1h-1zM554 227h1v1h-1zM499 229h1v1h-1zM513 229h1v1h-1zM531 229h1v1h-1zM535 229h1v1h-1zM582 229h1v1h-1zM104 242h1v1h-1zM88 262h1v1h-1zM71 266h1v1h-1zM67 268h1v1h-1zM60 271h1v1h-1zM549 295h1v1h-1zM104 296h1v1h-1zM104 323h1v1h-1zM21 360h1v1h-1zM7 361h1v1h-1zM104 378h1v1h-1zM73 398h1v1h-1zM67 402h1v1h-1zM60 409h1v1h-1zM65 409h1v1h-1zM11 431h1v1h-1zM104 432h1v1h-1zM21 457h1v1h-1zM104 459h1v1h-1zM586 463h1v1h-1zM513 467h1v1h-1zM566 467h1v1h-1zM513 468h1v1h-1zM21 469h1v1h-1zM535 470h1v1h-1zM538 470h1v1h-1zM572 487h1v1h-1zM578 487h1v1h-1zM528 489h1v1h-1zM490 490h1v1h-1zM573 492h1v1h-1zM104 514h1v1h-1zM74 534h1v1h-1zM88 534h1v1h-1zM104 568h1v1h-1zM498 594h1v1h-1zM104 595h1v1h-1zM545 596h1v1h-1zM585 596h1v1h-1zM486 599h1v1h-1zM580 600h1v1h-1zM486 601h1v1h-1zM507 601h1v1h-1zM354 686h1v1h-1zM171 689h1v1h-1zM309 689h1v1h-1zM354 689h1v1h-1zM538 689h1v1h-1zM629 689h1v1h-1zM858 689h1v1h-1zM950 689h1v1h-1zM103 690h1v1h-1zM828 702h1v1h-1zM579 703h1v1h-1zM122 704h1v1h-1zM343 707h1v1h-1zM598 707h1v1h-1zM363 708h1v1h-1zM367 708h1v1h-1zM597 708h1v1h-1zM366 709h1v1h-1zM600 722h1v1h-1zM532 729h1v1h-1zM526 737h1v1h-1zM568 738h1v1h-1zM588 738h1v1h-1zM586 739h1v1h-1zM601 739h1v1h-1z"/>
<path fill="#161069" d="M743 19h1v1h-1zM417 21h1v1h-1zM568 21h1v1h-1zM570 21h2v1h-2zM587 21h1v1h-1zM625 21h1v1h-1zM663 21h1v1h-1zM666 21h1v1h-1zM669 21h1v1h-1zM424 22h1v1h-1zM433 22h1v1h-1zM592 25h1v1h-1zM317 26h1v1h-1zM490 26h1v1h-1zM575 27h2v1h-2zM548 29h1v1h-1zM651 29h1v1h-1zM338 30h1v1h-1zM342 30h1v1h-1zM584 30h1v1h-1zM679 30h1v1h-1zM434 31h1v1h-1zM663 31h1v1h-1zM276 32h1v1h-1zM662 32h1v1h-1zM727 32h1v1h-1zM275 33h1v1h-1zM619 34h1v1h-1zM621 35h1v1h-1zM411 36h1v1h-1zM713 36h1v1h-1zM479 37h1v1h-1zM514 37h1v1h-1zM546 37h1v1h-1zM635 37h1v1h-1zM106 160h1v1h-1zM160 160h2v1h-2zM259 160h1v1h-1zM315 160h1v1h-1zM404 160h1v1h-1zM442 160h1v1h-1zM480 160h2v1h-2zM486 160h2v1h-2zM528 160h2v1h-2zM635 160h1v1h-1zM680 160h1v1h-1zM684 160h2v1h-2zM725 160h1v1h-1zM763 160h1v1h-1zM848 160h2v1h-2zM908 160h1v1h-1zM125 163h1v1h-1zM354 163h1v1h-1zM812 163h1v1h-1zM105 215h1v1h-1zM969 215h2v1h-2zM573 222h1v1h-1zM562 226h1v1h-1zM524 229h1v1h-1zM575 229h1v1h-1zM107 242h1v1h-1zM61 262h1v1h-1zM968 269h1v1h-1zM60 272h1v1h-1zM73 273h1v1h-1zM64 274h3v1h-3zM536 289h1v1h-1zM562 292h1v1h-1zM561 295h1v1h-1zM105 296h1v1h-1zM969 296h2v1h-2zM20 359h1v1h-1zM24 362h1v1h-1zM12 367h1v1h-1zM18 372h1v1h-1zM25 376h1v1h-1zM24 377h1v1h-1zM11 384h1v1h-1zM12 400h1v1h-1zM14 403h1v1h-1zM107 405h1v1h-1zM5 408h1v1h-1zM5 409h1v1h-1zM24 409h1v1h-1zM77 409h1v1h-1zM973 412h1v1h-1zM969 432h1v1h-1zM15 459h1v1h-1zM11 460h1v1h-1zM491 463h1v1h-1zM538 466h1v1h-1zM514 470h1v1h-1zM578 470h1v1h-1zM586 470h1v1h-1zM21 488h1v1h-1zM580 488h1v1h-1zM530 492h1v1h-1zM555 494h1v1h-1zM570 494h1v1h-1zM107 514h1v1h-1zM968 541h1v1h-1zM73 545h1v1h-1zM105 568h1v1h-1zM969 568h2v1h-2zM554 597h1v1h-1zM107 677h1v1h-1zM125 683h1v1h-1zM973 684h1v1h-1zM104 690h1v1h-1zM110 690h2v1h-2zM113 690h1v1h-1zM800 690h1v1h-1zM810 690h1v1h-1zM343 697h1v1h-1zM364 697h1v1h-1zM569 697h1v1h-1zM799 697h1v1h-1zM823 697h1v1h-1zM797 698h1v1h-1zM816 705h1v1h-1zM123 707h1v1h-1zM357 707h1v1h-1zM123 708h1v1h-1zM581 708h1v1h-1zM124 709h1v1h-1zM582 709h1v1h-1zM584 709h1v1h-1zM800 709h2v1h-2zM477 723h3v1h-3zM481 723h1v1h-1zM564 723h1v1h-1zM513 729h1v1h-1zM480 731h1v1h-1zM533 731h1v1h-1zM500 732h1v1h-1zM529 732h1v1h-1zM578 732h1v1h-1zM532 737h1v1h-1zM580 737h1v1h-1zM562 738h1v1h-1zM552 740h1v1h-1zM585 740h1v1h-1zM590 742h1v1h-1z"/>
<path fill="#150c6a" d="M382 21h1v1h-1zM401 21h1v1h-1zM427 21h1v1h-1zM586 21h1v1h-1zM623 21h2v1h-2zM634 21h1v1h-1zM639 21h1v1h-1zM667 21h1v1h-1zM417 22h1v1h-1zM478 26h1v1h-1zM528 26h1v1h-1zM511 27h1v1h-1zM527 27h1v1h-1zM655 27h1v1h-1zM331 30h1v1h-1zM548 30h1v1h-1zM275 35h1v1h-1zM276 36h1v1h-1zM384 36h1v1h-1zM481 36h1v1h-1zM728 36h1v1h-1zM278 37h1v1h-1zM383 37h1v1h-1zM431 37h1v1h-1zM478 37h1v1h-1zM743 40h1v1h-1zM221 160h1v1h-1zM257 160h1v1h-1zM679 160h1v1h-1zM910 160h1v1h-1zM946 160h1v1h-1zM812 164h1v1h-1zM812 165h1v1h-1zM812 166h1v1h-1zM105 187h1v1h-1zM107 187h1v1h-1zM969 187h1v1h-1zM106 215h1v1h-1zM496 222h1v1h-1zM583 222h1v1h-1zM510 225h1v1h-1zM549 227h1v1h-1zM523 228h1v1h-1zM105 242h1v1h-1zM969 242h1v1h-1zM62 262h1v1h-1zM76 262h1v1h-1zM107 269h1v1h-1zM113 269h1v1h-1zM61 270h1v1h-1zM566 289h2v1h-2zM106 296h1v1h-1zM561 296h1v1h-1zM105 323h1v1h-1zM107 323h1v1h-1zM969 323h1v1h-1zM19 376h1v1h-1zM105 378h1v1h-1zM969 378h1v1h-1zM11 383h1v1h-1zM77 398h1v1h-1zM21 399h1v1h-1zM113 405h1v1h-1zM87 410h1v1h-1zM21 432h1v1h-1zM11 444h1v1h-1zM21 446h1v1h-1zM105 459h1v1h-1zM107 459h1v1h-1zM969 459h1v1h-1zM500 463h1v1h-1zM548 463h1v1h-1zM523 465h1v1h-1zM513 466h1v1h-1zM572 467h1v1h-1zM513 469h1v1h-1zM565 469h1v1h-1zM11 470h1v1h-1zM500 470h1v1h-1zM519 470h1v1h-1zM14 485h1v1h-1zM105 486h1v1h-1zM107 486h1v1h-1zM969 486h1v1h-1zM555 487h1v1h-1zM569 487h1v1h-1zM529 490h1v1h-1zM560 491h1v1h-1zM564 491h1v1h-1zM574 492h1v1h-1zM580 493h1v1h-1zM105 514h1v1h-1zM969 514h1v1h-1zM107 541h1v1h-1zM113 541h1v1h-1zM106 568h1v1h-1zM579 594h1v1h-1zM105 595h1v1h-1zM107 595h1v1h-1zM969 595h1v1h-1zM527 601h1v1h-1zM105 649h1v1h-1zM107 649h1v1h-1zM969 649h1v1h-1zM87 682h1v1h-1zM354 684h1v1h-1zM583 684h1v1h-1zM812 684h1v1h-1zM812 688h1v1h-1zM973 689h1v1h-1zM109 690h1v1h-1zM812 697h1v1h-1zM127 698h1v1h-1zM568 698h1v1h-1zM797 699h1v1h-1zM579 701h1v1h-1zM579 704h1v1h-1zM122 706h1v1h-1zM815 706h1v1h-1zM797 708h1v1h-1zM125 709h1v1h-1zM583 709h1v1h-1zM480 723h1v1h-1zM499 728h1v1h-1zM514 728h2v1h-2zM579 728h1v1h-1zM533 729h1v1h-1zM479 731h1v1h-1zM531 732h1v1h-1zM579 732h1v1h-1zM489 738h1v1h-1zM505 738h1v1h-1zM600 740h1v1h-1z"/>
<path fill="#0e0e7f" d="M591 21h1v1h-1zM703 21h1v1h-1zM716 21h2v1h-2zM729 21h1v1h-1zM297 22h1v1h-1zM591 23h1v1h-1zM377 25h1v1h-1zM591 25h1v1h-1zM298 26h1v1h-1zM625 26h1v1h-1zM631 26h1v1h-1zM728 27h1v1h-1zM298 28h1v1h-1zM306 28h1v1h-1zM398 28h1v1h-1zM431 28h1v1h-1zM452 28h1v1h-1zM525 28h1v1h-1zM523 29h1v1h-1zM463 30h1v1h-1zM396 31h1v1h-1zM463 31h1v1h-1zM523 31h1v1h-1zM539 31h1v1h-1zM631 31h1v1h-1zM642 31h1v1h-1zM377 32h1v1h-1zM396 32h1v1h-1zM539 32h1v1h-1zM721 32h1v1h-1zM281 33h1v1h-1zM476 33h1v1h-1zM298 34h1v1h-1zM476 34h1v1h-1zM568 34h1v1h-1zM433 35h1v1h-1zM517 35h1v1h-1zM454 36h1v1h-1zM571 36h1v1h-1zM626 36h1v1h-1zM308 37h1v1h-1zM394 37h1v1h-1zM507 37h1v1h-1zM538 37h1v1h-1zM701 37h1v1h-1zM123 160h1v1h-1zM215 160h1v1h-1zM218 160h1v1h-1zM445 160h1v1h-1zM584 160h1v1h-1zM722 160h1v1h-1zM811 160h1v1h-1zM903 160h1v1h-1zM949 160h1v1h-1zM102 185h1v1h-1zM971 187h1v1h-1zM102 188h1v1h-1zM973 213h1v1h-1zM971 215h1v1h-1zM973 216h1v1h-1zM484 222h1v1h-1zM553 222h1v1h-1zM557 224h1v1h-1zM524 225h1v1h-1zM553 226h1v1h-1zM545 229h1v1h-1zM550 229h1v1h-1zM558 229h1v1h-1zM971 242h1v1h-1zM84 266h1v1h-1zM79 269h1v1h-1zM67 270h1v1h-1zM84 270h1v1h-1zM531 289h1v1h-1zM573 289h1v1h-1zM565 291h1v1h-1zM557 292h1v1h-1zM538 293h1v1h-1zM541 294h1v1h-1zM545 295h1v1h-1zM973 295h1v1h-1zM513 296h1v1h-1zM521 296h1v1h-1zM528 296h1v1h-1zM971 296h1v1h-1zM518 297h1v1h-1zM597 297h1v1h-1zM973 298h1v1h-1zM102 321h1v1h-1zM11 359h1v1h-1zM971 378h1v1h-1zM20 387h1v1h-1zM84 400h1v1h-1zM13 402h1v1h-1zM84 402h1v1h-1zM84 403h1v1h-1zM84 404h1v1h-1zM84 405h1v1h-1zM971 405h1v1h-1zM973 406h1v1h-1zM90 407h1v1h-1zM66 410h1v1h-1zM15 447h1v1h-1zM12 449h1v1h-1zM102 457h1v1h-1zM971 459h1v1h-1zM102 460h1v1h-1zM557 464h1v1h-1zM507 465h1v1h-1zM584 465h1v1h-1zM551 466h1v1h-1zM555 466h1v1h-1zM14 468h1v1h-1zM527 468h1v1h-1zM561 469h1v1h-1zM508 470h1v1h-1zM515 470h1v1h-1zM555 470h1v1h-1zM6 475h1v1h-1zM18 475h1v1h-1zM973 485h1v1h-1zM971 486h1v1h-1zM549 488h1v1h-1zM973 488h1v1h-1zM569 489h1v1h-1zM505 491h1v1h-1zM539 492h1v1h-1zM498 494h1v1h-1zM501 494h1v1h-1zM507 494h1v1h-1zM527 494h1v1h-1zM552 494h1v1h-1zM971 514h1v1h-1zM78 534h1v1h-1zM71 538h1v1h-1zM84 538h1v1h-1zM71 541h1v1h-1zM79 541h1v1h-1zM84 542h1v1h-1zM66 546h1v1h-1zM973 567h1v1h-1zM971 568h1v1h-1zM973 570h1v1h-1zM102 593h1v1h-1zM546 594h1v1h-1zM554 594h2v1h-2zM560 594h1v1h-1zM502 595h1v1h-1zM515 596h1v1h-1zM580 597h1v1h-1zM497 598h1v1h-1zM512 599h1v1h-1zM522 599h1v1h-1zM533 599h1v1h-1zM549 600h1v1h-1zM576 600h1v1h-1zM549 601h1v1h-1zM555 601h1v1h-1zM562 601h1v1h-1zM576 601h1v1h-1zM973 647h1v1h-1zM971 649h1v1h-1zM973 650h1v1h-1zM84 672h1v1h-1zM84 674h1v1h-1zM84 675h1v1h-1zM84 676h1v1h-1zM84 677h1v1h-1zM971 677h1v1h-1zM973 678h1v1h-1zM90 679h1v1h-1zM124 690h1v1h-1zM172 690h1v1h-1zM307 690h1v1h-1zM402 690h1v1h-1zM445 690h1v1h-1zM491 690h1v1h-1zM540 690h1v1h-1zM581 690h3v1h-3zM627 690h1v1h-1zM676 690h1v1h-1zM722 690h1v1h-1zM765 690h1v1h-1zM788 690h2v1h-2zM860 690h1v1h-1zM363 697h1v1h-1zM596 697h1v1h-1zM802 697h1v1h-1zM803 698h1v1h-1zM580 701h1v1h-1zM362 702h1v1h-1zM370 702h1v1h-1zM567 723h1v1h-1zM484 726h1v1h-1zM483 729h1v1h-1zM581 729h1v1h-1zM511 730h1v1h-1zM525 732h1v1h-1zM573 732h1v1h-1zM525 734h1v1h-1zM573 734h1v1h-1zM592 734h1v1h-1zM574 735h1v1h-1zM517 738h1v1h-1z"/>
<path fill="#0c0981" d="M354 21h1v1h-1zM395 21h1v1h-1zM398 21h1v1h-1zM432 21h1v1h-1zM702 21h1v1h-1zM396 22h1v1h-1zM411 22h1v1h-1zM464 22h1v1h-1zM626 22h1v1h-1zM640 22h1v1h-1zM744 22h1v1h-1zM539 23h1v1h-1zM298 24h1v1h-1zM582 24h1v1h-1zM662 24h1v1h-1zM297 25h1v1h-1zM410 25h1v1h-1zM641 25h1v1h-1zM729 26h1v1h-1zM298 27h1v1h-1zM316 27h1v1h-1zM492 27h1v1h-1zM515 27h1v1h-1zM590 27h1v1h-1zM727 27h1v1h-1zM400 28h1v1h-1zM483 28h1v1h-1zM539 28h1v1h-1zM632 28h1v1h-1zM670 28h1v1h-1zM720 28h1v1h-1zM298 29h1v1h-1zM540 29h1v1h-1zM652 29h1v1h-1zM539 30h1v1h-1zM722 30h1v1h-1zM433 31h1v1h-1zM387 32h1v1h-1zM540 32h1v1h-1zM641 32h1v1h-1zM289 33h1v1h-1zM434 33h1v1h-1zM712 33h1v1h-1zM418 34h1v1h-1zM433 34h1v1h-1zM584 34h1v1h-1zM378 35h1v1h-1zM387 35h1v1h-1zM411 35h1v1h-1zM633 35h1v1h-1zM566 36h1v1h-1zM288 37h1v1h-1zM296 37h1v1h-1zM299 37h1v1h-1zM313 37h1v1h-1zM316 37h1v1h-1zM353 37h1v1h-1zM485 37h1v1h-1zM502 37h1v1h-1zM510 37h1v1h-1zM637 37h1v1h-1zM745 37h1v1h-1zM103 160h1v1h-1zM125 160h1v1h-1zM354 160h1v1h-1zM582 160h1v1h-1zM813 160h1v1h-1zM102 162h1v1h-1zM973 187h1v1h-1zM558 222h1v1h-1zM494 224h1v1h-1zM526 224h1v1h-1zM550 224h1v1h-1zM574 224h1v1h-1zM533 225h1v1h-1zM561 225h1v1h-1zM576 225h1v1h-1zM583 225h1v1h-1zM524 226h1v1h-1zM578 226h1v1h-1zM523 227h1v1h-1zM507 229h1v1h-1zM510 229h1v1h-1zM973 243h1v1h-1zM102 268h1v1h-1zM973 268h1v1h-1zM71 269h1v1h-1zM79 270h1v1h-1zM67 273h1v1h-1zM589 289h1v1h-1zM532 290h1v1h-1zM565 290h1v1h-1zM598 290h1v1h-1zM525 292h1v1h-1zM545 292h1v1h-1zM548 292h1v1h-1zM524 293h1v1h-1zM549 293h1v1h-1zM545 294h1v1h-1zM558 294h1v1h-1zM517 295h1v1h-1zM525 296h1v1h-1zM511 297h1v1h-1zM548 297h1v1h-1zM559 297h1v1h-1zM971 323h1v1h-1zM971 350h1v1h-1zM22 361h1v1h-1zM21 369h1v1h-1zM17 375h1v1h-1zM20 375h1v1h-1zM973 379h1v1h-1zM12 387h1v1h-1zM6 396h1v1h-1zM71 404h1v1h-1zM973 404h1v1h-1zM7 410h1v1h-1zM11 412h1v1h-1zM18 412h1v1h-1zM971 432h1v1h-1zM12 435h1v1h-1zM20 453h1v1h-1zM973 459h1v1h-1zM499 464h1v1h-1zM516 466h1v1h-1zM523 466h1v1h-1zM527 466h1v1h-1zM565 466h1v1h-1zM13 468h1v1h-1zM534 468h1v1h-1zM547 468h1v1h-1zM554 468h1v1h-1zM487 469h1v1h-1zM517 469h1v1h-1zM488 470h1v1h-1zM502 470h1v1h-1zM556 470h1v1h-1zM14 475h1v1h-1zM15 476h1v1h-1zM10 481h1v1h-1zM569 488h1v1h-1zM515 490h1v1h-1zM519 490h1v1h-1zM557 490h1v1h-1zM573 490h1v1h-1zM526 491h1v1h-1zM6 492h1v1h-1zM519 492h1v1h-1zM479 493h1v1h-1zM491 493h1v1h-1zM509 493h1v1h-1zM480 494h1v1h-1zM494 494h1v1h-1zM500 494h1v1h-1zM548 494h1v1h-1zM973 515h1v1h-1zM102 540h1v1h-1zM973 540h1v1h-1zM549 594h1v1h-1zM971 595h1v1h-1zM514 596h1v1h-1zM532 596h1v1h-1zM516 597h1v1h-1zM522 597h1v1h-1zM526 597h1v1h-1zM529 598h1v1h-1zM546 598h1v1h-1zM498 600h1v1h-1zM499 601h1v1h-1zM537 601h1v1h-1zM560 601h1v1h-1zM585 601h1v1h-1zM971 622h1v1h-1zM973 676h1v1h-1zM972 690h1v1h-1zM122 698h1v1h-1zM575 698h1v1h-1zM581 698h1v1h-1zM592 698h1v1h-1zM803 699h1v1h-1zM122 700h1v1h-1zM591 700h1v1h-1zM803 701h1v1h-1zM122 702h1v1h-1zM369 702h1v1h-1zM580 702h1v1h-1zM370 703h1v1h-1zM804 703h1v1h-1zM828 703h1v1h-1zM370 704h1v1h-1zM809 705h1v1h-1zM368 708h1v1h-1zM592 708h1v1h-1zM822 708h1v1h-1zM823 709h1v1h-1zM483 727h1v1h-1zM483 728h1v1h-1zM497 729h1v1h-1zM593 729h1v1h-1zM526 732h1v1h-1zM497 737h1v1h-1z"/>
<path fill="#0d0f6a" d="M377 23h1v1h-1zM418 24h1v1h-1zM306 26h1v1h-1zM717 26h1v1h-1zM732 26h1v1h-1zM306 30h1v1h-1zM452 30h1v1h-1zM664 30h1v1h-1zM666 30h1v1h-1zM281 31h1v1h-1zM586 35h1v1h-1zM527 37h1v1h-1zM175 160h1v1h-1zM576 160h1v1h-1zM102 164h1v1h-1zM102 166h1v1h-1zM102 190h1v1h-1zM102 209h1v1h-1zM973 209h1v1h-1zM574 222h1v1h-1zM565 226h1v1h-1zM560 229h1v1h-1zM102 240h1v1h-1zM973 240h1v1h-1zM102 246h1v1h-1zM78 262h1v1h-1zM90 264h1v1h-1zM102 265h1v1h-1zM963 269h1v1h-1zM102 271h1v1h-1zM973 271h1v1h-1zM542 294h1v1h-1zM576 296h1v1h-1zM102 302h1v1h-1zM973 302h1v1h-1zM102 326h1v1h-1zM102 344h1v1h-1zM973 376h1v1h-1zM102 382h1v1h-1zM102 401h1v1h-1zM973 401h1v1h-1zM102 407h1v1h-1zM973 436h1v1h-1zM102 438h1v1h-1zM102 462h1v1h-1zM588 464h1v1h-1zM498 466h1v1h-1zM561 467h1v1h-1zM577 467h1v1h-1zM588 469h1v1h-1zM102 480h1v1h-1zM973 480h1v1h-1zM517 488h1v1h-1zM526 489h1v1h-1zM505 490h1v1h-1zM553 491h1v1h-1zM505 493h2v1h-2zM511 494h1v1h-1zM102 512h1v1h-1zM973 512h1v1h-1zM102 518h1v1h-1zM90 536h1v1h-1zM102 537h1v1h-1zM963 541h1v1h-1zM102 543h1v1h-1zM973 543h1v1h-1zM102 574h1v1h-1zM973 574h1v1h-1zM501 594h1v1h-1zM102 598h1v1h-1zM564 600h1v1h-1zM563 601h1v1h-1zM102 616h1v1h-1zM102 655h1v1h-1zM973 655h1v1h-1zM102 673h1v1h-1zM973 673h1v1h-1zM102 679h1v1h-1zM121 690h1v1h-1zM174 690h1v1h-1zM220 690h1v1h-1zM258 690h1v1h-1zM305 690h1v1h-1zM352 690h1v1h-1zM358 690h1v1h-1zM440 690h1v1h-1zM542 690h1v1h-1zM578 690h1v1h-1zM625 690h1v1h-1zM727 690h1v1h-1zM862 690h1v1h-1zM909 690h1v1h-1zM944 690h1v1h-1zM947 690h1v1h-1zM809 698h1v1h-1zM576 699h1v1h-1zM129 703h1v1h-1zM587 704h1v1h-1zM592 705h1v1h-1zM581 732h1v1h-1zM603 732h1v1h-1z"/>
<path fill="#0d0a6b" d="M298 21h1v1h-1zM540 21h1v1h-1zM589 21h1v1h-1zM619 21h1v1h-1zM635 21h1v1h-1zM733 21h1v1h-1zM582 22h1v1h-1zM671 22h1v1h-1zM647 23h1v1h-1zM713 24h1v1h-1zM281 25h1v1h-1zM305 26h1v1h-1zM480 26h1v1h-1zM281 27h1v1h-1zM429 27h1v1h-1zM433 29h1v1h-1zM586 29h1v1h-1zM334 30h1v1h-1zM569 30h1v1h-1zM649 30h1v1h-1zM377 34h1v1h-1zM649 34h1v1h-1zM592 35h1v1h-1zM665 35h2v1h-2zM497 36h1v1h-1zM651 36h1v1h-1zM466 37h1v1h-1zM528 37h1v1h-1zM579 160h1v1h-1zM125 162h1v1h-1zM309 162h1v1h-1zM354 162h1v1h-1zM538 162h1v1h-1zM629 162h1v1h-1zM858 162h1v1h-1zM973 164h1v1h-1zM125 166h1v1h-1zM354 166h1v1h-1zM102 211h1v1h-1zM973 211h1v1h-1zM102 213h1v1h-1zM509 227h1v1h-1zM577 228h1v1h-1zM505 229h1v1h-1zM525 229h1v1h-1zM67 265h1v1h-1zM966 269h1v1h-1zM517 292h1v1h-1zM521 292h1v1h-1zM527 292h2v1h-2zM542 292h1v1h-1zM567 292h1v1h-1zM562 293h1v1h-1zM572 294h1v1h-1zM512 297h1v1h-1zM102 298h1v1h-1zM102 300h1v1h-1zM973 300h1v1h-1zM973 347h1v1h-1zM105 350h1v1h-1zM969 350h1v1h-1zM22 367h1v1h-1zM25 370h1v1h-1zM25 372h1v1h-1zM25 374h1v1h-1zM62 398h1v1h-1zM78 398h1v1h-1zM966 405h1v1h-1zM67 409h1v1h-1zM22 410h1v1h-1zM12 412h1v1h-1zM102 434h1v1h-1zM19 436h1v1h-1zM102 436h1v1h-1zM21 460h1v1h-1zM586 466h1v1h-1zM570 467h1v1h-1zM12 468h1v1h-1zM503 468h1v1h-1zM588 468h1v1h-1zM510 469h1v1h-1zM558 469h1v1h-1zM549 470h1v1h-1zM973 483h1v1h-1zM562 491h1v1h-1zM495 492h1v1h-1zM545 492h2v1h-2zM502 493h1v1h-1zM550 493h1v1h-1zM541 494h1v1h-1zM556 494h1v1h-1zM966 541h1v1h-1zM74 546h1v1h-1zM102 570h1v1h-1zM102 572h1v1h-1zM973 572h1v1h-1zM502 594h1v1h-1zM498 596h1v1h-1zM585 597h1v1h-1zM973 619h1v1h-1zM105 622h1v1h-1zM969 622h1v1h-1zM973 652h1v1h-1zM966 677h1v1h-1zM169 690h1v1h-1zM223 690h1v1h-1zM494 690h1v1h-1zM673 690h1v1h-1zM814 690h1v1h-1zM355 697h1v1h-1zM368 697h1v1h-1zM573 697h1v1h-1zM804 699h1v1h-1zM569 700h1v1h-1zM121 701h1v1h-1zM587 702h1v1h-1zM580 705h1v1h-1zM597 706h1v1h-1zM581 707h1v1h-1zM804 708h1v1h-1zM353 709h1v1h-1zM594 709h1v1h-1zM551 724h1v1h-1zM602 725h1v1h-1zM531 728h1v1h-1zM594 728h1v1h-1zM528 729h1v1h-1zM560 729h1v1h-1zM576 729h1v1h-1zM533 732h1v1h-1zM574 732h1v1h-1zM496 734h1v1h-1zM499 738h1v1h-1zM602 738h1v1h-1zM587 742h1v1h-1zM592 742h1v1h-1z"/>
<path fill="#fdf1e7" d="M739 25h1v1h-1zM563 221h1v1h-1zM475 225h1v1h-1zM476 230h2v1h-2zM545 300h1v1h-1zM485 465h1v1h-1zM481 470h1v1h-1zM474 487h2v1h-2zM477 489h1v1h-1zM482 594h1v1h-1zM477 596h1v1h-1zM477 599h1v1h-1zM482 602h1v1h-1zM484 602h1v1h-1zM491 606h1v1h-1zM171 694h1v1h-1zM556 729h1v1h-1z"/>
<path fill="#ffe5e5" d="M476 222h1v1h-1zM478 223h1v1h-1zM475 224h1v1h-1zM481 224h1v1h-1zM481 225h1v1h-1zM475 226h1v1h-1zM481 226h1v1h-1zM479 227h1v1h-1zM481 227h1v1h-1zM476 229h1v1h-1zM478 229h2v1h-2zM492 290h4v1h-4zM490 292h1v1h-1zM490 294h1v1h-1zM490 295h1v1h-1zM492 295h1v1h-1zM490 296h1v1h-1zM491 297h2v1h-2zM495 297h1v1h-1zM484 464h1v1h-1zM485 466h1v1h-1zM485 467h1v1h-1zM476 488h1v1h-1zM477 490h1v1h-1zM477 491h1v1h-1zM473 494h1v1h-1zM480 594h2v1h-2zM483 595h1v1h-1zM478 596h1v1h-1zM478 597h1v1h-1zM478 599h1v1h-1zM479 601h3v1h-3zM483 601h1v1h-1z"/>
<path fill="#ffdbdc" d="M479 226h1v1h-1zM478 227h1v1h-1zM477 229h1v1h-1zM490 293h1v1h-1zM493 294h2v1h-2zM493 295h2v1h-2zM493 297h2v1h-2zM482 467h2v1h-2zM481 468h3v1h-3zM474 491h2v1h-2zM473 492h3v1h-3zM478 598h1v1h-1zM482 598h1v1h-1zM481 599h2v1h-2zM482 601h1v1h-1z"/>
<path fill="#ce1918" d="M476 224h1v1h-1zM478 224h1v1h-1zM476 225h1v1h-1zM479 225h1v1h-1zM476 226h1v1h-1zM476 227h2v1h-2zM493 291h1v1h-1zM492 292h1v1h-1zM492 293h1v1h-1zM481 464h2v1h-2zM480 465h1v1h-1zM483 465h1v1h-1zM480 466h1v1h-1zM482 466h1v1h-1zM480 467h1v1h-1zM473 488h2v1h-2zM472 489h1v1h-1zM475 489h1v1h-1zM472 490h1v1h-1zM474 490h1v1h-1zM472 491h1v1h-1zM480 596h1v1h-1zM480 598h2v1h-2z"/>
<path fill="#e10a0b" d="M477 224h1v1h-1zM477 225h2v1h-2zM477 226h1v1h-1zM493 292h2v1h-2zM493 293h2v1h-2zM481 465h2v1h-2zM481 466h1v1h-1zM481 467h1v1h-1zM473 489h2v1h-2zM473 490h1v1h-1zM473 491h1v1h-1zM481 596h2v1h-2zM480 597h3v1h-3z"/>
<path fill="#b22021" d="M479 224h1v1h-1zM480 225h1v1h-1zM478 226h1v1h-1zM477 228h1v1h-1zM492 291h1v1h-1zM494 291h1v1h-1zM491 292h1v1h-1zM495 292h1v1h-1zM491 293h1v1h-1zM495 293h1v1h-1zM480 464h1v1h-1zM483 464h1v1h-1zM483 466h1v1h-1zM480 468h1v1h-1zM481 469h1v1h-1zM472 488h1v1h-1zM475 488h1v1h-1zM475 490h1v1h-1zM472 492h1v1h-1zM473 493h1v1h-1zM480 595h2v1h-2zM479 596h1v1h-1zM483 596h1v1h-1zM479 597h1v1h-1zM483 597h1v1h-1zM479 598h1v1h-1zM480 599h1v1h-1zM481 600h2v1h-2z"/>
<path fill="#9d2729" d="M476 223h2v1h-2zM480 224h1v1h-1zM480 226h1v1h-1zM480 227h1v1h-1zM476 228h1v1h-1zM478 228h3v1h-3zM491 291h1v1h-1zM495 291h1v1h-1zM491 294h2v1h-2zM495 294h1v1h-1zM491 295h1v1h-1zM495 295h1v1h-1zM491 296h5v1h-5zM484 465h1v1h-1zM484 466h1v1h-1zM484 467h1v1h-1zM484 468h1v1h-1zM480 469h1v1h-1zM482 469h3v1h-3zM476 489h1v1h-1zM476 490h1v1h-1zM476 491h1v1h-1zM476 492h1v1h-1zM472 493h1v1h-1zM474 493h3v1h-3zM479 595h1v1h-1zM482 595h1v1h-1zM483 598h1v1h-1zM479 599h1v1h-1zM483 599h1v1h-1zM479 600h2v1h-2zM483 600h1v1h-1z"/>
</svg>
</body></html>
